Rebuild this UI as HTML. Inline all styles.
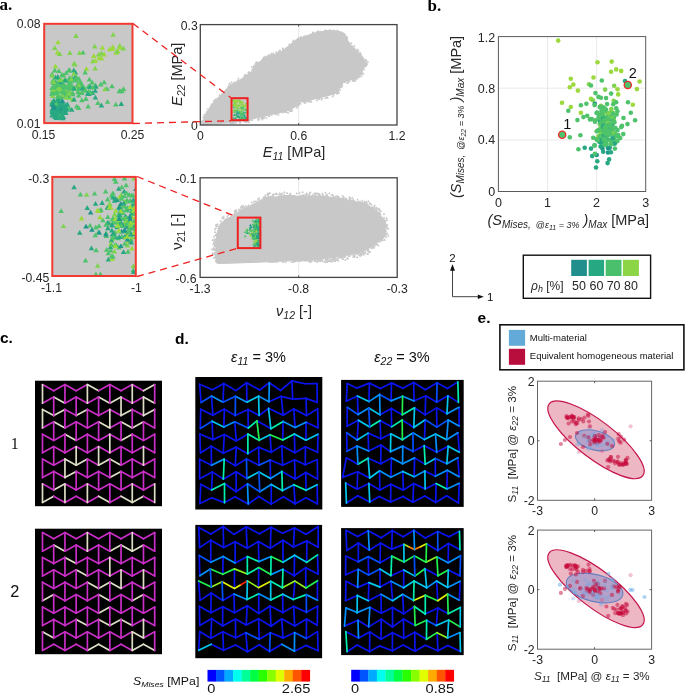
<!DOCTYPE html>
<html><head><meta charset="utf-8"><style>
html,body{margin:0;padding:0;background:#fff;width:685px;height:694px;overflow:hidden}
svg{display:block;font-family:"Liberation Sans",sans-serif}
svg{will-change:transform}
</style></head><body>
<svg width="685" height="694" viewBox="0 0 685 694">
<defs>
<clipPath id="ci1"><rect x="44.2" y="23.8" width="88.3" height="99.3"/></clipPath>
<clipPath id="ci2"><rect x="52.3" y="176.9" width="83.5" height="99.1"/></clipPath>
</defs>
<rect width="685" height="694" fill="#fff"/>
<text x="-0.6" y="9.5" font-size="17" font-weight="bold" font-family="Liberation Serif" fill="#000">a.</text>
<rect x="44.2" y="23.8" width="88.3" height="99.3" fill="#c8c8c8"/>
<g clip-path="url(#ci1)"><path d="M73.2 37.9L78.7 37.9L76.0 33.1Z" fill="#7fd34e"/><path d="M54.6 54.4L60.1 54.4L57.4 49.7Z" fill="#9bd93c"/><path d="M92.4 70.5L97.9 70.5L95.1 65.7Z" fill="#7fd34e"/><path d="M52.0 50.0L57.5 50.0L54.8 45.3Z" fill="#7fd34e"/><path d="M67.1 55.1L72.6 55.1L69.8 50.3Z" fill="#7fd34e"/><path d="M110.4 36.7L115.9 36.7L113.2 31.9Z" fill="#7fd34e"/><path d="M95.9 56.5L101.4 56.5L98.7 51.7Z" fill="#7fd34e"/><path d="M92.0 48.4L97.5 48.4L94.7 43.7Z" fill="#7fd34e"/><path d="M52.7 68.3L58.2 68.3L55.4 63.5Z" fill="#9bd93c"/><path d="M80.3 54.6L85.8 54.6L83.0 49.9Z" fill="#4ec36b"/><path d="M72.1 66.5L77.6 66.5L74.8 61.7Z" fill="#7fd34e"/><path d="M56.9 56.0L62.4 56.0L59.6 51.2Z" fill="#7fd34e"/><path d="M76.8 54.9L82.3 54.9L79.6 50.2Z" fill="#7fd34e"/><path d="M91.0 58.0L96.5 58.0L93.8 53.2Z" fill="#9bd93c"/><path d="M99.6 49.8L105.1 49.8L102.3 45.0Z" fill="#9bd93c"/><path d="M83.7 71.1L89.2 71.1L86.5 66.3Z" fill="#9bd93c"/><path d="M71.4 65.6L76.9 65.6L74.2 60.8Z" fill="#7fd34e"/><path d="M55.3 44.3L60.8 44.3L58.1 39.5Z" fill="#9bd93c"/><path d="M117.0 47.7L122.5 47.7L119.8 42.9Z" fill="#7fd34e"/><path d="M90.1 63.2L95.6 63.2L92.8 58.4Z" fill="#7fd34e"/><path d="M114.6 53.0L120.1 53.0L117.4 48.2Z" fill="#7fd34e"/><path d="M110.1 49.0L115.6 49.0L112.8 44.2Z" fill="#9bd93c"/><path d="M98.8 60.5L104.3 60.5L101.5 55.7Z" fill="#9bd93c"/><path d="M92.8 62.8L98.3 62.8L95.5 58.0Z" fill="#9bd93c"/><path d="M113.4 54.8L118.9 54.8L116.1 50.0Z" fill="#9bd93c"/><path d="M106.8 51.3L112.3 51.3L109.6 46.6Z" fill="#9bd93c"/><path d="M101.4 56.4L106.9 56.4L104.1 51.6Z" fill="#9bd93c"/><path d="M98.8 55.2L104.3 55.2L101.6 50.4Z" fill="#7fd34e"/><path d="M114.9 53.3L120.4 53.3L117.6 48.5Z" fill="#9bd93c"/><path d="M117.4 49.6L122.9 49.6L120.1 44.8Z" fill="#9bd93c"/><path d="M109.6 51.0L115.1 51.0L112.3 46.2Z" fill="#9bd93c"/><path d="M96.5 59.9L102.0 59.9L99.3 55.1Z" fill="#9bd93c"/><path d="M120.6 50.5L126.1 50.5L123.4 45.7Z" fill="#7fd34e"/><path d="M114.1 53.6L119.6 53.6L116.8 48.8Z" fill="#7fd34e"/><path d="M49.4 90.1L54.9 90.1L52.1 85.3Z" fill="#4ec36b"/><path d="M76.0 87.0L81.5 87.0L78.8 82.2Z" fill="#4ec36b"/><path d="M78.6 85.8L84.1 85.8L81.3 81.0Z" fill="#4ec36b"/><path d="M77.0 85.8L82.5 85.8L79.8 81.0Z" fill="#7fd34e"/><path d="M89.7 95.1L95.2 95.1L92.4 90.3Z" fill="#27a882"/><path d="M78.1 85.8L83.6 85.8L80.8 81.0Z" fill="#4ec36b"/><path d="M65.0 94.4L70.5 94.4L67.7 89.7Z" fill="#4ec36b"/><path d="M69.3 90.3L74.8 90.3L72.1 85.5Z" fill="#4ec36b"/><path d="M61.7 91.6L67.2 91.6L64.5 86.9Z" fill="#4ec36b"/><path d="M70.1 96.3L75.6 96.3L72.9 91.5Z" fill="#4ec36b"/><path d="M60.7 89.4L66.2 89.4L63.5 84.6Z" fill="#4ec36b"/><path d="M75.4 85.9L80.9 85.9L78.2 81.1Z" fill="#4ec36b"/><path d="M68.7 81.6L74.2 81.6L71.4 76.8Z" fill="#4ec36b"/><path d="M82.4 74.5L87.9 74.5L85.1 69.7Z" fill="#4ec36b"/><path d="M56.0 92.5L61.5 92.5L58.7 87.7Z" fill="#27a882"/><path d="M104.3 91.0L109.8 91.0L107.0 86.3Z" fill="#4ec36b"/><path d="M57.7 89.7L63.2 89.7L60.4 85.0Z" fill="#4ec36b"/><path d="M49.3 76.3L54.8 76.3L52.1 71.5Z" fill="#4ec36b"/><path d="M54.9 85.2L60.4 85.2L57.6 80.4Z" fill="#4ec36b"/><path d="M62.9 108.3L68.4 108.3L65.7 103.5Z" fill="#4ec36b"/><path d="M64.4 97.4L69.9 97.4L67.1 92.6Z" fill="#4ec36b"/><path d="M50.1 82.7L55.6 82.7L52.9 77.9Z" fill="#7fd34e"/><path d="M69.4 80.0L74.9 80.0L72.2 75.3Z" fill="#4ec36b"/><path d="M92.7 87.4L98.2 87.4L95.4 82.6Z" fill="#4ec36b"/><path d="M52.6 79.6L58.1 79.6L55.4 74.8Z" fill="#27a882"/><path d="M77.7 89.2L83.2 89.2L80.4 84.4Z" fill="#4ec36b"/><path d="M71.1 72.4L76.6 72.4L73.8 67.6Z" fill="#27a882"/><path d="M54.2 95.0L59.7 95.0L57.0 90.2Z" fill="#4ec36b"/><path d="M50.2 83.7L55.7 83.7L52.9 78.9Z" fill="#4ec36b"/><path d="M81.6 90.0L87.1 90.0L84.4 85.2Z" fill="#4ec36b"/><path d="M54.9 80.6L60.4 80.6L57.6 75.8Z" fill="#4ec36b"/><path d="M66.9 72.4L72.4 72.4L69.7 67.6Z" fill="#4ec36b"/><path d="M60.8 77.4L66.3 77.4L63.5 72.6Z" fill="#4ec36b"/><path d="M67.5 87.3L73.0 87.3L70.3 82.5Z" fill="#4ec36b"/><path d="M67.3 94.8L72.8 94.8L70.1 90.0Z" fill="#4ec36b"/><path d="M57.2 100.1L62.7 100.1L59.9 95.3Z" fill="#4ec36b"/><path d="M61.5 81.7L67.0 81.7L64.3 76.9Z" fill="#7fd34e"/><path d="M65.2 98.9L70.7 98.9L68.0 94.1Z" fill="#27a882"/><path d="M72.6 74.5L78.1 74.5L75.4 69.8Z" fill="#27a882"/><path d="M52.4 84.2L57.9 84.2L55.2 79.4Z" fill="#4ec36b"/><path d="M75.3 94.0L80.8 94.0L78.0 89.2Z" fill="#4ec36b"/><path d="M66.0 72.4L71.5 72.4L68.8 67.6Z" fill="#4ec36b"/><path d="M81.4 92.4L86.9 92.4L84.1 87.6Z" fill="#4ec36b"/><path d="M51.2 84.6L56.7 84.6L53.9 79.8Z" fill="#4ec36b"/><path d="M75.6 91.2L81.1 91.2L78.3 86.4Z" fill="#4ec36b"/><path d="M53.2 85.2L58.7 85.2L55.9 80.4Z" fill="#27a882"/><path d="M67.9 84.3L73.4 84.3L70.7 79.5Z" fill="#4ec36b"/><path d="M63.3 97.8L68.8 97.8L66.1 93.0Z" fill="#4ec36b"/><path d="M102.2 91.3L107.7 91.3L105.0 86.5Z" fill="#7fd34e"/><path d="M75.8 97.4L81.3 97.4L78.6 92.6Z" fill="#4ec36b"/><path d="M86.3 95.9L91.8 95.9L89.1 91.2Z" fill="#27a882"/><path d="M52.6 88.0L58.1 88.0L55.3 83.3Z" fill="#4ec36b"/><path d="M53.2 95.1L58.7 95.1L56.0 90.3Z" fill="#4ec36b"/><path d="M60.8 98.3L66.3 98.3L63.5 93.5Z" fill="#27a882"/><path d="M79.1 102.3L84.6 102.3L81.8 97.5Z" fill="#4ec36b"/><path d="M72.8 82.3L78.3 82.3L75.6 77.5Z" fill="#27a882"/><path d="M66.5 84.7L72.0 84.7L69.2 79.9Z" fill="#4ec36b"/><path d="M57.1 92.8L62.6 92.8L59.8 88.0Z" fill="#4ec36b"/><path d="M70.6 90.4L76.1 90.4L73.4 85.6Z" fill="#4ec36b"/><path d="M76.1 80.7L81.6 80.7L78.9 75.9Z" fill="#4ec36b"/><path d="M59.9 97.4L65.4 97.4L62.6 92.6Z" fill="#7fd34e"/><path d="M54.4 91.4L59.9 91.4L57.2 86.6Z" fill="#7fd34e"/><path d="M74.5 88.2L80.0 88.2L77.3 83.4Z" fill="#27a882"/><path d="M56.1 73.0L61.6 73.0L58.9 68.3Z" fill="#4ec36b"/><path d="M49.4 95.8L54.9 95.8L52.2 91.0Z" fill="#27a882"/><path d="M67.2 94.5L72.7 94.5L69.9 89.7Z" fill="#4ec36b"/><path d="M52.0 72.4L57.5 72.4L54.8 67.6Z" fill="#4ec36b"/><path d="M73.9 108.5L79.4 108.5L76.6 103.8Z" fill="#4ec36b"/><path d="M79.9 88.5L85.4 88.5L82.6 83.7Z" fill="#4ec36b"/><path d="M85.5 88.6L91.0 88.6L88.3 83.9Z" fill="#4ec36b"/><path d="M78.2 84.9L83.7 84.9L80.9 80.2Z" fill="#4ec36b"/><path d="M86.6 81.5L92.1 81.5L89.4 76.7Z" fill="#4ec36b"/><path d="M55.1 85.7L60.6 85.7L57.8 80.9Z" fill="#4ec36b"/><path d="M62.8 93.8L68.3 93.8L65.6 89.0Z" fill="#7fd34e"/><path d="M49.7 92.5L55.2 92.5L52.5 87.7Z" fill="#7fd34e"/><path d="M52.6 93.3L58.1 93.3L55.3 88.5Z" fill="#27a882"/><path d="M67.2 99.9L72.7 99.9L69.9 95.1Z" fill="#7fd34e"/><path d="M59.4 93.9L64.9 93.9L62.2 89.2Z" fill="#4ec36b"/><path d="M63.0 88.3L68.5 88.3L65.8 83.5Z" fill="#4ec36b"/><path d="M67.8 94.9L73.3 94.9L70.6 90.1Z" fill="#7fd34e"/><path d="M55.1 85.3L60.6 85.3L57.9 80.5Z" fill="#4ec36b"/><path d="M69.6 89.1L75.1 89.1L72.3 84.3Z" fill="#4ec36b"/><path d="M55.1 96.0L60.6 96.0L57.9 91.2Z" fill="#7fd34e"/><path d="M61.3 94.8L66.8 94.8L64.1 90.0Z" fill="#4ec36b"/><path d="M52.8 90.0L58.3 90.0L55.6 85.2Z" fill="#4ec36b"/><path d="M65.9 88.7L71.4 88.7L68.6 83.9Z" fill="#4ec36b"/><path d="M83.2 101.1L88.7 101.1L86.0 96.3Z" fill="#4ec36b"/><path d="M58.5 88.7L64.0 88.7L61.3 83.9Z" fill="#4ec36b"/><path d="M55.2 106.6L60.7 106.6L58.0 101.8Z" fill="#4ec36b"/><path d="M50.6 93.6L56.1 93.6L53.3 88.8Z" fill="#4ec36b"/><path d="M66.8 79.7L72.3 79.7L69.6 74.9Z" fill="#4ec36b"/><path d="M69.8 94.9L75.3 94.9L72.6 90.1Z" fill="#4ec36b"/><path d="M77.3 84.1L82.8 84.1L80.0 79.3Z" fill="#4ec36b"/><path d="M55.8 103.5L61.3 103.5L58.5 98.7Z" fill="#4ec36b"/><path d="M56.2 90.8L61.7 90.8L58.9 86.0Z" fill="#4ec36b"/><path d="M73.1 78.6L78.6 78.6L75.9 73.8Z" fill="#4ec36b"/><path d="M60.3 85.8L65.8 85.8L63.0 81.0Z" fill="#4ec36b"/><path d="M63.6 82.7L69.1 82.7L66.3 77.9Z" fill="#4ec36b"/><path d="M70.0 89.1L75.5 89.1L72.8 84.3Z" fill="#4ec36b"/><path d="M53.5 87.7L59.0 87.7L56.3 83.0Z" fill="#7fd34e"/><path d="M49.9 93.2L55.4 93.2L52.7 88.4Z" fill="#4ec36b"/><path d="M50.2 94.4L55.7 94.4L52.9 89.7Z" fill="#4ec36b"/><path d="M66.2 82.3L71.7 82.3L69.0 77.5Z" fill="#4ec36b"/><path d="M55.1 98.5L60.6 98.5L57.9 93.7Z" fill="#4ec36b"/><path d="M53.9 103.7L59.4 103.7L56.6 98.9Z" fill="#4ec36b"/><path d="M53.0 89.7L58.5 89.7L55.8 85.0Z" fill="#4ec36b"/><path d="M61.6 87.8L67.1 87.8L64.3 83.0Z" fill="#4ec36b"/><path d="M49.8 98.1L55.3 98.1L52.6 93.3Z" fill="#7fd34e"/><path d="M58.2 81.7L63.7 81.7L60.9 76.9Z" fill="#4ec36b"/><path d="M89.4 84.6L94.9 84.6L92.2 79.8Z" fill="#4ec36b"/><path d="M54.2 94.6L59.7 94.6L56.9 89.8Z" fill="#4ec36b"/><path d="M70.0 102.0L75.5 102.0L72.8 97.2Z" fill="#7fd34e"/><path d="M50.7 85.0L56.2 85.0L53.5 80.3Z" fill="#4ec36b"/><path d="M87.1 87.7L92.6 87.7L89.8 82.9Z" fill="#4ec36b"/><path d="M78.9 95.0L84.4 95.0L81.7 90.3Z" fill="#4ec36b"/><path d="M55.4 90.5L60.9 90.5L58.1 85.7Z" fill="#7fd34e"/><path d="M71.2 75.8L76.7 75.8L73.9 71.0Z" fill="#7fd34e"/><path d="M75.8 87.4L81.3 87.4L78.6 82.6Z" fill="#7fd34e"/><path d="M55.2 97.9L60.7 97.9L57.9 93.2Z" fill="#4ec36b"/><path d="M49.5 90.1L55.0 90.1L52.2 85.3Z" fill="#4ec36b"/><path d="M101.4 84.3L106.9 84.3L104.1 79.5Z" fill="#4ec36b"/><path d="M51.6 91.3L57.1 91.3L54.4 86.5Z" fill="#4ec36b"/><path d="M51.8 94.4L57.3 94.4L54.5 89.6Z" fill="#4ec36b"/><path d="M65.9 95.5L71.4 95.5L68.7 90.8Z" fill="#4ec36b"/><path d="M57.7 84.4L63.2 84.4L60.4 79.6Z" fill="#27a882"/><path d="M64.9 89.6L70.4 89.6L67.7 84.8Z" fill="#4ec36b"/><path d="M65.7 97.8L71.2 97.8L68.4 93.0Z" fill="#4ec36b"/><path d="M66.1 90.4L71.6 90.4L68.9 85.6Z" fill="#4ec36b"/><path d="M92.6 99.6L98.1 99.6L95.4 94.8Z" fill="#27a882"/><path d="M49.3 77.7L54.8 77.7L52.1 72.9Z" fill="#7fd34e"/><path d="M55.0 78.9L60.5 78.9L57.7 74.1Z" fill="#27a882"/><path d="M75.9 109.9L81.4 109.9L78.6 105.1Z" fill="#4ec36b"/><path d="M55.2 100.2L60.7 100.2L57.9 95.5Z" fill="#4ec36b"/><path d="M85.8 93.5L91.3 93.5L88.6 88.7Z" fill="#4ec36b"/><path d="M71.9 80.1L77.4 80.1L74.7 75.3Z" fill="#27a882"/><path d="M93.1 88.8L98.6 88.8L95.9 84.0Z" fill="#27a882"/><path d="M87.2 89.0L92.7 89.0L89.9 84.2Z" fill="#27a882"/><path d="M79.6 90.6L85.1 90.6L82.3 85.8Z" fill="#27a882"/><path d="M72.9 81.8L78.4 81.8L75.7 77.0Z" fill="#7fd34e"/><path d="M54.5 86.8L60.0 86.8L57.3 82.0Z" fill="#4ec36b"/><path d="M61.9 95.0L67.4 95.0L64.7 90.2Z" fill="#4ec36b"/><path d="M64.9 95.5L70.4 95.5L67.7 90.7Z" fill="#4ec36b"/><path d="M68.7 81.3L74.2 81.3L71.5 76.5Z" fill="#7fd34e"/><path d="M49.8 95.6L55.3 95.6L52.5 90.9Z" fill="#4ec36b"/><path d="M59.1 76.7L64.6 76.7L61.8 71.9Z" fill="#4ec36b"/><path d="M56.3 87.3L61.8 87.3L59.0 82.5Z" fill="#4ec36b"/><path d="M79.2 94.7L84.7 94.7L81.9 89.9Z" fill="#4ec36b"/><path d="M63.3 75.0L68.8 75.0L66.1 70.2Z" fill="#4ec36b"/><path d="M51.0 84.0L56.5 84.0L53.8 79.2Z" fill="#7fd34e"/><path d="M62.3 82.2L67.8 82.2L65.1 77.4Z" fill="#27a882"/><path d="M66.1 95.5L71.6 95.5L68.9 90.8Z" fill="#7fd34e"/><path d="M50.7 91.8L56.2 91.8L53.4 87.0Z" fill="#7fd34e"/><path d="M54.3 86.9L59.8 86.9L57.0 82.1Z" fill="#4ec36b"/><path d="M63.5 99.5L69.0 99.5L66.3 94.7Z" fill="#7fd34e"/><path d="M57.9 99.2L63.4 99.2L60.7 94.4Z" fill="#4ec36b"/><path d="M72.2 90.4L77.7 90.4L74.9 85.6Z" fill="#7fd34e"/><path d="M60.6 92.7L66.1 92.7L63.4 87.9Z" fill="#4ec36b"/><path d="M55.4 98.7L60.9 98.7L58.1 93.9Z" fill="#4ec36b"/><path d="M82.6 92.3L88.1 92.3L85.4 87.5Z" fill="#4ec36b"/><path d="M66.6 110.4L72.1 110.4L69.3 105.6Z" fill="#4ec36b"/><path d="M71.3 90.4L76.8 90.4L74.0 85.6Z" fill="#27a882"/><path d="M109.2 88.3L114.8 88.3L112.0 83.5Z" fill="#4ec36b"/><path d="M83.0 101.0L88.5 101.0L85.8 96.2Z" fill="#4ec36b"/><path d="M57.0 91.0L62.5 91.0L59.8 86.2Z" fill="#7fd34e"/><path d="M98.1 86.4L103.6 86.4L100.8 81.6Z" fill="#4ec36b"/><path d="M71.8 82.6L77.3 82.6L74.5 77.8Z" fill="#4ec36b"/><path d="M72.9 81.3L78.4 81.3L75.6 76.5Z" fill="#4ec36b"/><path d="M90.1 89.6L95.6 89.6L92.9 84.8Z" fill="#4ec36b"/><path d="M50.9 89.5L56.4 89.5L53.7 84.7Z" fill="#4ec36b"/><path d="M57.7 82.0L63.2 82.0L60.5 77.2Z" fill="#7fd34e"/><path d="M88.0 94.6L93.5 94.6L90.8 89.9Z" fill="#4ec36b"/><path d="M87.2 94.3L92.7 94.3L90.0 89.6Z" fill="#4ec36b"/><path d="M113.0 106.5L118.5 106.5L115.8 101.7Z" fill="#4ec36b"/><path d="M120.8 91.1L126.3 91.1L123.5 86.3Z" fill="#4ec36b"/><path d="M119.2 93.3L124.7 93.3L122.0 88.6Z" fill="#4ec36b"/><path d="M84.9 95.8L90.4 95.8L87.7 91.0Z" fill="#27a882"/><path d="M85.4 108.6L90.9 108.6L88.1 103.8Z" fill="#4ec36b"/><path d="M117.3 93.1L122.8 93.1L120.0 88.3Z" fill="#4ec36b"/><path d="M116.5 93.2L122.0 93.2L119.2 88.5Z" fill="#4ec36b"/><path d="M92.5 92.8L98.0 92.8L95.2 88.0Z" fill="#27a882"/><path d="M95.2 104.9L100.7 104.9L97.9 100.2Z" fill="#4ec36b"/><path d="M118.5 105.9L124.0 105.9L121.3 101.1Z" fill="#27a882"/><path d="M98.7 107.4L104.2 107.4L101.4 102.6Z" fill="#27a882"/><path d="M104.8 103.7L110.3 103.7L107.5 98.9Z" fill="#4ec36b"/><path d="M57.7 113.1L63.2 113.1L60.5 108.3Z" fill="#27a882"/><path d="M53.0 113.6L58.5 113.6L55.8 108.9Z" fill="#27a882"/><path d="M69.0 111.8L74.5 111.8L71.8 107.1Z" fill="#27a882"/><path d="M51.0 110.4L56.5 110.4L53.8 105.6Z" fill="#27a882"/><path d="M50.6 115.4L56.1 115.4L53.4 110.6Z" fill="#1f968b"/><path d="M56.0 106.3L61.5 106.3L58.8 101.6Z" fill="#1f968b"/><path d="M50.0 114.1L55.5 114.1L52.7 109.3Z" fill="#27a882"/><path d="M59.6 104.6L65.1 104.6L62.3 99.8Z" fill="#27a882"/><path d="M58.7 116.8L64.2 116.8L61.4 112.0Z" fill="#4ec36b"/><path d="M54.1 105.6L59.6 105.6L56.8 100.8Z" fill="#27a882"/><path d="M59.1 104.0L64.6 104.0L61.8 99.3Z" fill="#27a882"/><path d="M49.5 106.0L55.0 106.0L52.2 101.2Z" fill="#27a882"/><path d="M51.4 105.9L56.9 105.9L54.1 101.2Z" fill="#27a882"/><path d="M52.5 116.8L58.0 116.8L55.3 112.0Z" fill="#27a882"/><path d="M60.6 109.2L66.1 109.2L63.4 104.5Z" fill="#27a882"/><path d="M59.0 115.6L64.5 115.6L61.7 110.8Z" fill="#27a882"/><path d="M55.1 102.6L60.6 102.6L57.8 97.8Z" fill="#27a882"/><path d="M55.0 112.3L60.5 112.3L57.7 107.5Z" fill="#27a882"/><path d="M56.7 113.4L62.2 113.4L59.5 108.6Z" fill="#27a882"/><path d="M56.8 103.2L62.3 103.2L59.6 98.4Z" fill="#27a882"/><path d="M59.0 109.6L64.5 109.6L61.7 104.8Z" fill="#27a882"/><path d="M57.9 117.5L63.4 117.5L60.6 112.7Z" fill="#27a882"/><path d="M55.9 115.9L61.4 115.9L58.6 111.1Z" fill="#27a882"/><path d="M56.0 119.8L61.5 119.8L58.8 115.0Z" fill="#27a882"/><path d="M58.2 119.0L63.7 119.0L61.0 114.2Z" fill="#4ec36b"/><path d="M49.3 117.6L54.8 117.6L52.0 112.9Z" fill="#27a882"/><path d="M49.3 104.3L54.8 104.3L52.0 99.5Z" fill="#4ec36b"/><path d="M53.6 119.9L59.1 119.9L56.3 115.1Z" fill="#27a882"/><path d="M62.7 113.7L68.2 113.7L65.4 108.9Z" fill="#27a882"/><path d="M54.4 103.0L59.9 103.0L57.2 98.2Z" fill="#27a882"/><path d="M53.9 112.2L59.4 112.2L56.7 107.4Z" fill="#27a882"/><path d="M49.3 113.7L54.8 113.7L52.0 108.9Z" fill="#27a882"/><path d="M61.5 111.4L67.0 111.4L64.3 106.6Z" fill="#27a882"/><path d="M52.2 114.7L57.7 114.7L55.0 109.9Z" fill="#27a882"/><path d="M55.4 119.3L60.9 119.3L58.2 114.5Z" fill="#27a882"/><path d="M53.7 108.8L59.2 108.8L56.4 104.0Z" fill="#27a882"/><path d="M49.4 111.6L54.9 111.6L52.1 106.8Z" fill="#27a882"/><path d="M49.7 106.7L55.2 106.7L52.4 101.9Z" fill="#27a882"/><path d="M60.7 110.4L66.2 110.4L63.5 105.6Z" fill="#27a882"/><path d="M64.0 111.8L69.5 111.8L66.7 107.0Z" fill="#27a882"/><path d="M62.9 107.2L68.4 107.2L65.6 102.4Z" fill="#27a882"/><path d="M52.7 105.1L58.2 105.1L55.4 100.3Z" fill="#1f968b"/><path d="M51.5 105.7L57.0 105.7L54.2 100.9Z" fill="#27a882"/><path d="M52.2 119.0L57.7 119.0L55.0 114.2Z" fill="#27a882"/><path d="M63.1 115.0L68.6 115.0L65.9 110.3Z" fill="#27a882"/><path d="M49.9 114.4L55.4 114.4L52.6 109.6Z" fill="#27a882"/><path d="M56.7 117.5L62.2 117.5L59.5 112.7Z" fill="#27a882"/><path d="M49.6 105.3L55.1 105.3L52.3 100.5Z" fill="#27a882"/><path d="M55.6 105.8L61.1 105.8L58.3 101.0Z" fill="#27a882"/><path d="M64.7 106.4L70.2 106.4L67.4 101.6Z" fill="#27a882"/><path d="M59.0 113.0L64.5 113.0L61.7 108.2Z" fill="#27a882"/><path d="M57.2 110.6L62.7 110.6L60.0 105.8Z" fill="#1f968b"/><path d="M60.6 118.9L66.1 118.9L63.3 114.1Z" fill="#27a882"/><path d="M53.4 105.4L58.9 105.4L56.2 100.7Z" fill="#4ec36b"/><path d="M51.1 102.5L56.6 102.5L53.8 97.8Z" fill="#27a882"/><path d="M51.5 109.9L57.0 109.9L54.3 105.2Z" fill="#1f968b"/><path d="M60.1 120.3L65.6 120.3L62.9 115.6Z" fill="#27a882"/><path d="M59.0 107.6L64.5 107.6L61.8 102.9Z" fill="#27a882"/><path d="M55.6 110.3L61.1 110.3L58.3 105.5Z" fill="#27a882"/><path d="M58.2 114.0L63.7 114.0L61.0 109.2Z" fill="#27a882"/><path d="M63.1 109.8L68.6 109.8L65.9 105.0Z" fill="#27a882"/><path d="M71.3 101.4L76.8 101.4L74.1 96.7Z" fill="#27a882"/><path d="M57.5 118.2L63.0 118.2L60.2 113.4Z" fill="#4ec36b"/><path d="M53.8 119.7L59.3 119.7L56.6 114.9Z" fill="#27a882"/><path d="M60.5 107.3L66.0 107.3L63.2 102.5Z" fill="#27a882"/><path d="M59.8 103.1L65.3 103.1L62.5 98.3Z" fill="#1f968b"/><path d="M57.8 118.9L63.3 118.9L60.6 114.1Z" fill="#27a882"/><path d="M50.7 107.5L56.2 107.5L53.4 102.8Z" fill="#1f968b"/><path d="M51.0 109.2L56.5 109.2L53.8 104.4Z" fill="#1f968b"/><path d="M50.6 116.0L56.1 116.0L53.3 111.2Z" fill="#27a882"/></g>
<rect x="44.2" y="23.8" width="88.3" height="99.3" fill="none" stroke="#f03a32" stroke-width="2"/>
<text x="40.5" y="28.3" font-size="12.2" text-anchor="end" fill="#262626" >0.08</text>
<text x="40.5" y="128.3" font-size="12.2" text-anchor="end" fill="#262626" >0.01</text>
<text x="43.5" y="138.5" font-size="12.2" text-anchor="middle" fill="#262626" >0.15</text>
<text x="132.5" y="138.5" font-size="12.2" text-anchor="middle" fill="#262626" >0.25</text>
<line x1="298.7" y1="24.6" x2="298.7" y2="125" stroke="#dcdcdc" stroke-width="0.7"/>
<path d="M201.6 124.2 L206.9 112.5 L212.9 103.6 L218.8 97.6 L224.8 91.0 L230.0 85.7 L236.1 82.1 L242.3 79.0 L247.4 75.0 L252.5 70.9 L255.5 63.7 L260.7 61.7 L265.8 57.6 L270.9 55.5 L276.0 54.0 L281.1 52.0 L285.2 48.9 L291.3 44.3 L296.4 39.7 L300.0 38.6 L305.1 36.3 L310.2 34.8 L315.3 33.2 L320.4 32.2 L325.5 31.2 L330.7 30.7 L335.8 31.0 L340.9 32.2 L343.9 33.2 L346.0 37.3 L348.0 41.4 L351.1 45.5 L355.2 49.6 L358.2 52.7 L361.3 56.7 L364.4 60.8 L366.4 62.9 L364.4 66.0 L362.3 71.0 L360.3 75.1 L357.2 78.2 L351.1 79.7 L345.0 81.5 L342.7 83.0 L340.4 85.3 L338.1 91.5 L332.0 94.5 L322.8 96.8 L313.6 99.1 L304.4 100.7 L297.5 103.0 L295.2 106.8 L289.0 110.2 L278.3 112.9 L267.6 115.2 L258.4 117.5 L249.2 119.8 L227.8 123.0 L201.7 124.6Z" fill="#c8c8c8" stroke="#c8c8c8" stroke-width="1.2" stroke-linejoin="round"/>
<path d="M303.9 103.4L306.5 103.4L305.2 101.2Z" fill="#c8c8c8"/><path d="M277.4 53.0L280.0 53.0L278.7 50.7Z" fill="#c8c8c8"/><path d="M231.7 123.7L234.3 123.7L233.0 121.5Z" fill="#c8c8c8"/><path d="M337.4 93.8L340.0 93.8L338.7 91.5Z" fill="#c8c8c8"/><path d="M315.8 101.2L318.4 101.2L317.1 98.9Z" fill="#c8c8c8"/><path d="M336.8 93.3L339.4 93.3L338.1 91.0Z" fill="#c8c8c8"/><path d="M220.6 92.0L223.2 92.0L221.9 89.7Z" fill="#c8c8c8"/><path d="M246.8 121.4L249.4 121.4L248.1 119.1Z" fill="#c8c8c8"/><path d="M203.1 118.4L205.7 118.4L204.4 116.2Z" fill="#c8c8c8"/><path d="M304.3 101.8L306.9 101.8L305.6 99.5Z" fill="#c8c8c8"/><path d="M287.9 45.3L290.5 45.3L289.2 43.0Z" fill="#c8c8c8"/><path d="M299.3 38.4L301.9 38.4L300.6 36.1Z" fill="#c8c8c8"/><path d="M213.4 101.0L216.0 101.0L214.7 98.7Z" fill="#c8c8c8"/><path d="M296.6 105.2L299.2 105.2L297.9 103.0Z" fill="#c8c8c8"/><path d="M267.7 116.9L270.3 116.9L269.0 114.7Z" fill="#c8c8c8"/><path d="M262.2 119.3L264.8 119.3L263.5 117.0Z" fill="#c8c8c8"/><path d="M270.4 55.0L273.0 55.0L271.7 52.7Z" fill="#c8c8c8"/><path d="M242.6 78.1L245.2 78.1L243.9 75.9Z" fill="#c8c8c8"/><path d="M364.3 67.0L366.9 67.0L365.6 64.7Z" fill="#c8c8c8"/><path d="M314.9 34.1L317.5 34.1L316.2 31.8Z" fill="#c8c8c8"/><path d="M212.6 102.2L215.2 102.2L213.9 100.0Z" fill="#c8c8c8"/><path d="M244.5 75.8L247.1 75.8L245.8 73.5Z" fill="#c8c8c8"/><path d="M281.5 49.2L284.1 49.2L282.8 46.9Z" fill="#c8c8c8"/><path d="M319.5 32.5L322.1 32.5L320.8 30.3Z" fill="#c8c8c8"/><path d="M299.4 104.4L302.0 104.4L300.7 102.2Z" fill="#c8c8c8"/><path d="M267.6 56.2L270.2 56.2L268.9 54.0Z" fill="#c8c8c8"/><path d="M365.8 64.7L368.4 64.7L367.1 62.5Z" fill="#c8c8c8"/><path d="M248.3 121.1L250.9 121.1L249.6 118.8Z" fill="#c8c8c8"/><path d="M247.1 73.2L249.7 73.2L248.4 70.9Z" fill="#c8c8c8"/><path d="M283.7 112.8L286.3 112.8L285.0 110.5Z" fill="#c8c8c8"/><path d="M358.9 53.7L361.5 53.7L360.2 51.5Z" fill="#c8c8c8"/><path d="M230.3 83.2L232.9 83.2L231.6 81.0Z" fill="#c8c8c8"/><path d="M324.1 31.1L326.7 31.1L325.4 28.9Z" fill="#c8c8c8"/><path d="M325.4 31.8L328.0 31.8L326.7 29.5Z" fill="#c8c8c8"/><path d="M320.4 99.1L323.0 99.1L321.7 96.9Z" fill="#c8c8c8"/><path d="M250.7 121.1L253.3 121.1L252.0 118.9Z" fill="#c8c8c8"/><path d="M364.9 64.5L367.5 64.5L366.2 62.2Z" fill="#c8c8c8"/><path d="M355.9 50.3L358.5 50.3L357.2 48.0Z" fill="#c8c8c8"/><path d="M242.4 78.9L245.0 78.9L243.7 76.7Z" fill="#c8c8c8"/><path d="M258.9 62.4L261.5 62.4L260.2 60.2Z" fill="#c8c8c8"/><path d="M326.3 98.4L328.9 98.4L327.6 96.2Z" fill="#c8c8c8"/><path d="M332.0 31.2L334.6 31.2L333.3 28.9Z" fill="#c8c8c8"/><path d="M323.9 99.1L326.5 99.1L325.2 96.9Z" fill="#c8c8c8"/><path d="M351.4 81.6L354.0 81.6L352.7 79.3Z" fill="#c8c8c8"/><path d="M250.9 70.3L253.5 70.3L252.2 68.0Z" fill="#c8c8c8"/><path d="M200.0 122.4L202.6 122.4L201.3 120.2Z" fill="#c8c8c8"/><path d="M340.0 87.4L342.6 87.4L341.3 85.2Z" fill="#c8c8c8"/><path d="M364.3 65.9L366.9 65.9L365.6 63.6Z" fill="#c8c8c8"/><path d="M255.6 63.0L258.2 63.0L256.9 60.7Z" fill="#c8c8c8"/><path d="M318.3 32.8L320.9 32.8L319.6 30.5Z" fill="#c8c8c8"/><path d="M288.9 110.8L291.5 110.8L290.2 108.6Z" fill="#c8c8c8"/><path d="M298.1 104.3L300.7 104.3L299.4 102.0Z" fill="#c8c8c8"/><path d="M228.5 84.8L231.1 84.8L229.8 82.6Z" fill="#c8c8c8"/><path d="M346.0 38.5L348.6 38.5L347.3 36.3Z" fill="#c8c8c8"/><path d="M302.2 102.3L304.8 102.3L303.5 100.1Z" fill="#c8c8c8"/><path d="M229.2 123.8L231.8 123.8L230.5 121.6Z" fill="#c8c8c8"/><path d="M296.7 106.7L299.3 106.7L298.0 104.5Z" fill="#c8c8c8"/><path d="M247.8 123.0L250.4 123.0L249.1 120.7Z" fill="#c8c8c8"/><path d="M283.2 113.0L285.8 113.0L284.5 110.8Z" fill="#c8c8c8"/><path d="M343.7 83.1L346.3 83.1L345.0 80.9Z" fill="#c8c8c8"/><path d="M265.3 58.4L267.9 58.4L266.6 56.1Z" fill="#c8c8c8"/><path d="M352.3 81.8L354.9 81.8L353.6 79.6Z" fill="#c8c8c8"/><path d="M340.3 33.2L342.9 33.2L341.6 30.9Z" fill="#c8c8c8"/><path d="M286.8 113.7L289.4 113.7L288.1 111.4Z" fill="#c8c8c8"/><path d="M260.9 120.2L263.5 120.2L262.2 117.9Z" fill="#c8c8c8"/><path d="M243.4 77.6L246.0 77.6L244.7 75.4Z" fill="#c8c8c8"/><path d="M320.4 100.3L323.0 100.3L321.7 98.0Z" fill="#c8c8c8"/><path d="M290.4 111.7L293.0 111.7L291.7 109.4Z" fill="#c8c8c8"/><path d="M346.7 82.2L349.3 82.2L348.0 80.0Z" fill="#c8c8c8"/><path d="M265.3 58.3L267.9 58.3L266.6 56.0Z" fill="#c8c8c8"/><path d="M288.8 111.9L291.4 111.9L290.1 109.6Z" fill="#c8c8c8"/><path d="M285.3 112.9L287.9 112.9L286.6 110.7Z" fill="#c8c8c8"/><path d="M346.6 83.6L349.2 83.6L347.9 81.4Z" fill="#c8c8c8"/><path d="M354.2 80.8L356.8 80.8L355.5 78.5Z" fill="#c8c8c8"/><path d="M290.7 110.9L293.3 110.9L292.0 108.7Z" fill="#c8c8c8"/><path d="M236.3 81.6L238.9 81.6L237.6 79.4Z" fill="#c8c8c8"/><path d="M242.9 122.3L245.5 122.3L244.2 120.0Z" fill="#c8c8c8"/><path d="M204.9 114.9L207.5 114.9L206.2 112.7Z" fill="#c8c8c8"/><path d="M270.2 115.8L272.8 115.8L271.5 113.5Z" fill="#c8c8c8"/><path d="M278.5 51.3L281.1 51.3L279.8 49.0Z" fill="#c8c8c8"/><path d="M276.4 114.3L279.0 114.3L277.7 112.0Z" fill="#c8c8c8"/><path d="M334.8 32.0L337.4 32.0L336.1 29.8Z" fill="#c8c8c8"/><path d="M340.6 85.5L343.2 85.5L341.9 83.2Z" fill="#c8c8c8"/><path d="M232.5 123.9L235.1 123.9L233.8 121.6Z" fill="#c8c8c8"/><path d="M362.7 68.1L365.3 68.1L364.0 65.9Z" fill="#c8c8c8"/><path d="M276.5 54.3L279.1 54.3L277.8 52.0Z" fill="#c8c8c8"/><path d="M350.1 44.1L352.7 44.1L351.4 41.9Z" fill="#c8c8c8"/><path d="M228.2 84.5L230.8 84.5L229.5 82.3Z" fill="#c8c8c8"/><path d="M234.5 123.0L237.1 123.0L235.8 120.7Z" fill="#c8c8c8"/><path d="M346.0 83.7L348.6 83.7L347.3 81.4Z" fill="#c8c8c8"/><path d="M202.9 115.5L205.5 115.5L204.2 113.2Z" fill="#c8c8c8"/><path d="M339.1 88.3L341.7 88.3L340.4 86.1Z" fill="#c8c8c8"/><path d="M331.5 97.2L334.1 97.2L332.8 95.0Z" fill="#c8c8c8"/><path d="M230.5 124.0L233.1 124.0L231.8 121.7Z" fill="#c8c8c8"/><path d="M335.6 93.3L338.2 93.3L336.9 91.1Z" fill="#c8c8c8"/><path d="M257.6 120.2L260.2 120.2L258.9 118.0Z" fill="#c8c8c8"/><path d="M264.5 58.4L267.1 58.4L265.8 56.2Z" fill="#c8c8c8"/><path d="M335.7 32.1L338.3 32.1L337.0 29.8Z" fill="#c8c8c8"/><path d="M205.3 112.8L207.9 112.8L206.6 110.5Z" fill="#c8c8c8"/><path d="M360.1 77.1L362.7 77.1L361.4 74.8Z" fill="#c8c8c8"/><path d="M216.3 99.2L218.9 99.2L217.6 96.9Z" fill="#c8c8c8"/><path d="M262.9 118.3L265.5 118.3L264.2 116.1Z" fill="#c8c8c8"/><path d="M277.1 115.4L279.7 115.4L278.4 113.2Z" fill="#c8c8c8"/><path d="M248.0 73.2L250.6 73.2L249.3 71.0Z" fill="#c8c8c8"/><path d="M343.5 35.3L346.1 35.3L344.8 33.0Z" fill="#c8c8c8"/><path d="M290.2 44.7L292.8 44.7L291.5 42.5Z" fill="#c8c8c8"/><path d="M246.2 122.0L248.8 122.0L247.5 119.7Z" fill="#c8c8c8"/><path d="M357.2 51.6L359.8 51.6L358.5 49.3Z" fill="#c8c8c8"/><path d="M337.1 32.1L339.7 32.1L338.4 29.8Z" fill="#c8c8c8"/><path d="M295.3 105.6L297.9 105.6L296.6 103.4Z" fill="#c8c8c8"/><path d="M309.9 102.5L312.5 102.5L311.2 100.2Z" fill="#c8c8c8"/><path d="M257.1 119.4L259.7 119.4L258.4 117.2Z" fill="#c8c8c8"/><path d="M299.8 37.9L302.4 37.9L301.1 35.6Z" fill="#c8c8c8"/><path d="M263.2 58.5L265.8 58.5L264.5 56.3Z" fill="#c8c8c8"/><path d="M360.9 58.7L363.5 58.7L362.2 56.4Z" fill="#c8c8c8"/><path d="M262.8 57.9L265.4 57.9L264.1 55.6Z" fill="#c8c8c8"/><path d="M213.3 101.7L215.9 101.7L214.6 99.4Z" fill="#c8c8c8"/><path d="M259.9 118.7L262.5 118.7L261.2 116.5Z" fill="#c8c8c8"/><path d="M260.5 61.9L263.1 61.9L261.8 59.6Z" fill="#c8c8c8"/><path d="M308.4 102.6L311.0 102.6L309.7 100.3Z" fill="#c8c8c8"/><path d="M362.0 59.7L364.6 59.7L363.3 57.5Z" fill="#c8c8c8"/><path d="M247.9 120.9L250.5 120.9L249.2 118.7Z" fill="#c8c8c8"/><path d="M245.8 76.1L248.4 76.1L247.1 73.9Z" fill="#c8c8c8"/><path d="M348.0 82.2L350.6 82.2L349.3 80.0Z" fill="#c8c8c8"/><path d="M315.1 33.4L317.7 33.4L316.4 31.1Z" fill="#c8c8c8"/><path d="M312.2 34.0L314.8 34.0L313.5 31.7Z" fill="#c8c8c8"/><path d="M337.3 92.8L339.9 92.8L338.6 90.6Z" fill="#c8c8c8"/><path d="M206.6 109.7L209.2 109.7L207.9 107.4Z" fill="#c8c8c8"/><path d="M281.0 113.3L283.6 113.3L282.3 111.0Z" fill="#c8c8c8"/><path d="M267.5 116.2L270.1 116.2L268.8 113.9Z" fill="#c8c8c8"/><path d="M229.0 124.1L231.6 124.1L230.3 121.9Z" fill="#c8c8c8"/><path d="M297.8 103.7L300.4 103.7L299.1 101.4Z" fill="#c8c8c8"/><path d="M270.6 55.5L273.2 55.5L271.9 53.2Z" fill="#c8c8c8"/><path d="M295.4 106.0L298.0 106.0L296.7 103.7Z" fill="#c8c8c8"/><path d="M322.8 32.0L325.4 32.0L324.1 29.8Z" fill="#c8c8c8"/><path d="M312.4 33.4L315.0 33.4L313.7 31.2Z" fill="#c8c8c8"/><path d="M263.2 117.2L265.8 117.2L264.5 115.0Z" fill="#c8c8c8"/><path d="M237.2 79.4L239.8 79.4L238.5 77.1Z" fill="#c8c8c8"/><path d="M268.4 55.8L271.0 55.8L269.7 53.6Z" fill="#c8c8c8"/><path d="M245.1 123.1L247.7 123.1L246.4 120.9Z" fill="#c8c8c8"/><path d="M334.0 32.0L336.6 32.0L335.3 29.8Z" fill="#c8c8c8"/><path d="M311.4 33.6L314.0 33.6L312.7 31.3Z" fill="#c8c8c8"/><path d="M341.0 86.2L343.6 86.2L342.3 84.0Z" fill="#c8c8c8"/><path d="M261.1 118.0L263.7 118.0L262.4 115.8Z" fill="#c8c8c8"/><path d="M201.5 121.7L204.1 121.7L202.8 119.4Z" fill="#c8c8c8"/><path d="M238.6 123.8L241.2 123.8L239.9 121.6Z" fill="#c8c8c8"/><path d="M274.9 52.9L277.5 52.9L276.2 50.7Z" fill="#c8c8c8"/><path d="M307.1 101.3L309.7 101.3L308.4 99.1Z" fill="#c8c8c8"/><path d="M297.7 105.3L300.3 105.3L299.0 103.1Z" fill="#c8c8c8"/><path d="M355.8 51.5L358.4 51.5L357.1 49.2Z" fill="#c8c8c8"/><path d="M254.6 63.6L257.2 63.6L255.9 61.3Z" fill="#c8c8c8"/><path d="M316.6 99.4L319.2 99.4L317.9 97.1Z" fill="#c8c8c8"/><path d="M360.2 74.6L362.8 74.6L361.5 72.3Z" fill="#c8c8c8"/><path d="M277.4 52.7L280.0 52.7L278.7 50.4Z" fill="#c8c8c8"/><path d="M353.2 80.1L355.8 80.1L354.5 77.8Z" fill="#c8c8c8"/><path d="M276.8 53.9L279.4 53.9L278.1 51.6Z" fill="#c8c8c8"/><path d="M231.2 123.9L233.8 123.9L232.5 121.6Z" fill="#c8c8c8"/><path d="M250.5 67.8L253.1 67.8L251.8 65.5Z" fill="#c8c8c8"/><path d="M339.9 33.4L342.5 33.4L341.2 31.2Z" fill="#c8c8c8"/><path d="M350.7 46.9L353.3 46.9L352.0 44.6Z" fill="#c8c8c8"/><path d="M252.4 67.7L255.0 67.7L253.7 65.4Z" fill="#c8c8c8"/><path d="M309.3 35.3L311.9 35.3L310.6 33.0Z" fill="#c8c8c8"/><path d="M202.9 117.4L205.5 117.4L204.2 115.1Z" fill="#c8c8c8"/><path d="M360.7 73.9L363.3 73.9L362.0 71.6Z" fill="#c8c8c8"/><path d="M260.8 119.1L263.4 119.1L262.1 116.8Z" fill="#c8c8c8"/><path d="M292.2 42.0L294.8 42.0L293.5 39.7Z" fill="#c8c8c8"/><path d="M292.0 41.4L294.6 41.4L293.3 39.1Z" fill="#c8c8c8"/><path d="M244.9 122.5L247.5 122.5L246.2 120.2Z" fill="#c8c8c8"/><path d="M284.2 112.3L286.8 112.3L285.5 110.0Z" fill="#c8c8c8"/><path d="M336.0 94.6L338.6 94.6L337.3 92.3Z" fill="#c8c8c8"/><path d="M353.4 81.8L356.0 81.8L354.7 79.5Z" fill="#c8c8c8"/><path d="M358.6 54.2L361.2 54.2L359.9 52.0Z" fill="#c8c8c8"/><path d="M274.4 115.2L277.0 115.2L275.7 112.9Z" fill="#c8c8c8"/><path d="M332.5 95.6L335.1 95.6L333.8 93.4Z" fill="#c8c8c8"/><path d="M345.6 39.7L348.2 39.7L346.9 37.5Z" fill="#c8c8c8"/><path d="M231.1 124.0L233.7 124.0L232.4 121.7Z" fill="#c8c8c8"/><path d="M306.2 102.2L308.8 102.2L307.5 99.9Z" fill="#c8c8c8"/><path d="M264.7 57.4L267.3 57.4L266.0 55.2Z" fill="#c8c8c8"/><path d="M303.4 103.6L306.0 103.6L304.7 101.3Z" fill="#c8c8c8"/><path d="M355.8 79.4L358.4 79.4L357.1 77.1Z" fill="#c8c8c8"/><path d="M232.6 83.5L235.2 83.5L233.9 81.2Z" fill="#c8c8c8"/><path d="M272.0 54.4L274.6 54.4L273.3 52.1Z" fill="#c8c8c8"/><path d="M361.5 74.3L364.1 74.3L362.8 72.0Z" fill="#c8c8c8"/><path d="M359.7 55.2L362.3 55.2L361.0 52.9Z" fill="#c8c8c8"/><path d="M232.0 123.7L234.6 123.7L233.3 121.5Z" fill="#c8c8c8"/><path d="M270.3 54.6L272.9 54.6L271.6 52.3Z" fill="#c8c8c8"/><path d="M227.1 87.2L229.7 87.2L228.4 84.9Z" fill="#c8c8c8"/><path d="M328.8 30.7L331.4 30.7L330.1 28.4Z" fill="#c8c8c8"/><path d="M303.0 103.0L305.6 103.0L304.3 100.7Z" fill="#c8c8c8"/><path d="M210.2 105.1L212.8 105.1L211.5 102.8Z" fill="#c8c8c8"/><path d="M353.0 49.2L355.6 49.2L354.3 47.0Z" fill="#c8c8c8"/><path d="M317.5 99.1L320.1 99.1L318.8 96.9Z" fill="#c8c8c8"/><path d="M214.5 100.2L217.1 100.2L215.8 97.9Z" fill="#c8c8c8"/><path d="M364.5 66.5L367.1 66.5L365.8 64.3Z" fill="#c8c8c8"/><path d="M256.9 120.6L259.5 120.6L258.2 118.3Z" fill="#c8c8c8"/><path d="M295.6 108.5L298.2 108.5L296.9 106.2Z" fill="#c8c8c8"/><path d="M338.7 90.8L341.3 90.8L340.0 88.5Z" fill="#c8c8c8"/><path d="M297.1 39.3L299.7 39.3L298.4 37.0Z" fill="#c8c8c8"/><path d="M263.6 59.0L266.2 59.0L264.9 56.8Z" fill="#c8c8c8"/><path d="M203.8 117.6L206.4 117.6L205.1 115.3Z" fill="#c8c8c8"/><path d="M297.1 104.2L299.7 104.2L298.4 102.0Z" fill="#c8c8c8"/><path d="M337.4 32.8L340.0 32.8L338.7 30.5Z" fill="#c8c8c8"/><path d="M327.6 31.6L330.2 31.6L328.9 29.4Z" fill="#c8c8c8"/><path d="M364.0 66.4L366.6 66.4L365.3 64.1Z" fill="#c8c8c8"/><path d="M362.7 70.3L365.3 70.3L364.0 68.1Z" fill="#c8c8c8"/><path d="M218.4 96.0L221.0 96.0L219.7 93.7Z" fill="#c8c8c8"/><path d="M353.1 46.7L355.7 46.7L354.4 44.5Z" fill="#c8c8c8"/><path d="M252.7 66.7L255.3 66.7L254.0 64.5Z" fill="#c8c8c8"/><path d="M360.5 57.1L363.1 57.1L361.8 54.9Z" fill="#c8c8c8"/><path d="M365.1 61.4L367.7 61.4L366.4 59.1Z" fill="#c8c8c8"/><path d="M238.9 122.9L241.5 122.9L240.2 120.6Z" fill="#c8c8c8"/><path d="M229.6 86.1L232.2 86.1L230.9 83.8Z" fill="#c8c8c8"/><path d="M234.8 123.5L237.4 123.5L236.1 121.2Z" fill="#c8c8c8"/><path d="M274.9 55.0L277.5 55.0L276.2 52.8Z" fill="#c8c8c8"/><path d="M296.1 107.0L298.7 107.0L297.4 104.7Z" fill="#c8c8c8"/><path d="M265.2 118.7L267.8 118.7L266.5 116.4Z" fill="#c8c8c8"/><path d="M361.9 74.7L364.5 74.7L363.2 72.4Z" fill="#c8c8c8"/><path d="M264.1 58.9L266.7 58.9L265.4 56.7Z" fill="#c8c8c8"/><path d="M320.5 32.9L323.1 32.9L321.8 30.7Z" fill="#c8c8c8"/><path d="M325.9 32.0L328.5 32.0L327.2 29.7Z" fill="#c8c8c8"/><path d="M366.5 62.7L369.1 62.7L367.8 60.5Z" fill="#c8c8c8"/><path d="M318.1 99.9L320.7 99.9L319.4 97.6Z" fill="#c8c8c8"/><path d="M262.7 58.9L265.3 58.9L264.0 56.7Z" fill="#c8c8c8"/><path d="M345.1 37.5L347.7 37.5L346.4 35.2Z" fill="#c8c8c8"/><path d="M244.4 122.7L247.0 122.7L245.7 120.4Z" fill="#c8c8c8"/><path d="M261.1 60.0L263.7 60.0L262.4 57.7Z" fill="#c8c8c8"/><path d="M202.1 118.0L204.7 118.0L203.4 115.7Z" fill="#c8c8c8"/><path d="M298.8 38.9L301.4 38.9L300.1 36.6Z" fill="#c8c8c8"/><path d="M365.3 65.2L367.9 65.2L366.6 63.0Z" fill="#c8c8c8"/><path d="M362.1 59.2L364.7 59.2L363.4 57.0Z" fill="#c8c8c8"/><path d="M305.2 101.9L307.8 101.9L306.5 99.6Z" fill="#c8c8c8"/><path d="M201.0 123.3L203.6 123.3L202.3 121.1Z" fill="#c8c8c8"/><path d="M316.6 31.9L319.2 31.9L317.9 29.7Z" fill="#c8c8c8"/><path d="M340.4 87.6L343.0 87.6L341.7 85.4Z" fill="#c8c8c8"/><path d="M279.1 51.7L281.7 51.7L280.4 49.4Z" fill="#c8c8c8"/><path d="M243.5 76.0L246.1 76.0L244.8 73.8Z" fill="#c8c8c8"/><path d="M296.1 105.8L298.7 105.8L297.4 103.5Z" fill="#c8c8c8"/><path d="M325.4 98.4L328.0 98.4L326.7 96.1Z" fill="#c8c8c8"/><path d="M358.0 78.1L360.6 78.1L359.3 75.8Z" fill="#c8c8c8"/><path d="M296.9 39.1L299.5 39.1L298.2 36.9Z" fill="#c8c8c8"/><path d="M239.9 80.1L242.5 80.1L241.2 77.9Z" fill="#c8c8c8"/><path d="M364.4 65.6L367.0 65.6L365.7 63.3Z" fill="#c8c8c8"/><path d="M348.5 44.2L351.1 44.2L349.8 41.9Z" fill="#c8c8c8"/><path d="M266.5 57.0L269.1 57.0L267.8 54.7Z" fill="#c8c8c8"/><path d="M339.4 87.4L342.0 87.4L340.7 85.1Z" fill="#c8c8c8"/><path d="M335.1 93.9L337.7 93.9L336.4 91.6Z" fill="#c8c8c8"/><path d="M215.6 100.3L218.2 100.3L216.9 98.1Z" fill="#c8c8c8"/><path d="M364.0 60.9L366.6 60.9L365.3 58.6Z" fill="#c8c8c8"/><path d="M267.3 56.6L269.9 56.6L268.6 54.4Z" fill="#c8c8c8"/><path d="M307.8 101.5L310.4 101.5L309.1 99.2Z" fill="#c8c8c8"/><path d="M217.6 98.6L220.2 98.6L218.9 96.3Z" fill="#c8c8c8"/><path d="M353.3 80.1L355.9 80.1L354.6 77.9Z" fill="#c8c8c8"/><path d="M285.0 48.6L287.6 48.6L286.3 46.4Z" fill="#c8c8c8"/><path d="M364.2 65.8L366.8 65.8L365.5 63.5Z" fill="#c8c8c8"/><path d="M247.9 73.6L250.5 73.6L249.2 71.3Z" fill="#c8c8c8"/><path d="M209.1 107.6L211.7 107.6L210.4 105.4Z" fill="#c8c8c8"/><path d="M302.9 37.1L305.5 37.1L304.2 34.8Z" fill="#c8c8c8"/><path d="M262.5 60.3L265.1 60.3L263.8 58.0Z" fill="#c8c8c8"/><path d="M281.8 50.3L284.4 50.3L283.1 48.0Z" fill="#c8c8c8"/><path d="M309.5 102.0L312.1 102.0L310.8 99.8Z" fill="#c8c8c8"/>
<rect x="200.3" y="24.6" width="196.7" height="100.4" fill="none" stroke="#444" stroke-width="1.3"/>
<line x1="298.7" y1="24.6" x2="298.7" y2="26.6" stroke="#333" stroke-width="0.8"/>
<line x1="298.7" y1="125" x2="298.7" y2="123" stroke="#333" stroke-width="0.8"/>
<path d="M236.9 110.5L239.7 110.5L238.3 108.1Z" fill="#7fd34e"/><path d="M235.2 116.2L238.0 116.2L236.6 113.7Z" fill="#27a882"/><path d="M236.3 106.7L239.1 106.7L237.7 104.2Z" fill="#9bd93c"/><path d="M235.3 115.6L238.1 115.6L236.7 113.1Z" fill="#27a882"/><path d="M244.5 107.2L247.3 107.2L245.9 104.7Z" fill="#9bd93c"/><path d="M231.9 105.9L234.7 105.9L233.3 103.5Z" fill="#7fd34e"/><path d="M241.6 110.5L244.4 110.5L243.0 108.1Z" fill="#4ec36b"/><path d="M242.7 119.5L245.5 119.5L244.1 117.1Z" fill="#27a882"/><path d="M233.5 111.1L236.3 111.1L234.9 108.7Z" fill="#7fd34e"/><path d="M242.8 116.0L245.6 116.0L244.2 113.6Z" fill="#27a882"/><path d="M242.4 113.4L245.2 113.4L243.8 110.9Z" fill="#27a882"/><path d="M243.7 110.4L246.5 110.4L245.1 108.0Z" fill="#7fd34e"/><path d="M238.8 109.1L241.6 109.1L240.2 106.6Z" fill="#7fd34e"/><path d="M235.1 102.5L237.9 102.5L236.5 100.1Z" fill="#9bd93c"/><path d="M238.3 112.1L241.1 112.1L239.7 109.7Z" fill="#7fd34e"/><path d="M245.3 118.9L248.1 118.9L246.7 116.5Z" fill="#4ec36b"/><path d="M235.3 102.9L238.1 102.9L236.7 100.5Z" fill="#9bd93c"/><path d="M237.5 121.0L240.3 121.0L238.9 118.6Z" fill="#27a882"/><path d="M234.0 103.9L236.8 103.9L235.4 101.4Z" fill="#7fd34e"/><path d="M240.3 114.7L243.1 114.7L241.7 112.3Z" fill="#27a882"/><path d="M239.1 116.7L241.9 116.7L240.5 114.3Z" fill="#4ec36b"/><path d="M242.5 107.1L245.3 107.1L243.9 104.7Z" fill="#7fd34e"/><path d="M239.5 108.7L242.3 108.7L240.9 106.2Z" fill="#4ec36b"/><path d="M234.4 106.2L237.2 106.2L235.8 103.7Z" fill="#9bd93c"/><path d="M234.9 106.8L237.7 106.8L236.3 104.4Z" fill="#9bd93c"/><path d="M236.2 109.1L239.0 109.1L237.6 106.7Z" fill="#7fd34e"/><path d="M238.7 105.8L241.5 105.8L240.1 103.4Z" fill="#9bd93c"/><path d="M240.7 121.0L243.5 121.0L242.1 118.6Z" fill="#4ec36b"/><path d="M231.7 118.9L234.5 118.9L233.1 116.4Z" fill="#4ec36b"/><path d="M243.4 119.5L246.2 119.5L244.8 117.1Z" fill="#4ec36b"/><path d="M243.9 105.9L246.7 105.9L245.3 103.4Z" fill="#9bd93c"/><path d="M234.3 120.7L237.1 120.7L235.7 118.2Z" fill="#27a882"/><path d="M234.3 102.7L237.1 102.7L235.7 100.3Z" fill="#9bd93c"/><path d="M237.9 106.4L240.7 106.4L239.3 104.0Z" fill="#9bd93c"/><path d="M233.1 113.1L235.9 113.1L234.5 110.7Z" fill="#4ec36b"/><path d="M234.6 108.6L237.4 108.6L236.0 106.2Z" fill="#7fd34e"/><path d="M232.2 121.2L235.0 121.2L233.6 118.8Z" fill="#4ec36b"/><path d="M240.0 114.3L242.8 114.3L241.4 111.8Z" fill="#4ec36b"/><path d="M243.0 117.6L245.8 117.6L244.4 115.2Z" fill="#27a882"/><path d="M241.1 104.9L243.9 104.9L242.5 102.5Z" fill="#7fd34e"/><path d="M232.7 101.8L235.5 101.8L234.1 99.4Z" fill="#7fd34e"/><path d="M239.3 102.5L242.1 102.5L240.7 100.0Z" fill="#9bd93c"/><path d="M242.7 114.5L245.5 114.5L244.1 112.1Z" fill="#4ec36b"/><path d="M240.5 103.0L243.3 103.0L241.9 100.6Z" fill="#9bd93c"/><path d="M237.2 106.6L240.0 106.6L238.6 104.2Z" fill="#7fd34e"/><path d="M240.9 109.6L243.7 109.6L242.3 107.1Z" fill="#7fd34e"/><path d="M236.0 112.5L238.8 112.5L237.4 110.1Z" fill="#4ec36b"/><path d="M237.4 101.6L240.2 101.6L238.8 99.1Z" fill="#7fd34e"/><path d="M240.6 109.0L243.4 109.0L242.0 106.6Z" fill="#4ec36b"/><path d="M234.5 101.3L237.3 101.3L235.9 98.9Z" fill="#9bd93c"/><path d="M237.5 117.6L240.3 117.6L238.9 115.2Z" fill="#27a882"/><path d="M239.7 108.5L242.5 108.5L241.1 106.1Z" fill="#7fd34e"/><path d="M233.4 102.3L236.2 102.3L234.8 99.8Z" fill="#9bd93c"/><path d="M240.6 119.4L243.4 119.4L242.0 117.0Z" fill="#4ec36b"/><path d="M239.6 119.8L242.4 119.8L241.0 117.3Z" fill="#27a882"/><path d="M238.7 104.1L241.5 104.1L240.1 101.7Z" fill="#7fd34e"/><path d="M233.9 104.7L236.7 104.7L235.3 102.2Z" fill="#9bd93c"/><path d="M233.1 111.0L235.9 111.0L234.5 108.6Z" fill="#7fd34e"/><path d="M235.8 118.0L238.6 118.0L237.2 115.5Z" fill="#4ec36b"/><path d="M245.3 110.9L248.1 110.9L246.7 108.4Z" fill="#7fd34e"/><path d="M240.1 113.9L242.9 113.9L241.5 111.5Z" fill="#4ec36b"/><path d="M244.3 113.6L247.1 113.6L245.7 111.2Z" fill="#4ec36b"/><path d="M240.6 118.3L243.4 118.3L242.0 115.9Z" fill="#27a882"/><path d="M237.3 118.1L240.1 118.1L238.7 115.7Z" fill="#27a882"/><path d="M234.2 105.6L237.0 105.6L235.6 103.1Z" fill="#7fd34e"/><path d="M244.7 104.3L247.5 104.3L246.1 101.9Z" fill="#7fd34e"/><path d="M233.3 106.2L236.1 106.2L234.7 103.7Z" fill="#9bd93c"/><path d="M232.2 112.5L235.0 112.5L233.6 110.0Z" fill="#7fd34e"/><path d="M241.0 107.7L243.8 107.7L242.4 105.3Z" fill="#7fd34e"/><path d="M240.0 112.2L242.8 112.2L241.4 109.8Z" fill="#4ec36b"/><path d="M240.7 107.4L243.5 107.4L242.1 104.9Z" fill="#9bd93c"/><path d="M237.6 114.4L240.4 114.4L239.0 112.0Z" fill="#27a882"/><path d="M238.7 104.8L241.5 104.8L240.1 102.4Z" fill="#9bd93c"/><path d="M240.3 111.0L243.1 111.0L241.7 108.6Z" fill="#7fd34e"/><path d="M237.9 113.6L240.7 113.6L239.3 111.2Z" fill="#27a882"/><path d="M243.3 117.4L246.1 117.4L244.7 115.0Z" fill="#27a882"/><path d="M233.1 103.8L235.9 103.8L234.5 101.4Z" fill="#7fd34e"/><path d="M236.7 117.3L239.5 117.3L238.1 114.8Z" fill="#27a882"/><path d="M238.7 102.0L241.5 102.0L240.1 99.6Z" fill="#9bd93c"/><path d="M232.8 115.9L235.6 115.9L234.2 113.5Z" fill="#27a882"/><path d="M238.8 102.3L241.6 102.3L240.2 99.9Z" fill="#7fd34e"/><path d="M240.7 116.9L243.5 116.9L242.1 114.5Z" fill="#4ec36b"/><path d="M243.6 121.1L246.4 121.1L245.0 118.7Z" fill="#27a882"/><path d="M241.3 103.4L244.1 103.4L242.7 101.0Z" fill="#9bd93c"/><path d="M245.3 111.1L248.1 111.1L246.7 108.6Z" fill="#7fd34e"/><path d="M241.2 115.6L244.0 115.6L242.6 113.2Z" fill="#4ec36b"/><path d="M232.5 108.2L235.3 108.2L233.9 105.8Z" fill="#4ec36b"/><path d="M233.8 119.1L236.6 119.1L235.2 116.7Z" fill="#27a882"/><path d="M244.3 110.3L247.1 110.3L245.7 107.9Z" fill="#4ec36b"/><path d="M238.6 119.6L241.4 119.6L240.0 117.2Z" fill="#4ec36b"/><path d="M239.9 113.5L242.7 113.5L241.3 111.1Z" fill="#4ec36b"/><path d="M236.1 102.0L238.9 102.0L237.5 99.5Z" fill="#9bd93c"/><path d="M237.2 113.9L240.0 113.9L238.6 111.5Z" fill="#27a882"/><path d="M241.1 119.1L243.9 119.1L242.5 116.7Z" fill="#4ec36b"/><path d="M242.7 106.5L245.5 106.5L244.1 104.1Z" fill="#9bd93c"/><path d="M240.5 108.4L243.3 108.4L241.9 106.0Z" fill="#4ec36b"/><path d="M239.4 112.8L242.2 112.8L240.8 110.4Z" fill="#7fd34e"/><path d="M235.1 111.9L237.9 111.9L236.5 109.5Z" fill="#4ec36b"/><path d="M241.9 108.6L244.7 108.6L243.3 106.2Z" fill="#4ec36b"/><path d="M245.5 112.8L248.3 112.8L246.9 110.3Z" fill="#4ec36b"/><path d="M236.2 102.8L239.0 102.8L237.6 100.4Z" fill="#9bd93c"/><path d="M234.1 116.1L236.9 116.1L235.5 113.7Z" fill="#4ec36b"/><path d="M235.7 111.5L238.5 111.5L237.1 109.1Z" fill="#4ec36b"/><path d="M240.5 120.9L243.3 120.9L241.9 118.5Z" fill="#27a882"/><path d="M244.6 119.1L247.4 119.1L246.0 116.7Z" fill="#27a882"/><path d="M231.6 101.9L234.4 101.9L233.0 99.5Z" fill="#9bd93c"/><path d="M235.7 113.7L238.5 113.7L237.1 111.3Z" fill="#27a882"/><path d="M238.8 119.1L241.6 119.1L240.2 116.7Z" fill="#4ec36b"/><path d="M238.4 113.5L241.2 113.5L239.8 111.0Z" fill="#4ec36b"/><path d="M231.9 101.3L234.7 101.3L233.3 98.8Z" fill="#7fd34e"/>
<rect x="231.5" y="98.2" width="16.1" height="22" fill="none" stroke="#f02020" stroke-width="2"/>
<text x="197.8" y="30.3" font-size="12.2" text-anchor="end" fill="#262626" >0.3</text>
<text x="197.8" y="129.8" font-size="12.2" text-anchor="end" fill="#262626" >0</text>
<text x="200.3" y="140.0" font-size="12.2" text-anchor="middle" fill="#262626" >0</text>
<text x="298.7" y="140.0" font-size="12.2" text-anchor="middle" fill="#262626" >0.6</text>
<text x="397.0" y="140.0" font-size="12.2" text-anchor="middle" fill="#262626" >1.2</text>
<text x="294" y="157" font-size="14.5" text-anchor="middle" fill="#262626"><tspan font-style="italic">E</tspan><tspan font-size="10.5" dy="3" font-style="italic">11</tspan><tspan dy="-3"> [MPa]</tspan></text>
<text transform="translate(182.2,74.3) rotate(-90)" font-size="14.5" text-anchor="middle" fill="#262626"><tspan font-style="italic">E</tspan><tspan font-size="10.5" dy="3" font-style="italic">22</tspan><tspan dy="-3"> [MPa]</tspan></text>
<line x1="133" y1="23.5" x2="231" y2="97.8" stroke="#f02020" stroke-width="1.3" stroke-dasharray="7,5"/>
<line x1="133" y1="123.5" x2="231" y2="120.8" stroke="#f02020" stroke-width="1.3" stroke-dasharray="7,5"/>
<rect x="52.3" y="176.9" width="83.50000000000001" height="99.1" fill="#c8c8c8"/>
<g clip-path="url(#ci2)"><path d="M124.6 247.4L130.1 247.4L127.3 242.6Z" fill="#7fd34e"/><path d="M129.1 250.5L134.6 250.5L131.9 245.7Z" fill="#9bd93c"/><path d="M119.0 238.6L124.5 238.6L121.7 233.8Z" fill="#4ec36b"/><path d="M132.1 227.2L137.6 227.2L134.8 222.4Z" fill="#4ec36b"/><path d="M127.3 203.3L132.8 203.3L130.1 198.5Z" fill="#27a882"/><path d="M102.9 193.5L108.4 193.5L105.6 188.7Z" fill="#4ec36b"/><path d="M118.9 233.4L124.4 233.4L121.7 228.7Z" fill="#1f968b"/><path d="M92.5 237.2L98.0 237.2L95.2 232.4Z" fill="#4ec36b"/><path d="M108.1 209.7L113.6 209.7L110.9 204.9Z" fill="#9bd93c"/><path d="M98.2 211.9L103.7 211.9L101.0 207.1Z" fill="#4ec36b"/><path d="M133.9 224.9L139.4 224.9L136.7 220.1Z" fill="#1f968b"/><path d="M110.2 220.4L115.7 220.4L113.0 215.6Z" fill="#4ec36b"/><path d="M105.7 261.5L111.2 261.5L108.4 256.7Z" fill="#27a882"/><path d="M104.0 226.4L109.5 226.4L106.7 221.6Z" fill="#4ec36b"/><path d="M124.2 234.8L129.7 234.8L127.0 230.0Z" fill="#9bd93c"/><path d="M112.6 201.8L118.1 201.8L115.4 197.0Z" fill="#4ec36b"/><path d="M128.5 213.0L134.0 213.0L131.2 208.2Z" fill="#4ec36b"/><path d="M103.3 235.3L108.8 235.3L106.0 230.5Z" fill="#4ec36b"/><path d="M133.7 222.2L139.2 222.2L136.4 217.4Z" fill="#4ec36b"/><path d="M133.4 202.0L138.9 202.0L136.2 197.2Z" fill="#4ec36b"/><path d="M97.7 276.4L103.2 276.4L100.4 271.6Z" fill="#4ec36b"/><path d="M133.5 230.0L139.0 230.0L136.3 225.2Z" fill="#4ec36b"/><path d="M91.9 195.6L97.4 195.6L94.6 190.9Z" fill="#4ec36b"/><path d="M129.7 209.1L135.2 209.1L132.5 204.3Z" fill="#7fd34e"/><path d="M118.5 196.9L124.0 196.9L121.3 192.1Z" fill="#7fd34e"/><path d="M114.5 221.5L120.0 221.5L117.2 216.7Z" fill="#4ec36b"/><path d="M109.7 236.6L115.2 236.6L112.5 231.8Z" fill="#27a882"/><path d="M133.1 239.0L138.6 239.0L135.9 234.3Z" fill="#4ec36b"/><path d="M96.9 213.1L102.4 213.1L99.6 208.3Z" fill="#4ec36b"/><path d="M125.8 242.9L131.3 242.9L128.5 238.1Z" fill="#9bd93c"/><path d="M130.7 267.9L136.2 267.9L133.4 263.2Z" fill="#7fd34e"/><path d="M89.2 231.7L94.7 231.7L91.9 226.9Z" fill="#1f968b"/><path d="M118.2 207.7L123.7 207.7L120.9 202.9Z" fill="#4ec36b"/><path d="M115.6 217.1L121.1 217.1L118.4 212.3Z" fill="#4ec36b"/><path d="M109.5 241.1L115.0 241.1L112.3 236.3Z" fill="#9bd93c"/><path d="M122.9 218.5L128.4 218.5L125.6 213.7Z" fill="#1f968b"/><path d="M108.7 242.4L114.2 242.4L111.5 237.6Z" fill="#27a882"/><path d="M126.8 233.5L132.3 233.5L129.5 228.8Z" fill="#1f968b"/><path d="M121.4 226.5L126.9 226.5L124.1 221.7Z" fill="#1f968b"/><path d="M121.4 193.5L126.9 193.5L124.2 188.7Z" fill="#27a882"/><path d="M109.0 197.8L114.5 197.8L111.8 193.0Z" fill="#4ec36b"/><path d="M116.0 190.7L121.5 190.7L118.7 185.9Z" fill="#27a882"/><path d="M104.9 201.4L110.4 201.4L107.7 196.6Z" fill="#4ec36b"/><path d="M121.5 232.9L127.0 232.9L124.3 228.1Z" fill="#27a882"/><path d="M77.0 234.7L82.5 234.7L79.7 229.9Z" fill="#27a882"/><path d="M118.8 199.2L124.3 199.2L121.6 194.4Z" fill="#4ec36b"/><path d="M121.6 225.9L127.1 225.9L124.3 221.1Z" fill="#4ec36b"/><path d="M128.3 241.8L133.8 241.8L131.0 237.0Z" fill="#4ec36b"/><path d="M115.9 226.4L121.4 226.4L118.7 221.6Z" fill="#4ec36b"/><path d="M95.6 234.5L101.1 234.5L98.3 229.7Z" fill="#4ec36b"/><path d="M130.3 197.4L135.8 197.4L133.1 192.7Z" fill="#4ec36b"/><path d="M114.4 202.1L119.9 202.1L117.2 197.3Z" fill="#1f968b"/><path d="M132.8 219.5L138.3 219.5L135.5 214.7Z" fill="#7fd34e"/><path d="M131.1 206.1L136.6 206.1L133.8 201.3Z" fill="#1f968b"/><path d="M118.0 221.1L123.5 221.1L120.7 216.3Z" fill="#27a882"/><path d="M116.6 217.0L122.1 217.0L119.4 212.2Z" fill="#4ec36b"/><path d="M118.1 224.5L123.6 224.5L120.9 219.7Z" fill="#1f968b"/><path d="M106.4 225.0L111.9 225.0L109.1 220.2Z" fill="#4ec36b"/><path d="M119.1 189.2L124.6 189.2L121.9 184.4Z" fill="#4ec36b"/><path d="M83.9 196.8L89.4 196.8L86.7 192.0Z" fill="#7fd34e"/><path d="M130.4 272.3L135.9 272.3L133.2 267.5Z" fill="#4ec36b"/><path d="M111.7 181.1L117.2 181.1L114.4 176.3Z" fill="#4ec36b"/><path d="M122.7 224.5L128.2 224.5L125.4 219.7Z" fill="#27a882"/><path d="M60.6 228.1L66.1 228.1L63.4 223.4Z" fill="#7fd34e"/><path d="M126.5 197.0L132.0 197.0L129.2 192.2Z" fill="#4ec36b"/><path d="M88.7 250.3L94.2 250.3L91.4 245.5Z" fill="#27a882"/><path d="M103.7 237.9L109.2 237.9L106.5 233.2Z" fill="#4ec36b"/><path d="M129.1 239.4L134.6 239.4L131.9 234.6Z" fill="#7fd34e"/><path d="M110.8 224.2L116.3 224.2L113.6 219.5Z" fill="#4ec36b"/><path d="M122.5 220.8L128.0 220.8L125.3 216.0Z" fill="#9bd93c"/><path d="M133.1 191.0L138.6 191.0L135.9 186.2Z" fill="#1f968b"/><path d="M121.9 238.9L127.4 238.9L124.6 234.1Z" fill="#27a882"/><path d="M116.5 208.3L122.0 208.3L119.3 203.5Z" fill="#7fd34e"/><path d="M133.5 212.2L139.0 212.2L136.3 207.4Z" fill="#4ec36b"/><path d="M127.3 210.1L132.8 210.1L130.1 205.3Z" fill="#4ec36b"/><path d="M115.5 240.2L121.0 240.2L118.2 235.5Z" fill="#4ec36b"/><path d="M115.3 223.6L120.8 223.6L118.1 218.8Z" fill="#9bd93c"/><path d="M126.4 234.0L131.9 234.0L129.1 229.2Z" fill="#4ec36b"/><path d="M128.8 197.6L134.3 197.6L131.5 192.8Z" fill="#4ec36b"/><path d="M122.9 239.5L128.4 239.5L125.6 234.7Z" fill="#4ec36b"/><path d="M131.0 274.1L136.5 274.1L133.7 269.3Z" fill="#27a882"/><path d="M116.3 249.6L121.8 249.6L119.0 244.8Z" fill="#4ec36b"/><path d="M82.8 262.6L88.3 262.6L85.5 257.8Z" fill="#4ec36b"/><path d="M131.6 203.1L137.1 203.1L134.3 198.4Z" fill="#4ec36b"/><path d="M93.4 252.3L98.9 252.3L96.1 247.5Z" fill="#4ec36b"/><path d="M127.8 243.5L133.3 243.5L130.6 238.7Z" fill="#1f968b"/><path d="M87.3 227.5L92.8 227.5L90.0 222.7Z" fill="#4ec36b"/><path d="M124.4 202.3L129.9 202.3L127.2 197.5Z" fill="#4ec36b"/><path d="M121.3 226.9L126.8 226.9L124.1 222.1Z" fill="#9bd93c"/><path d="M134.1 222.3L139.6 222.3L136.8 217.5Z" fill="#4ec36b"/><path d="M112.9 212.8L118.4 212.8L115.7 208.0Z" fill="#9bd93c"/><path d="M104.7 209.3L110.2 209.3L107.5 204.5Z" fill="#4ec36b"/><path d="M117.0 199.1L122.5 199.1L119.8 194.3Z" fill="#9bd93c"/><path d="M112.5 200.3L118.0 200.3L115.3 195.5Z" fill="#27a882"/><path d="M114.3 229.3L119.8 229.3L117.1 224.6Z" fill="#27a882"/><path d="M120.1 215.2L125.6 215.2L122.9 210.5Z" fill="#4ec36b"/><path d="M126.5 197.0L132.0 197.0L129.2 192.2Z" fill="#4ec36b"/><path d="M118.1 205.8L123.6 205.8L120.9 201.0Z" fill="#1f968b"/><path d="M116.5 210.2L122.0 210.2L119.2 205.4Z" fill="#27a882"/><path d="M117.4 213.4L122.9 213.4L120.1 208.6Z" fill="#1f968b"/><path d="M112.9 239.3L118.4 239.3L115.7 234.5Z" fill="#27a882"/><path d="M105.1 230.3L110.6 230.3L107.8 225.6Z" fill="#27a882"/><path d="M121.8 180.4L127.3 180.4L124.6 175.6Z" fill="#4ec36b"/><path d="M123.3 223.3L128.8 223.3L126.0 218.5Z" fill="#9bd93c"/><path d="M118.6 228.0L124.1 228.0L121.3 223.2Z" fill="#4ec36b"/><path d="M100.1 222.2L105.6 222.2L102.8 217.4Z" fill="#4ec36b"/><path d="M109.8 221.6L115.3 221.6L112.6 216.8Z" fill="#4ec36b"/><path d="M125.2 253.8L130.7 253.8L128.0 249.0Z" fill="#4ec36b"/><path d="M78.7 220.4L84.2 220.4L81.5 215.6Z" fill="#9bd93c"/><path d="M129.2 229.8L134.7 229.8L132.0 225.0Z" fill="#4ec36b"/><path d="M127.9 229.2L133.4 229.2L130.7 224.4Z" fill="#27a882"/><path d="M112.4 234.6L117.9 234.6L115.1 229.8Z" fill="#4ec36b"/><path d="M124.1 219.7L129.6 219.7L126.9 215.0Z" fill="#4ec36b"/><path d="M131.2 180.4L136.7 180.4L134.0 175.6Z" fill="#7fd34e"/><path d="M58.4 213.0L63.9 213.0L61.2 208.2Z" fill="#4ec36b"/><path d="M120.3 227.2L125.8 227.2L123.0 222.4Z" fill="#27a882"/><path d="M121.8 198.0L127.3 198.0L124.6 193.2Z" fill="#4ec36b"/><path d="M110.2 199.5L115.7 199.5L113.0 194.7Z" fill="#27a882"/><path d="M113.6 247.1L119.1 247.1L116.3 242.4Z" fill="#4ec36b"/><path d="M114.6 227.7L120.1 227.7L117.4 222.9Z" fill="#7fd34e"/><path d="M109.6 196.3L115.1 196.3L112.4 191.5Z" fill="#4ec36b"/><path d="M105.6 255.2L111.1 255.2L108.4 250.5Z" fill="#4ec36b"/><path d="M123.9 195.1L129.4 195.1L126.6 190.4Z" fill="#4ec36b"/><path d="M122.4 203.7L127.9 203.7L125.1 198.9Z" fill="#4ec36b"/><path d="M112.3 247.1L117.8 247.1L115.0 242.3Z" fill="#4ec36b"/><path d="M109.1 227.1L114.6 227.1L111.8 222.3Z" fill="#27a882"/><path d="M122.0 208.4L127.5 208.4L124.7 203.6Z" fill="#4ec36b"/><path d="M129.2 219.0L134.7 219.0L132.0 214.2Z" fill="#9bd93c"/><path d="M99.4 204.9L104.9 204.9L102.1 200.1Z" fill="#27a882"/><path d="M112.6 220.9L118.1 220.9L115.3 216.1Z" fill="#9bd93c"/><path d="M130.6 224.7L136.1 224.7L133.4 219.9Z" fill="#27a882"/><path d="M124.1 211.8L129.6 211.8L126.9 207.0Z" fill="#27a882"/><path d="M92.8 205.8L98.3 205.8L95.5 201.0Z" fill="#27a882"/><path d="M130.6 206.2L136.1 206.2L133.4 201.4Z" fill="#27a882"/><path d="M128.0 244.0L133.5 244.0L130.7 239.2Z" fill="#7fd34e"/><path d="M109.3 261.0L114.8 261.0L112.1 256.2Z" fill="#9bd93c"/><path d="M123.9 223.1L129.4 223.1L126.7 218.4Z" fill="#7fd34e"/><path d="M123.4 187.3L128.9 187.3L126.1 182.5Z" fill="#4ec36b"/><path d="M117.6 224.9L123.1 224.9L120.4 220.1Z" fill="#27a882"/><path d="M132.9 202.9L138.4 202.9L135.7 198.1Z" fill="#27a882"/><path d="M116.6 219.1L122.1 219.1L119.3 214.3Z" fill="#4ec36b"/><path d="M121.6 204.3L127.1 204.3L124.4 199.6Z" fill="#7fd34e"/><path d="M109.1 232.5L114.6 232.5L111.9 227.7Z" fill="#27a882"/><path d="M128.7 210.1L134.2 210.1L131.5 205.3Z" fill="#27a882"/><path d="M87.9 214.6L93.4 214.6L90.6 209.8Z" fill="#1f968b"/><path d="M123.0 239.3L128.5 239.3L125.7 234.5Z" fill="#9bd93c"/><path d="M114.1 224.6L119.6 224.6L116.9 219.9Z" fill="#4ec36b"/><path d="M116.6 239.1L122.1 239.1L119.3 234.3Z" fill="#27a882"/><path d="M124.7 241.5L130.2 241.5L127.4 236.7Z" fill="#1f968b"/><path d="M127.0 225.2L132.5 225.2L129.7 220.4Z" fill="#4ec36b"/><path d="M130.4 216.1L135.9 216.1L133.2 211.3Z" fill="#4ec36b"/><path d="M83.3 228.5L88.8 228.5L86.0 223.7Z" fill="#1f968b"/><path d="M128.6 244.6L134.1 244.6L131.3 239.8Z" fill="#27a882"/><path d="M109.0 258.2L114.5 258.2L111.8 253.4Z" fill="#4ec36b"/><path d="M111.6 253.6L117.1 253.6L114.4 248.8Z" fill="#7fd34e"/><path d="M132.1 210.7L137.6 210.7L134.9 206.0Z" fill="#4ec36b"/><path d="M124.3 237.1L129.8 237.1L127.0 232.4Z" fill="#1f968b"/><path d="M125.0 209.6L130.5 209.6L127.7 204.9Z" fill="#4ec36b"/><path d="M110.9 237.9L116.4 237.9L113.6 233.1Z" fill="#4ec36b"/><path d="M118.8 211.2L124.3 211.2L121.6 206.4Z" fill="#4ec36b"/><path d="M110.2 195.1L115.7 195.1L113.0 190.4Z" fill="#4ec36b"/><path d="M120.8 253.9L126.3 253.9L123.5 249.2Z" fill="#27a882"/><path d="M105.1 209.7L110.6 209.7L107.8 204.9Z" fill="#1f968b"/><path d="M109.7 239.5L115.2 239.5L112.4 234.7Z" fill="#4ec36b"/><path d="M126.9 222.6L132.4 222.6L129.6 217.8Z" fill="#4ec36b"/><path d="M128.5 228.3L134.0 228.3L131.3 223.5Z" fill="#4ec36b"/><path d="M107.0 205.9L112.5 205.9L109.7 201.1Z" fill="#7fd34e"/><path d="M106.4 209.6L111.9 209.6L109.1 204.8Z" fill="#9bd93c"/><path d="M112.6 248.3L118.1 248.3L115.4 243.5Z" fill="#9bd93c"/><path d="M127.1 218.6L132.6 218.6L129.9 213.8Z" fill="#1f968b"/><path d="M121.0 205.2L126.5 205.2L123.8 200.4Z" fill="#27a882"/><path d="M122.0 231.9L127.5 231.9L124.8 227.1Z" fill="#1f968b"/><path d="M124.5 228.7L130.0 228.7L127.3 224.0Z" fill="#1f968b"/><path d="M103.9 251.7L109.4 251.7L106.7 246.9Z" fill="#4ec36b"/><path d="M117.1 218.5L122.6 218.5L119.9 213.7Z" fill="#4ec36b"/><path d="M131.7 229.2L137.2 229.2L134.5 224.4Z" fill="#1f968b"/><path d="M103.1 236.5L108.6 236.5L105.8 231.7Z" fill="#1f968b"/><path d="M105.1 224.7L110.6 224.7L107.8 219.9Z" fill="#27a882"/><path d="M130.5 203.7L136.0 203.7L133.3 198.9Z" fill="#4ec36b"/><path d="M130.4 225.5L135.9 225.5L133.2 220.7Z" fill="#4ec36b"/><path d="M71.3 189.3L76.8 189.3L74.1 184.5Z" fill="#27a882"/><path d="M109.8 227.6L115.3 227.6L112.5 222.8Z" fill="#27a882"/><path d="M110.7 235.6L116.2 235.6L113.5 230.9Z" fill="#27a882"/><path d="M116.6 209.3L122.1 209.3L119.3 204.5Z" fill="#1f968b"/><path d="M129.3 215.1L134.8 215.1L132.1 210.3Z" fill="#27a882"/><path d="M131.8 234.4L137.3 234.4L134.6 229.6Z" fill="#4ec36b"/><path d="M96.2 227.9L101.7 227.9L99.0 223.2Z" fill="#4ec36b"/><path d="M96.5 234.4L102.0 234.4L99.2 229.7Z" fill="#1f968b"/><path d="M107.8 249.2L113.3 249.2L110.5 244.4Z" fill="#27a882"/><path d="M133.0 216.1L138.5 216.1L135.7 211.3Z" fill="#7fd34e"/><path d="M127.5 202.9L133.0 202.9L130.2 198.1Z" fill="#4ec36b"/><path d="M127.5 221.0L133.0 221.0L130.2 216.2Z" fill="#1f968b"/><path d="M130.1 224.6L135.6 224.6L132.9 219.9Z" fill="#9bd93c"/><path d="M116.1 232.7L121.6 232.7L118.8 227.9Z" fill="#9bd93c"/><path d="M110.2 258.7L115.7 258.7L113.0 253.9Z" fill="#4ec36b"/><path d="M118.0 213.4L123.5 213.4L120.8 208.6Z" fill="#9bd93c"/><path d="M130.5 202.1L136.0 202.1L133.2 197.3Z" fill="#27a882"/><path d="M107.9 252.6L113.4 252.6L110.7 247.8Z" fill="#4ec36b"/><path d="M120.5 221.0L126.0 221.0L123.2 216.2Z" fill="#4ec36b"/><path d="M93.0 229.4L98.5 229.4L95.8 224.6Z" fill="#4ec36b"/><path d="M94.7 212.5L100.2 212.5L97.4 207.7Z" fill="#9bd93c"/><path d="M124.5 238.4L130.0 238.4L127.2 233.6Z" fill="#9bd93c"/><path d="M97.3 219.3L102.8 219.3L100.1 214.5Z" fill="#9bd93c"/><path d="M118.1 248.1L123.6 248.1L120.9 243.4Z" fill="#1f968b"/><path d="M118.3 200.7L123.8 200.7L121.1 196.0Z" fill="#4ec36b"/><path d="M77.6 196.6L83.1 196.6L80.4 191.8Z" fill="#4ec36b"/><path d="M108.2 245.7L113.7 245.7L110.9 240.9Z" fill="#9bd93c"/><path d="M131.9 209.9L137.4 209.9L134.6 205.1Z" fill="#4ec36b"/><path d="M134.0 225.5L139.5 225.5L136.7 220.7Z" fill="#4ec36b"/><path d="M132.7 236.0L138.2 236.0L135.4 231.2Z" fill="#1f968b"/><path d="M131.1 235.1L136.6 235.1L133.8 230.3Z" fill="#9bd93c"/><path d="M94.9 267.8L100.4 267.8L97.6 263.0Z" fill="#7fd34e"/><path d="M113.0 183.8L118.5 183.8L115.8 179.0Z" fill="#4ec36b"/><path d="M105.0 219.0L110.5 219.0L107.8 214.2Z" fill="#4ec36b"/><path d="M129.5 211.6L135.0 211.6L132.3 206.8Z" fill="#4ec36b"/><path d="M131.2 230.8L136.7 230.8L134.0 226.0Z" fill="#4ec36b"/><path d="M118.3 227.3L123.8 227.3L121.1 222.5Z" fill="#4ec36b"/><path d="M131.4 223.0L136.9 223.0L134.2 218.2Z" fill="#4ec36b"/><path d="M124.3 226.5L129.8 226.5L127.0 221.8Z" fill="#4ec36b"/><path d="M131.8 210.0L137.3 210.0L134.6 205.2Z" fill="#9bd93c"/><path d="M115.8 222.3L121.3 222.3L118.6 217.6Z" fill="#7fd34e"/><path d="M122.0 245.8L127.5 245.8L124.7 241.0Z" fill="#4ec36b"/><path d="M128.4 236.5L133.9 236.5L131.1 231.7Z" fill="#27a882"/><path d="M127.4 208.9L132.9 208.9L130.2 204.1Z" fill="#9bd93c"/><path d="M111.9 216.4L117.4 216.4L114.6 211.6Z" fill="#7fd34e"/><path d="M123.0 212.6L128.5 212.6L125.8 207.8Z" fill="#4ec36b"/><path d="M126.3 231.1L131.8 231.1L129.0 226.3Z" fill="#4ec36b"/><path d="M131.0 213.1L136.5 213.1L133.7 208.3Z" fill="#9bd93c"/><path d="M115.1 227.5L120.6 227.5L117.9 222.7Z" fill="#9bd93c"/><path d="M128.0 225.1L133.5 225.1L130.8 220.3Z" fill="#9bd93c"/><path d="M103.3 226.6L108.8 226.6L106.1 221.8Z" fill="#4ec36b"/><path d="M116.9 217.1L122.4 217.1L119.6 212.3Z" fill="#27a882"/><path d="M95.6 213.1L101.1 213.1L98.3 208.3Z" fill="#9bd93c"/><path d="M116.4 220.9L121.9 220.9L119.1 216.1Z" fill="#1f968b"/><path d="M93.2 276.4L98.7 276.4L95.9 271.6Z" fill="#4ec36b"/><path d="M127.5 227.6L133.0 227.6L130.3 222.9Z" fill="#7fd34e"/><path d="M108.6 247.2L114.1 247.2L111.4 242.5Z" fill="#4ec36b"/><path d="M84.5 210.1L90.0 210.1L87.2 205.3Z" fill="#27a882"/><path d="M111.9 202.7L117.4 202.7L114.6 197.9Z" fill="#27a882"/><path d="M131.4 216.0L136.9 216.0L134.2 211.2Z" fill="#4ec36b"/></g>
<rect x="52.3" y="176.9" width="83.50000000000001" height="99.1" fill="none" stroke="#f03a32" stroke-width="2"/>
<text x="49.2" y="182.5" font-size="12.2" text-anchor="end" fill="#262626" >-0.3</text>
<text x="49.2" y="281.8" font-size="12.2" text-anchor="end" fill="#262626" >-0.45</text>
<text x="51.5" y="292.3" font-size="12.2" text-anchor="middle" fill="#262626" >-1.1</text>
<text x="136.3" y="292.3" font-size="12.2" text-anchor="middle" fill="#262626" >-1</text>
<line x1="298.7" y1="177.8" x2="298.7" y2="277.4" stroke="#dcdcdc" stroke-width="0.7"/>
<path d="M216.5 262.8 L215.6 257.0 L216.0 245.0 L217.0 235.0 L219.0 226.6 L225.0 220.0 L236.9 214.1 L246.6 207.2 L257.7 203.0 L266.0 197.5 L277.1 196.8 L288.2 195.4 L295.0 196.2 L310.3 196.3 L325.7 196.5 L341.0 198.8 L356.3 201.9 L367.0 204.9 L374.7 209.5 L380.8 215.7 L383.9 223.3 L385.4 231.0 L383.1 237.1 L377.8 241.7 L371.6 246.3 L364.0 250.9 L353.2 254.0 L341.0 256.3 L325.7 258.6 L310.3 260.1 L295.0 260.6 L273.0 261.5 L249.6 262.5 L229.2 263.2 L218.0 263.3Z" fill="#c8c8c8" stroke="#c8c8c8" stroke-width="1.2" stroke-linejoin="round"/>
<path d="M219.9 224.6L222.5 224.6L221.2 222.4Z" fill="#c8c8c8"/><path d="M290.6 262.9L293.2 262.9L291.9 260.7Z" fill="#c8c8c8"/><path d="M310.6 261.6L313.2 261.6L311.9 259.4Z" fill="#c8c8c8"/><path d="M364.0 205.3L366.6 205.3L365.3 203.1Z" fill="#c8c8c8"/><path d="M348.5 199.6L351.1 199.6L349.8 197.4Z" fill="#c8c8c8"/><path d="M384.0 221.7L386.6 221.7L385.3 219.4Z" fill="#c8c8c8"/><path d="M213.7 232.9L216.3 232.9L215.0 230.6Z" fill="#c8c8c8"/><path d="M365.4 204.2L368.0 204.2L366.7 201.9Z" fill="#c8c8c8"/><path d="M368.4 204.7L371.0 204.7L369.7 202.4Z" fill="#c8c8c8"/><path d="M383.9 224.2L386.5 224.2L385.2 222.0Z" fill="#c8c8c8"/><path d="M383.9 232.6L386.5 232.6L385.2 230.4Z" fill="#c8c8c8"/><path d="M214.6 261.9L217.2 261.9L215.9 259.7Z" fill="#c8c8c8"/><path d="M234.7 214.5L237.3 214.5L236.0 212.3Z" fill="#c8c8c8"/><path d="M387.0 236.4L389.6 236.4L388.3 234.2Z" fill="#c8c8c8"/><path d="M211.3 241.0L213.9 241.0L212.6 238.7Z" fill="#c8c8c8"/><path d="M337.0 198.4L339.6 198.4L338.3 196.2Z" fill="#c8c8c8"/><path d="M360.8 203.8L363.4 203.8L362.1 201.5Z" fill="#c8c8c8"/><path d="M381.8 221.5L384.4 221.5L383.1 219.2Z" fill="#c8c8c8"/><path d="M212.7 258.5L215.3 258.5L214.0 256.2Z" fill="#c8c8c8"/><path d="M320.7 197.3L323.3 197.3L322.0 195.0Z" fill="#c8c8c8"/><path d="M361.1 201.6L363.7 201.6L362.4 199.3Z" fill="#c8c8c8"/><path d="M331.6 196.6L334.2 196.6L332.9 194.3Z" fill="#c8c8c8"/><path d="M214.8 235.3L217.4 235.3L216.1 233.1Z" fill="#c8c8c8"/><path d="M325.3 195.8L327.9 195.8L326.6 193.6Z" fill="#c8c8c8"/><path d="M285.8 194.1L288.4 194.1L287.1 191.8Z" fill="#c8c8c8"/><path d="M322.2 197.0L324.8 197.0L323.5 194.8Z" fill="#c8c8c8"/><path d="M269.9 262.8L272.5 262.8L271.2 260.5Z" fill="#c8c8c8"/><path d="M332.6 260.4L335.2 260.4L333.9 258.1Z" fill="#c8c8c8"/><path d="M385.2 226.2L387.8 226.2L386.5 223.9Z" fill="#c8c8c8"/><path d="M369.8 248.4L372.4 248.4L371.1 246.1Z" fill="#c8c8c8"/><path d="M382.8 218.8L385.4 218.8L384.1 216.5Z" fill="#c8c8c8"/><path d="M360.8 204.4L363.4 204.4L362.1 202.2Z" fill="#c8c8c8"/><path d="M332.4 258.7L335.0 258.7L333.7 256.5Z" fill="#c8c8c8"/><path d="M360.3 204.4L362.9 204.4L361.6 202.1Z" fill="#c8c8c8"/><path d="M268.6 193.9L271.2 193.9L269.9 191.6Z" fill="#c8c8c8"/><path d="M380.4 240.2L383.0 240.2L381.7 237.9Z" fill="#c8c8c8"/><path d="M317.7 195.9L320.3 195.9L319.0 193.6Z" fill="#c8c8c8"/><path d="M356.4 254.3L359.0 254.3L357.7 252.0Z" fill="#c8c8c8"/><path d="M214.2 236.1L216.8 236.1L215.5 233.9Z" fill="#c8c8c8"/><path d="M242.8 208.8L245.4 208.8L244.1 206.6Z" fill="#c8c8c8"/><path d="M256.1 202.8L258.7 202.8L257.4 200.5Z" fill="#c8c8c8"/><path d="M280.8 194.2L283.4 194.2L282.1 191.9Z" fill="#c8c8c8"/><path d="M292.6 262.3L295.2 262.3L293.9 260.1Z" fill="#c8c8c8"/><path d="M237.5 210.4L240.1 210.4L238.8 208.1Z" fill="#c8c8c8"/><path d="M372.3 248.7L374.9 248.7L373.6 246.5Z" fill="#c8c8c8"/><path d="M293.2 261.9L295.8 261.9L294.5 259.7Z" fill="#c8c8c8"/><path d="M215.8 234.5L218.4 234.5L217.1 232.2Z" fill="#c8c8c8"/><path d="M367.1 250.6L369.7 250.6L368.4 248.3Z" fill="#c8c8c8"/><path d="M372.0 247.5L374.6 247.5L373.3 245.2Z" fill="#c8c8c8"/><path d="M366.5 206.4L369.1 206.4L367.8 204.2Z" fill="#c8c8c8"/><path d="M378.4 213.8L381.0 213.8L379.7 211.5Z" fill="#c8c8c8"/><path d="M316.4 194.3L319.0 194.3L317.7 192.0Z" fill="#c8c8c8"/><path d="M342.7 258.2L345.3 258.2L344.0 256.0Z" fill="#c8c8c8"/><path d="M309.9 261.7L312.5 261.7L311.2 259.5Z" fill="#c8c8c8"/><path d="M292.8 197.0L295.4 197.0L294.1 194.7Z" fill="#c8c8c8"/><path d="M307.9 262.1L310.5 262.1L309.2 259.8Z" fill="#c8c8c8"/><path d="M362.3 255.5L364.9 255.5L363.6 253.2Z" fill="#c8c8c8"/><path d="M214.7 246.0L217.3 246.0L216.0 243.7Z" fill="#c8c8c8"/><path d="M368.6 252.8L371.2 252.8L369.9 250.5Z" fill="#c8c8c8"/><path d="M368.6 204.0L371.2 204.0L369.9 201.8Z" fill="#c8c8c8"/><path d="M353.6 255.3L356.2 255.3L354.9 253.0Z" fill="#c8c8c8"/><path d="M345.0 199.7L347.6 199.7L346.3 197.4Z" fill="#c8c8c8"/><path d="M232.5 215.5L235.1 215.5L233.8 213.2Z" fill="#c8c8c8"/><path d="M359.1 202.6L361.7 202.6L360.4 200.4Z" fill="#c8c8c8"/><path d="M264.2 196.2L266.8 196.2L265.5 193.9Z" fill="#c8c8c8"/><path d="M377.6 213.4L380.2 213.4L378.9 211.2Z" fill="#c8c8c8"/><path d="M244.5 206.8L247.1 206.8L245.8 204.5Z" fill="#c8c8c8"/><path d="M385.4 219.0L388.0 219.0L386.7 216.8Z" fill="#c8c8c8"/><path d="M263.1 198.2L265.7 198.2L264.4 195.9Z" fill="#c8c8c8"/><path d="M307.8 196.0L310.4 196.0L309.1 193.7Z" fill="#c8c8c8"/><path d="M366.0 250.2L368.6 250.2L367.3 247.9Z" fill="#c8c8c8"/><path d="M364.3 253.3L366.9 253.3L365.6 251.1Z" fill="#c8c8c8"/><path d="M292.8 262.4L295.4 262.4L294.1 260.2Z" fill="#c8c8c8"/><path d="M328.6 261.7L331.2 261.7L329.9 259.4Z" fill="#c8c8c8"/><path d="M362.9 203.8L365.5 203.8L364.2 201.6Z" fill="#c8c8c8"/><path d="M221.3 218.3L223.9 218.3L222.6 216.1Z" fill="#c8c8c8"/><path d="M351.8 200.8L354.4 200.8L353.1 198.6Z" fill="#c8c8c8"/><path d="M385.8 234.4L388.4 234.4L387.1 232.1Z" fill="#c8c8c8"/><path d="M213.1 242.2L215.7 242.2L214.4 239.9Z" fill="#c8c8c8"/><path d="M356.2 200.5L358.8 200.5L357.5 198.2Z" fill="#c8c8c8"/><path d="M321.0 194.6L323.6 194.6L322.3 192.3Z" fill="#c8c8c8"/><path d="M337.5 258.7L340.1 258.7L338.8 256.5Z" fill="#c8c8c8"/><path d="M382.5 220.9L385.1 220.9L383.8 218.7Z" fill="#c8c8c8"/><path d="M319.4 260.5L322.0 260.5L320.7 258.2Z" fill="#c8c8c8"/><path d="M338.5 257.6L341.1 257.6L339.8 255.4Z" fill="#c8c8c8"/><path d="M352.4 202.2L355.0 202.2L353.7 199.9Z" fill="#c8c8c8"/><path d="M385.0 238.1L387.6 238.1L386.3 235.9Z" fill="#c8c8c8"/><path d="M373.3 206.6L375.9 206.6L374.6 204.3Z" fill="#c8c8c8"/><path d="M334.3 259.0L336.9 259.0L335.6 256.7Z" fill="#c8c8c8"/><path d="M269.3 198.1L271.9 198.1L270.6 195.8Z" fill="#c8c8c8"/><path d="M295.4 194.2L298.0 194.2L296.7 191.9Z" fill="#c8c8c8"/><path d="M271.5 197.3L274.1 197.3L272.8 195.0Z" fill="#c8c8c8"/><path d="M377.6 210.8L380.2 210.8L378.9 208.6Z" fill="#c8c8c8"/><path d="M348.3 199.1L350.9 199.1L349.6 196.8Z" fill="#c8c8c8"/><path d="M373.7 210.7L376.3 210.7L375.0 208.4Z" fill="#c8c8c8"/><path d="M383.6 234.2L386.2 234.2L384.9 232.0Z" fill="#c8c8c8"/><path d="M342.2 199.2L344.8 199.2L343.5 197.0Z" fill="#c8c8c8"/><path d="M214.9 243.6L217.5 243.6L216.2 241.3Z" fill="#c8c8c8"/><path d="M343.7 257.2L346.3 257.2L345.0 255.0Z" fill="#c8c8c8"/><path d="M325.6 195.5L328.2 195.5L326.9 193.2Z" fill="#c8c8c8"/><path d="M213.9 249.8L216.5 249.8L215.2 247.5Z" fill="#c8c8c8"/><path d="M311.1 196.1L313.7 196.1L312.4 193.8Z" fill="#c8c8c8"/><path d="M267.7 262.8L270.3 262.8L269.0 260.6Z" fill="#c8c8c8"/><path d="M361.7 253.8L364.3 253.8L363.0 251.6Z" fill="#c8c8c8"/><path d="M383.0 235.5L385.6 235.5L384.3 233.2Z" fill="#c8c8c8"/><path d="M213.7 230.3L216.3 230.3L215.0 228.0Z" fill="#c8c8c8"/><path d="M300.3 196.7L302.9 196.7L301.6 194.4Z" fill="#c8c8c8"/><path d="M341.6 259.9L344.2 259.9L342.9 257.7Z" fill="#c8c8c8"/><path d="M300.0 261.7L302.6 261.7L301.3 259.5Z" fill="#c8c8c8"/><path d="M379.4 211.9L382.0 211.9L380.7 209.6Z" fill="#c8c8c8"/><path d="M317.5 261.4L320.1 261.4L318.8 259.1Z" fill="#c8c8c8"/><path d="M213.6 242.4L216.2 242.4L214.9 240.1Z" fill="#c8c8c8"/><path d="M384.5 232.3L387.1 232.3L385.8 230.0Z" fill="#c8c8c8"/><path d="M250.5 203.2L253.1 203.2L251.8 201.0Z" fill="#c8c8c8"/><path d="M220.7 223.7L223.3 223.7L222.0 221.4Z" fill="#c8c8c8"/><path d="M338.8 258.1L341.4 258.1L340.1 255.9Z" fill="#c8c8c8"/><path d="M270.5 262.7L273.1 262.7L271.8 260.4Z" fill="#c8c8c8"/><path d="M326.4 197.2L329.0 197.2L327.7 194.9Z" fill="#c8c8c8"/><path d="M382.1 221.4L384.7 221.4L383.4 219.1Z" fill="#c8c8c8"/><path d="M366.4 254.9L369.0 254.9L367.7 252.6Z" fill="#c8c8c8"/><path d="M214.6 229.0L217.2 229.0L215.9 226.7Z" fill="#c8c8c8"/><path d="M352.2 200.9L354.8 200.9L353.5 198.6Z" fill="#c8c8c8"/><path d="M331.4 260.9L334.0 260.9L332.7 258.6Z" fill="#c8c8c8"/><path d="M330.4 262.4L333.0 262.4L331.7 260.2Z" fill="#c8c8c8"/><path d="M262.4 199.0L265.0 199.0L263.7 196.8Z" fill="#c8c8c8"/><path d="M383.9 227.8L386.5 227.8L385.2 225.5Z" fill="#c8c8c8"/><path d="M305.3 197.3L307.9 197.3L306.6 195.1Z" fill="#c8c8c8"/><path d="M345.9 258.8L348.5 258.8L347.2 256.6Z" fill="#c8c8c8"/><path d="M334.1 259.4L336.7 259.4L335.4 257.1Z" fill="#c8c8c8"/><path d="M303.2 197.3L305.8 197.3L304.5 195.0Z" fill="#c8c8c8"/><path d="M328.2 261.4L330.8 261.4L329.5 259.2Z" fill="#c8c8c8"/><path d="M224.0 220.3L226.6 220.3L225.3 218.0Z" fill="#c8c8c8"/><path d="M309.1 262.9L311.7 262.9L310.4 260.6Z" fill="#c8c8c8"/><path d="M260.3 200.7L262.9 200.7L261.6 198.5Z" fill="#c8c8c8"/><path d="M289.3 196.1L291.9 196.1L290.6 193.8Z" fill="#c8c8c8"/><path d="M221.3 218.6L223.9 218.6L222.6 216.4Z" fill="#c8c8c8"/><path d="M353.2 256.4L355.8 256.4L354.5 254.1Z" fill="#c8c8c8"/><path d="M318.8 262.0L321.4 262.0L320.1 259.7Z" fill="#c8c8c8"/><path d="M283.2 193.0L285.8 193.0L284.5 190.7Z" fill="#c8c8c8"/><path d="M279.0 197.3L281.6 197.3L280.3 195.0Z" fill="#c8c8c8"/><path d="M380.0 239.9L382.6 239.9L381.3 237.7Z" fill="#c8c8c8"/><path d="M331.4 195.8L334.0 195.8L332.7 193.6Z" fill="#c8c8c8"/><path d="M333.3 259.7L335.9 259.7L334.6 257.5Z" fill="#c8c8c8"/><path d="M359.6 254.7L362.2 254.7L360.9 252.4Z" fill="#c8c8c8"/><path d="M375.3 208.8L377.9 208.8L376.6 206.6Z" fill="#c8c8c8"/><path d="M312.7 194.4L315.3 194.4L314.0 192.1Z" fill="#c8c8c8"/><path d="M292.6 196.7L295.2 196.7L293.9 194.4Z" fill="#c8c8c8"/><path d="M312.9 197.4L315.5 197.4L314.2 195.1Z" fill="#c8c8c8"/><path d="M365.0 202.6L367.6 202.6L366.3 200.3Z" fill="#c8c8c8"/><path d="M263.7 198.1L266.3 198.1L265.0 195.9Z" fill="#c8c8c8"/><path d="M302.0 196.1L304.6 196.1L303.3 193.8Z" fill="#c8c8c8"/><path d="M375.8 245.3L378.4 245.3L377.1 243.0Z" fill="#c8c8c8"/><path d="M340.9 258.4L343.5 258.4L342.2 256.1Z" fill="#c8c8c8"/><path d="M317.2 195.1L319.8 195.1L318.5 192.8Z" fill="#c8c8c8"/><path d="M278.5 194.2L281.1 194.2L279.8 191.9Z" fill="#c8c8c8"/><path d="M268.1 194.1L270.7 194.1L269.4 191.8Z" fill="#c8c8c8"/><path d="M263.6 197.7L266.2 197.7L264.9 195.4Z" fill="#c8c8c8"/><path d="M379.0 214.7L381.6 214.7L380.3 212.4Z" fill="#c8c8c8"/><path d="M344.1 260.8L346.7 260.8L345.4 258.5Z" fill="#c8c8c8"/><path d="M215.3 227.0L217.9 227.0L216.6 224.7Z" fill="#c8c8c8"/><path d="M313.2 197.4L315.8 197.4L314.5 195.1Z" fill="#c8c8c8"/><path d="M316.8 261.5L319.4 261.5L318.1 259.2Z" fill="#c8c8c8"/><path d="M360.1 254.0L362.7 254.0L361.4 251.7Z" fill="#c8c8c8"/><path d="M384.7 235.1L387.3 235.1L386.0 232.8Z" fill="#c8c8c8"/><path d="M385.5 220.9L388.1 220.9L386.8 218.6Z" fill="#c8c8c8"/><path d="M363.0 202.7L365.6 202.7L364.3 200.5Z" fill="#c8c8c8"/><path d="M284.3 262.7L286.9 262.7L285.6 260.4Z" fill="#c8c8c8"/><path d="M379.2 240.8L381.8 240.8L380.5 238.5Z" fill="#c8c8c8"/><path d="M348.2 256.2L350.8 256.2L349.5 253.9Z" fill="#c8c8c8"/><path d="M359.7 203.8L362.3 203.8L361.0 201.5Z" fill="#c8c8c8"/><path d="M279.9 195.8L282.5 195.8L281.2 193.5Z" fill="#c8c8c8"/><path d="M358.1 202.8L360.7 202.8L359.4 200.6Z" fill="#c8c8c8"/><path d="M319.9 261.1L322.5 261.1L321.2 258.9Z" fill="#c8c8c8"/><path d="M325.4 197.6L328.0 197.6L326.7 195.4Z" fill="#c8c8c8"/><path d="M219.8 224.4L222.4 224.4L221.1 222.2Z" fill="#c8c8c8"/><path d="M366.4 250.0L369.0 250.0L367.7 247.7Z" fill="#c8c8c8"/><path d="M330.6 259.9L333.2 259.9L331.9 257.6Z" fill="#c8c8c8"/><path d="M375.0 212.0L377.6 212.0L376.3 209.8Z" fill="#c8c8c8"/><path d="M297.8 261.8L300.4 261.8L299.1 259.5Z" fill="#c8c8c8"/><path d="M271.6 195.5L274.2 195.5L272.9 193.3Z" fill="#c8c8c8"/><path d="M213.0 253.7L215.6 253.7L214.3 251.4Z" fill="#c8c8c8"/><path d="M382.4 220.2L385.0 220.2L383.7 217.9Z" fill="#c8c8c8"/><path d="M258.1 201.2L260.7 201.2L259.4 198.9Z" fill="#c8c8c8"/><path d="M367.3 252.1L369.9 252.1L368.6 249.8Z" fill="#c8c8c8"/><path d="M303.9 195.4L306.5 195.4L305.2 193.2Z" fill="#c8c8c8"/><path d="M314.0 196.0L316.6 196.0L315.3 193.8Z" fill="#c8c8c8"/><path d="M348.9 201.3L351.5 201.3L350.2 199.1Z" fill="#c8c8c8"/><path d="M282.8 195.5L285.4 195.5L284.1 193.3Z" fill="#c8c8c8"/><path d="M337.2 198.2L339.8 198.2L338.5 196.0Z" fill="#c8c8c8"/><path d="M340.2 258.4L342.8 258.4L341.5 256.1Z" fill="#c8c8c8"/><path d="M240.1 209.5L242.7 209.5L241.4 207.2Z" fill="#c8c8c8"/><path d="M383.6 228.1L386.2 228.1L384.9 225.9Z" fill="#c8c8c8"/><path d="M213.3 255.1L215.9 255.1L214.6 252.8Z" fill="#c8c8c8"/><path d="M383.7 224.7L386.3 224.7L385.0 222.5Z" fill="#c8c8c8"/><path d="M222.5 217.7L225.1 217.7L223.8 215.4Z" fill="#c8c8c8"/><path d="M270.8 197.5L273.4 197.5L272.1 195.3Z" fill="#c8c8c8"/><path d="M339.7 199.6L342.3 199.6L341.0 197.3Z" fill="#c8c8c8"/><path d="M262.2 198.2L264.8 198.2L263.5 196.0Z" fill="#c8c8c8"/><path d="M235.6 213.0L238.2 213.0L236.9 210.7Z" fill="#c8c8c8"/><path d="M282.7 196.3L285.3 196.3L284.0 194.1Z" fill="#c8c8c8"/><path d="M216.0 227.1L218.6 227.1L217.3 224.9Z" fill="#c8c8c8"/><path d="M348.9 200.0L351.5 200.0L350.2 197.7Z" fill="#c8c8c8"/><path d="M328.4 260.2L331.0 260.2L329.7 257.9Z" fill="#c8c8c8"/><path d="M377.0 213.5L379.6 213.5L378.3 211.3Z" fill="#c8c8c8"/><path d="M353.3 257.7L355.9 257.7L354.6 255.4Z" fill="#c8c8c8"/><path d="M272.4 262.7L275.0 262.7L273.7 260.4Z" fill="#c8c8c8"/><path d="M324.2 193.6L326.8 193.6L325.5 191.3Z" fill="#c8c8c8"/><path d="M371.4 208.0L374.0 208.0L372.7 205.7Z" fill="#c8c8c8"/><path d="M214.0 240.0L216.6 240.0L215.3 237.7Z" fill="#c8c8c8"/><path d="M317.7 197.0L320.3 197.0L319.0 194.8Z" fill="#c8c8c8"/><path d="M255.9 203.2L258.5 203.2L257.2 200.9Z" fill="#c8c8c8"/><path d="M385.6 227.7L388.2 227.7L386.9 225.5Z" fill="#c8c8c8"/><path d="M350.9 198.7L353.5 198.7L352.2 196.4Z" fill="#c8c8c8"/><path d="M301.0 196.5L303.6 196.5L302.3 194.2Z" fill="#c8c8c8"/><path d="M313.6 262.0L316.2 262.0L314.9 259.7Z" fill="#c8c8c8"/><path d="M361.5 254.4L364.1 254.4L362.8 252.1Z" fill="#c8c8c8"/><path d="M299.7 197.2L302.3 197.2L301.0 194.9Z" fill="#c8c8c8"/><path d="M358.0 254.1L360.6 254.1L359.3 251.8Z" fill="#c8c8c8"/><path d="M363.7 203.4L366.3 203.4L365.0 201.1Z" fill="#c8c8c8"/><path d="M263.4 199.4L266.0 199.4L264.7 197.2Z" fill="#c8c8c8"/><path d="M294.2 261.9L296.8 261.9L295.5 259.7Z" fill="#c8c8c8"/><path d="M303.3 261.5L305.9 261.5L304.6 259.2Z" fill="#c8c8c8"/><path d="M334.1 259.2L336.7 259.2L335.4 256.9Z" fill="#c8c8c8"/><path d="M316.8 261.0L319.4 261.0L318.1 258.8Z" fill="#c8c8c8"/><path d="M212.6 237.5L215.2 237.5L213.9 235.2Z" fill="#c8c8c8"/><path d="M213.4 258.4L216.0 258.4L214.7 256.2Z" fill="#c8c8c8"/><path d="M365.6 204.9L368.2 204.9L366.9 202.6Z" fill="#c8c8c8"/><path d="M294.1 197.2L296.7 197.2L295.4 194.9Z" fill="#c8c8c8"/><path d="M336.3 260.3L338.9 260.3L337.6 258.1Z" fill="#c8c8c8"/><path d="M373.4 246.4L376.0 246.4L374.7 244.2Z" fill="#c8c8c8"/><path d="M324.5 197.1L327.1 197.1L325.8 194.8Z" fill="#c8c8c8"/><path d="M309.1 193.2L311.7 193.2L310.4 190.9Z" fill="#c8c8c8"/><path d="M267.0 194.8L269.6 194.8L268.3 192.6Z" fill="#c8c8c8"/><path d="M372.7 209.5L375.3 209.5L374.0 207.3Z" fill="#c8c8c8"/><path d="M381.4 240.9L384.0 240.9L382.7 238.6Z" fill="#c8c8c8"/><path d="M305.7 194.4L308.3 194.4L307.0 192.2Z" fill="#c8c8c8"/><path d="M216.4 225.1L219.0 225.1L217.7 222.9Z" fill="#c8c8c8"/><path d="M373.0 209.0L375.6 209.0L374.3 206.7Z" fill="#c8c8c8"/><path d="M383.5 221.8L386.1 221.8L384.8 219.5Z" fill="#c8c8c8"/><path d="M213.9 246.4L216.5 246.4L215.2 244.1Z" fill="#c8c8c8"/><path d="M337.5 197.9L340.1 197.9L338.8 195.6Z" fill="#c8c8c8"/><path d="M326.3 260.9L328.9 260.9L327.6 258.6Z" fill="#c8c8c8"/><path d="M373.7 245.5L376.3 245.5L375.0 243.3Z" fill="#c8c8c8"/><path d="M213.7 245.4L216.3 245.4L215.0 243.2Z" fill="#c8c8c8"/><path d="M313.6 261.1L316.2 261.1L314.9 258.8Z" fill="#c8c8c8"/><path d="M256.7 200.4L259.3 200.4L258.0 198.1Z" fill="#c8c8c8"/><path d="M359.3 255.1L361.9 255.1L360.6 252.8Z" fill="#c8c8c8"/><path d="M361.6 204.5L364.2 204.5L362.9 202.3Z" fill="#c8c8c8"/><path d="M367.0 202.3L369.6 202.3L368.3 200.1Z" fill="#c8c8c8"/><path d="M384.5 228.6L387.1 228.6L385.8 226.4Z" fill="#c8c8c8"/><path d="M233.4 214.2L236.0 214.2L234.7 212.0Z" fill="#c8c8c8"/><path d="M266.3 194.6L268.9 194.6L267.6 192.3Z" fill="#c8c8c8"/><path d="M217.3 228.6L219.9 228.6L218.6 226.4Z" fill="#c8c8c8"/><path d="M382.7 214.9L385.3 214.9L384.0 212.6Z" fill="#c8c8c8"/><path d="M335.0 260.9L337.6 260.9L336.3 258.6Z" fill="#c8c8c8"/><path d="M254.0 202.6L256.6 202.6L255.3 200.3Z" fill="#c8c8c8"/><path d="M266.8 196.5L269.4 196.5L268.1 194.3Z" fill="#c8c8c8"/><path d="M372.5 248.0L375.1 248.0L373.8 245.8Z" fill="#c8c8c8"/><path d="M375.3 245.1L377.9 245.1L376.6 242.8Z" fill="#c8c8c8"/><path d="M328.1 194.3L330.7 194.3L329.4 192.0Z" fill="#c8c8c8"/><path d="M281.8 262.9L284.4 262.9L283.1 260.6Z" fill="#c8c8c8"/><path d="M275.1 195.3L277.7 195.3L276.4 193.0Z" fill="#c8c8c8"/><path d="M362.1 253.7L364.7 253.7L363.4 251.4Z" fill="#c8c8c8"/><path d="M373.3 207.7L375.9 207.7L374.6 205.4Z" fill="#c8c8c8"/><path d="M308.1 195.7L310.7 195.7L309.4 193.4Z" fill="#c8c8c8"/><path d="M226.1 217.5L228.7 217.5L227.4 215.3Z" fill="#c8c8c8"/><path d="M288.3 196.6L290.9 196.6L289.6 194.3Z" fill="#c8c8c8"/><path d="M342.6 257.7L345.2 257.7L343.9 255.4Z" fill="#c8c8c8"/><path d="M266.5 195.3L269.1 195.3L267.8 193.1Z" fill="#c8c8c8"/><path d="M315.9 262.8L318.5 262.8L317.2 260.5Z" fill="#c8c8c8"/><path d="M213.5 244.0L216.1 244.0L214.8 241.7Z" fill="#c8c8c8"/><path d="M386.2 228.7L388.8 228.7L387.5 226.4Z" fill="#c8c8c8"/><path d="M327.4 261.9L330.0 261.9L328.7 259.6Z" fill="#c8c8c8"/><path d="M212.5 250.5L215.1 250.5L213.8 248.2Z" fill="#c8c8c8"/><path d="M301.3 193.0L303.9 193.0L302.6 190.7Z" fill="#c8c8c8"/><path d="M384.1 235.7L386.7 235.7L385.4 233.4Z" fill="#c8c8c8"/><path d="M234.6 210.9L237.2 210.9L235.9 208.7Z" fill="#c8c8c8"/><path d="M383.4 240.7L386.0 240.7L384.7 238.4Z" fill="#c8c8c8"/><path d="M253.6 204.7L256.2 204.7L254.9 202.4Z" fill="#c8c8c8"/><path d="M227.0 215.9L229.6 215.9L228.3 213.7Z" fill="#c8c8c8"/><path d="M370.1 205.5L372.7 205.5L371.4 203.2Z" fill="#c8c8c8"/><path d="M214.4 246.0L217.0 246.0L215.7 243.8Z" fill="#c8c8c8"/><path d="M275.3 194.6L277.9 194.6L276.6 192.3Z" fill="#c8c8c8"/><path d="M384.3 224.7L386.9 224.7L385.6 222.5Z" fill="#c8c8c8"/><path d="M215.4 237.0L218.0 237.0L216.7 234.7Z" fill="#c8c8c8"/><path d="M357.5 202.9L360.1 202.9L358.8 200.6Z" fill="#c8c8c8"/><path d="M240.6 207.0L243.2 207.0L241.9 204.7Z" fill="#c8c8c8"/><path d="M283.6 196.6L286.2 196.6L284.9 194.4Z" fill="#c8c8c8"/><path d="M380.7 240.1L383.3 240.1L382.0 237.8Z" fill="#c8c8c8"/><path d="M384.3 230.7L386.9 230.7L385.6 228.5Z" fill="#c8c8c8"/><path d="M307.8 261.8L310.4 261.8L309.1 259.5Z" fill="#c8c8c8"/><path d="M375.1 209.2L377.7 209.2L376.4 207.0Z" fill="#c8c8c8"/><path d="M368.0 253.2L370.6 253.2L369.3 250.9Z" fill="#c8c8c8"/><path d="M305.2 194.5L307.8 194.5L306.5 192.3Z" fill="#c8c8c8"/><path d="M213.3 247.3L215.9 247.3L214.6 245.1Z" fill="#c8c8c8"/><path d="M221.7 219.2L224.3 219.2L223.0 217.0Z" fill="#c8c8c8"/><path d="M212.2 245.3L214.8 245.3L213.5 243.0Z" fill="#c8c8c8"/><path d="M324.5 260.7L327.1 260.7L325.8 258.4Z" fill="#c8c8c8"/><path d="M348.3 198.1L350.9 198.1L349.6 195.8Z" fill="#c8c8c8"/><path d="M318.1 195.2L320.7 195.2L319.4 192.9Z" fill="#c8c8c8"/><path d="M360.0 256.1L362.6 256.1L361.3 253.9Z" fill="#c8c8c8"/><path d="M331.8 261.4L334.4 261.4L333.1 259.2Z" fill="#c8c8c8"/><path d="M234.4 211.5L237.0 211.5L235.7 209.3Z" fill="#c8c8c8"/><path d="M239.0 212.1L241.6 212.1L240.3 209.8Z" fill="#c8c8c8"/><path d="M234.5 213.3L237.1 213.3L235.8 211.1Z" fill="#c8c8c8"/><path d="M336.9 261.6L339.5 261.6L338.2 259.3Z" fill="#c8c8c8"/><path d="M333.8 197.7L336.4 197.7L335.1 195.4Z" fill="#c8c8c8"/><path d="M288.4 195.8L291.0 195.8L289.7 193.5Z" fill="#c8c8c8"/><path d="M219.6 221.8L222.2 221.8L220.9 219.5Z" fill="#c8c8c8"/><path d="M305.2 195.6L307.8 195.6L306.5 193.3Z" fill="#c8c8c8"/><path d="M379.7 241.8L382.3 241.8L381.0 239.5Z" fill="#c8c8c8"/><path d="M320.9 261.0L323.5 261.0L322.2 258.7Z" fill="#c8c8c8"/><path d="M340.4 257.6L343.0 257.6L341.7 255.3Z" fill="#c8c8c8"/><path d="M235.0 212.8L237.6 212.8L236.3 210.5Z" fill="#c8c8c8"/><path d="M347.7 256.9L350.3 256.9L349.0 254.6Z" fill="#c8c8c8"/><path d="M224.9 220.1L227.5 220.1L226.2 217.9Z" fill="#c8c8c8"/><path d="M298.3 193.8L300.9 193.8L299.6 191.6Z" fill="#c8c8c8"/><path d="M386.8 229.8L389.4 229.8L388.1 227.5Z" fill="#c8c8c8"/><path d="M382.1 238.5L384.7 238.5L383.4 236.2Z" fill="#c8c8c8"/><path d="M277.8 195.4L280.4 195.4L279.1 193.1Z" fill="#c8c8c8"/><path d="M335.8 196.9L338.4 196.9L337.1 194.6Z" fill="#c8c8c8"/><path d="M315.4 197.2L318.0 197.2L316.7 195.0Z" fill="#c8c8c8"/><path d="M384.7 226.6L387.3 226.6L386.0 224.4Z" fill="#c8c8c8"/><path d="M362.6 205.1L365.2 205.1L363.9 202.8Z" fill="#c8c8c8"/><path d="M352.6 256.9L355.2 256.9L353.9 254.6Z" fill="#c8c8c8"/><path d="M352.1 257.7L354.7 257.7L353.4 255.4Z" fill="#c8c8c8"/><path d="M267.6 197.1L270.2 197.1L268.9 194.9Z" fill="#c8c8c8"/><path d="M336.1 198.9L338.7 198.9L337.4 196.6Z" fill="#c8c8c8"/><path d="M211.5 254.5L214.1 254.5L212.8 252.2Z" fill="#c8c8c8"/><path d="M233.3 212.0L235.9 212.0L234.6 209.7Z" fill="#c8c8c8"/><path d="M338.8 257.8L341.4 257.8L340.1 255.5Z" fill="#c8c8c8"/><path d="M383.3 223.0L385.9 223.0L384.6 220.8Z" fill="#c8c8c8"/><path d="M375.2 211.0L377.8 211.0L376.5 208.7Z" fill="#c8c8c8"/><path d="M355.7 254.7L358.3 254.7L357.0 252.5Z" fill="#c8c8c8"/><path d="M359.0 256.7L361.6 256.7L360.3 254.4Z" fill="#c8c8c8"/><path d="M325.4 261.6L328.0 261.6L326.7 259.3Z" fill="#c8c8c8"/><path d="M333.7 262.1L336.3 262.1L335.0 259.8Z" fill="#c8c8c8"/><path d="M356.0 258.1L358.6 258.1L357.3 255.8Z" fill="#c8c8c8"/><path d="M371.2 247.1L373.8 247.1L372.5 244.9Z" fill="#c8c8c8"/><path d="M314.2 194.3L316.8 194.3L315.5 192.1Z" fill="#c8c8c8"/><path d="M212.5 244.5L215.1 244.5L213.8 242.2Z" fill="#c8c8c8"/><path d="M378.0 242.5L380.6 242.5L379.3 240.2Z" fill="#c8c8c8"/><path d="M363.5 254.6L366.1 254.6L364.8 252.4Z" fill="#c8c8c8"/><path d="M210.8 250.3L213.4 250.3L212.1 248.0Z" fill="#c8c8c8"/><path d="M298.6 196.7L301.2 196.7L299.9 194.4Z" fill="#c8c8c8"/><path d="M376.6 209.4L379.2 209.4L377.9 207.2Z" fill="#c8c8c8"/><path d="M351.1 255.4L353.7 255.4L352.4 253.2Z" fill="#c8c8c8"/><path d="M242.7 208.2L245.3 208.2L244.0 205.9Z" fill="#c8c8c8"/><path d="M237.9 213.0L240.5 213.0L239.2 210.8Z" fill="#c8c8c8"/><path d="M330.6 195.7L333.2 195.7L331.9 193.4Z" fill="#c8c8c8"/><path d="M383.4 234.9L386.0 234.9L384.7 232.7Z" fill="#c8c8c8"/><path d="M341.2 199.6L343.8 199.6L342.5 197.3Z" fill="#c8c8c8"/><path d="M212.8 250.8L215.4 250.8L214.1 248.5Z" fill="#c8c8c8"/><path d="M311.8 197.4L314.4 197.4L313.1 195.1Z" fill="#c8c8c8"/><path d="M239.9 210.5L242.5 210.5L241.2 208.3Z" fill="#c8c8c8"/><path d="M332.6 198.3L335.2 198.3L333.9 196.0Z" fill="#c8c8c8"/><path d="M318.7 196.3L321.3 196.3L320.0 194.1Z" fill="#c8c8c8"/><path d="M250.6 206.2L253.2 206.2L251.9 203.9Z" fill="#c8c8c8"/><path d="M381.8 218.8L384.4 218.8L383.1 216.5Z" fill="#c8c8c8"/><path d="M325.8 262.9L328.4 262.9L327.1 260.6Z" fill="#c8c8c8"/><path d="M385.9 225.6L388.5 225.6L387.2 223.4Z" fill="#c8c8c8"/><path d="M211.2 254.3L213.8 254.3L212.5 252.0Z" fill="#c8c8c8"/><path d="M341.3 196.8L343.9 196.8L342.6 194.5Z" fill="#c8c8c8"/><path d="M271.2 196.6L273.8 196.6L272.5 194.3Z" fill="#c8c8c8"/><path d="M296.2 261.7L298.8 261.7L297.5 259.4Z" fill="#c8c8c8"/><path d="M329.4 262.0L332.0 262.0L330.7 259.7Z" fill="#c8c8c8"/><path d="M274.3 194.8L276.9 194.8L275.6 192.5Z" fill="#c8c8c8"/><path d="M323.8 262.8L326.4 262.8L325.1 260.5Z" fill="#c8c8c8"/><path d="M381.4 238.8L384.0 238.8L382.7 236.5Z" fill="#c8c8c8"/><path d="M370.5 248.7L373.1 248.7L371.8 246.4Z" fill="#c8c8c8"/><path d="M247.1 206.4L249.7 206.4L248.4 204.1Z" fill="#c8c8c8"/><path d="M321.1 262.3L323.7 262.3L322.4 260.1Z" fill="#c8c8c8"/><path d="M314.5 261.5L317.1 261.5L315.8 259.3Z" fill="#c8c8c8"/><path d="M334.7 197.3L337.3 197.3L336.0 195.0Z" fill="#c8c8c8"/><path d="M315.1 194.6L317.7 194.6L316.4 192.3Z" fill="#c8c8c8"/><path d="M212.0 240.7L214.6 240.7L213.3 238.4Z" fill="#c8c8c8"/><path d="M342.4 197.8L345.0 197.8L343.7 195.5Z" fill="#c8c8c8"/><path d="M252.2 205.0L254.8 205.0L253.5 202.8Z" fill="#c8c8c8"/><path d="M378.0 209.8L380.6 209.8L379.3 207.6Z" fill="#c8c8c8"/><path d="M241.8 210.5L244.4 210.5L243.1 208.3Z" fill="#c8c8c8"/><path d="M343.6 257.0L346.2 257.0L344.9 254.7Z" fill="#c8c8c8"/><path d="M362.5 253.1L365.1 253.1L363.8 250.8Z" fill="#c8c8c8"/><path d="M376.9 246.3L379.5 246.3L378.2 244.1Z" fill="#c8c8c8"/><path d="M366.6 251.5L369.2 251.5L367.9 249.2Z" fill="#c8c8c8"/><path d="M383.4 236.9L386.0 236.9L384.7 234.6Z" fill="#c8c8c8"/><path d="M383.5 225.5L386.1 225.5L384.8 223.2Z" fill="#c8c8c8"/><path d="M214.8 225.8L217.4 225.8L216.1 223.5Z" fill="#c8c8c8"/><path d="M237.9 211.3L240.5 211.3L239.2 209.1Z" fill="#c8c8c8"/><path d="M229.8 218.1L232.4 218.1L231.1 215.8Z" fill="#c8c8c8"/><path d="M372.2 209.4L374.8 209.4L373.5 207.1Z" fill="#c8c8c8"/><path d="M241.9 206.6L244.5 206.6L243.2 204.3Z" fill="#c8c8c8"/><path d="M305.6 261.5L308.2 261.5L306.9 259.3Z" fill="#c8c8c8"/><path d="M321.7 195.7L324.3 195.7L323.0 193.4Z" fill="#c8c8c8"/><path d="M289.1 194.6L291.7 194.6L290.4 192.3Z" fill="#c8c8c8"/><path d="M213.2 242.9L215.8 242.9L214.5 240.6Z" fill="#c8c8c8"/><path d="M344.5 200.5L347.1 200.5L345.8 198.3Z" fill="#c8c8c8"/><path d="M214.3 256.1L216.9 256.1L215.6 253.9Z" fill="#c8c8c8"/><path d="M344.2 199.3L346.8 199.3L345.5 197.1Z" fill="#c8c8c8"/><path d="M214.8 225.8L217.4 225.8L216.1 223.5Z" fill="#c8c8c8"/><path d="M219.0 226.1L221.6 226.1L220.3 223.8Z" fill="#c8c8c8"/><path d="M252.7 202.3L255.3 202.3L254.0 200.0Z" fill="#c8c8c8"/><path d="M212.2 248.9L214.8 248.9L213.5 246.6Z" fill="#c8c8c8"/><path d="M275.3 263.1L277.9 263.1L276.6 260.8Z" fill="#c8c8c8"/><path d="M357.7 256.0L360.3 256.0L359.0 253.8Z" fill="#c8c8c8"/><path d="M272.5 195.3L275.1 195.3L273.8 193.1Z" fill="#c8c8c8"/><path d="M308.3 194.2L310.9 194.2L309.6 192.0Z" fill="#c8c8c8"/><path d="M346.6 259.5L349.2 259.5L347.9 257.3Z" fill="#c8c8c8"/><path d="M366.7 251.3L369.3 251.3L368.0 249.1Z" fill="#c8c8c8"/><path d="M227.9 219.0L230.5 219.0L229.2 216.7Z" fill="#c8c8c8"/><path d="M215.0 240.9L217.6 240.9L216.3 238.6Z" fill="#c8c8c8"/><path d="M239.6 208.3L242.2 208.3L240.9 206.1Z" fill="#c8c8c8"/><path d="M325.2 260.8L327.8 260.8L326.5 258.5Z" fill="#c8c8c8"/><path d="M257.7 199.0L260.3 199.0L259.0 196.7Z" fill="#c8c8c8"/><path d="M357.9 253.8L360.5 253.8L359.2 251.6Z" fill="#c8c8c8"/><path d="M344.5 200.1L347.1 200.1L345.8 197.8Z" fill="#c8c8c8"/><path d="M255.9 202.5L258.5 202.5L257.2 200.2Z" fill="#c8c8c8"/><path d="M363.0 203.3L365.6 203.3L364.3 201.0Z" fill="#c8c8c8"/><path d="M279.7 195.1L282.3 195.1L281.0 192.9Z" fill="#c8c8c8"/><path d="M323.4 262.8L326.0 262.8L324.7 260.6Z" fill="#c8c8c8"/><path d="M240.9 208.2L243.5 208.2L242.2 205.9Z" fill="#c8c8c8"/>
<rect x="200.1" y="177.8" width="197.1" height="99.59999999999997" fill="none" stroke="#444" stroke-width="1.3"/>
<line x1="298.7" y1="177.8" x2="298.7" y2="179.8" stroke="#333" stroke-width="0.8"/>
<line x1="298.7" y1="277.4" x2="298.7" y2="275.4" stroke="#333" stroke-width="0.8"/>
<path d="M248.8 235.5L251.6 235.5L250.2 233.0Z" fill="#7fd34e"/><path d="M245.8 233.9L248.6 233.9L247.2 231.5Z" fill="#27a882"/><path d="M249.3 232.3L252.1 232.3L250.7 229.9Z" fill="#7fd34e"/><path d="M248.9 226.2L251.7 226.2L250.3 223.8Z" fill="#1f968b"/><path d="M257.3 245.6L260.1 245.6L258.7 243.2Z" fill="#4ec36b"/><path d="M257.8 244.6L260.6 244.6L259.2 242.2Z" fill="#9bd93c"/><path d="M257.9 245.0L260.7 245.0L259.3 242.6Z" fill="#7fd34e"/><path d="M252.0 237.7L254.8 237.7L253.4 235.2Z" fill="#4ec36b"/><path d="M255.4 221.7L258.2 221.7L256.8 219.3Z" fill="#27a882"/><path d="M251.8 238.5L254.6 238.5L253.2 236.1Z" fill="#4ec36b"/><path d="M250.5 236.1L253.3 236.1L251.9 233.7Z" fill="#4ec36b"/><path d="M255.4 229.0L258.2 229.0L256.8 226.5Z" fill="#4ec36b"/><path d="M254.1 230.7L256.9 230.7L255.5 228.3Z" fill="#4ec36b"/><path d="M255.1 226.7L257.9 226.7L256.5 224.2Z" fill="#27a882"/><path d="M255.8 244.9L258.6 244.9L257.2 242.5Z" fill="#27a882"/><path d="M255.5 241.8L258.3 241.8L256.9 239.4Z" fill="#27a882"/><path d="M257.0 245.3L259.8 245.3L258.4 242.8Z" fill="#9bd93c"/><path d="M245.3 230.3L248.1 230.3L246.7 227.9Z" fill="#7fd34e"/><path d="M256.6 224.0L259.4 224.0L258.0 221.6Z" fill="#4ec36b"/><path d="M257.6 243.0L260.4 243.0L259.0 240.5Z" fill="#7fd34e"/><path d="M255.6 222.2L258.4 222.2L257.0 219.8Z" fill="#27a882"/><path d="M257.1 233.1L259.9 233.1L258.5 230.7Z" fill="#7fd34e"/><path d="M253.7 230.1L256.5 230.1L255.1 227.7Z" fill="#27a882"/><path d="M251.8 239.5L254.6 239.5L253.2 237.1Z" fill="#4ec36b"/><path d="M256.6 244.2L259.4 244.2L258.0 241.8Z" fill="#4ec36b"/><path d="M256.8 231.3L259.6 231.3L258.2 228.9Z" fill="#27a882"/><path d="M256.3 220.9L259.1 220.9L257.7 218.5Z" fill="#9bd93c"/><path d="M256.8 224.7L259.6 224.7L258.2 222.3Z" fill="#4ec36b"/><path d="M254.6 223.2L257.4 223.2L256.0 220.7Z" fill="#27a882"/><path d="M257.5 246.6L260.3 246.6L258.9 244.2Z" fill="#1f968b"/><path d="M255.3 237.3L258.1 237.3L256.7 234.8Z" fill="#4ec36b"/><path d="M243.6 233.1L246.4 233.1L245.0 230.7Z" fill="#4ec36b"/><path d="M257.8 223.4L260.6 223.4L259.2 221.0Z" fill="#4ec36b"/><path d="M253.1 247.0L255.9 247.0L254.5 244.5Z" fill="#27a882"/><path d="M256.4 245.2L259.2 245.2L257.8 242.8Z" fill="#27a882"/><path d="M256.8 221.8L259.6 221.8L258.2 219.3Z" fill="#7fd34e"/><path d="M256.3 246.6L259.1 246.6L257.7 244.2Z" fill="#4ec36b"/><path d="M254.1 242.0L256.9 242.0L255.5 239.6Z" fill="#4ec36b"/><path d="M247.6 234.0L250.4 234.0L249.0 231.6Z" fill="#4ec36b"/><path d="M255.1 228.0L257.9 228.0L256.5 225.5Z" fill="#4ec36b"/><path d="M254.4 232.0L257.2 232.0L255.8 229.5Z" fill="#4ec36b"/><path d="M256.7 225.1L259.5 225.1L258.1 222.7Z" fill="#9bd93c"/><path d="M257.3 225.1L260.1 225.1L258.7 222.6Z" fill="#27a882"/><path d="M249.5 236.4L252.3 236.4L250.9 234.0Z" fill="#9bd93c"/><path d="M255.4 222.6L258.2 222.6L256.8 220.1Z" fill="#4ec36b"/><path d="M255.3 225.0L258.1 225.0L256.7 222.5Z" fill="#27a882"/><path d="M255.5 236.8L258.3 236.8L256.9 234.3Z" fill="#4ec36b"/><path d="M249.3 228.5L252.1 228.5L250.7 226.1Z" fill="#1f968b"/><path d="M257.8 222.0L260.6 222.0L259.2 219.6Z" fill="#7fd34e"/><path d="M255.5 245.0L258.3 245.0L256.9 242.5Z" fill="#4ec36b"/><path d="M254.6 242.1L257.4 242.1L256.0 239.7Z" fill="#9bd93c"/><path d="M254.3 245.8L257.1 245.8L255.7 243.3Z" fill="#1f968b"/><path d="M255.9 220.6L258.7 220.6L257.3 218.2Z" fill="#9bd93c"/><path d="M255.1 238.2L257.9 238.2L256.5 235.8Z" fill="#27a882"/><path d="M256.3 225.2L259.1 225.2L257.7 222.8Z" fill="#27a882"/><path d="M254.3 239.2L257.1 239.2L255.7 236.7Z" fill="#4ec36b"/><path d="M251.4 236.3L254.2 236.3L252.8 233.8Z" fill="#4ec36b"/><path d="M258.0 246.4L260.8 246.4L259.4 243.9Z" fill="#1f968b"/><path d="M256.8 223.5L259.6 223.5L258.2 221.0Z" fill="#9bd93c"/><path d="M253.4 244.9L256.2 244.9L254.8 242.4Z" fill="#9bd93c"/><path d="M252.6 239.4L255.4 239.4L254.0 237.0Z" fill="#1f968b"/><path d="M252.6 228.1L255.4 228.1L254.0 225.7Z" fill="#1f968b"/><path d="M255.4 246.0L258.2 246.0L256.8 243.5Z" fill="#4ec36b"/><path d="M258.0 241.9L260.8 241.9L259.4 239.5Z" fill="#27a882"/><path d="M256.5 220.8L259.3 220.8L257.9 218.3Z" fill="#27a882"/><path d="M257.6 224.8L260.4 224.8L259.0 222.3Z" fill="#4ec36b"/><path d="M257.6 227.0L260.4 227.0L259.0 224.5Z" fill="#1f968b"/><path d="M257.5 245.2L260.3 245.2L258.9 242.8Z" fill="#7fd34e"/><path d="M252.8 225.5L255.6 225.5L254.2 223.0Z" fill="#4ec36b"/><path d="M257.1 232.7L259.9 232.7L258.5 230.3Z" fill="#27a882"/><path d="M250.8 239.2L253.6 239.2L252.2 236.8Z" fill="#7fd34e"/><path d="M253.5 225.1L256.3 225.1L254.9 222.6Z" fill="#4ec36b"/><path d="M254.2 223.5L257.0 223.5L255.6 221.1Z" fill="#4ec36b"/><path d="M258.0 223.2L260.8 223.2L259.4 220.8Z" fill="#1f968b"/><path d="M253.0 231.2L255.8 231.2L254.4 228.7Z" fill="#9bd93c"/><path d="M253.8 226.3L256.6 226.3L255.2 223.9Z" fill="#7fd34e"/><path d="M258.0 235.7L260.8 235.7L259.4 233.2Z" fill="#9bd93c"/><path d="M256.7 220.7L259.5 220.7L258.1 218.3Z" fill="#7fd34e"/><path d="M248.5 230.7L251.3 230.7L249.9 228.3Z" fill="#4ec36b"/><path d="M255.8 221.2L258.6 221.2L257.2 218.8Z" fill="#1f968b"/><path d="M256.6 241.2L259.4 241.2L258.0 238.8Z" fill="#4ec36b"/><path d="M255.3 239.5L258.1 239.5L256.7 237.1Z" fill="#9bd93c"/><path d="M256.6 246.7L259.4 246.7L258.0 244.3Z" fill="#9bd93c"/><path d="M245.9 231.0L248.7 231.0L247.3 228.6Z" fill="#4ec36b"/><path d="M251.5 221.7L254.3 221.7L252.9 219.2Z" fill="#4ec36b"/><path d="M256.9 226.9L259.7 226.9L258.3 224.5Z" fill="#4ec36b"/><path d="M255.7 238.1L258.5 238.1L257.1 235.7Z" fill="#27a882"/><path d="M258.0 222.1L260.8 222.1L259.4 219.7Z" fill="#4ec36b"/><path d="M256.7 225.6L259.5 225.6L258.1 223.2Z" fill="#4ec36b"/><path d="M256.8 246.4L259.6 246.4L258.2 244.0Z" fill="#9bd93c"/><path d="M257.6 247.2L260.4 247.2L259.0 244.7Z" fill="#1f968b"/><path d="M257.9 221.1L260.7 221.1L259.3 218.7Z" fill="#7fd34e"/><path d="M251.6 237.0L254.4 237.0L253.0 234.5Z" fill="#7fd34e"/><path d="M253.9 234.9L256.7 234.9L255.3 232.4Z" fill="#1f968b"/><path d="M258.1 237.0L260.9 237.0L259.5 234.6Z" fill="#4ec36b"/><path d="M252.8 226.6L255.6 226.6L254.2 224.2Z" fill="#1f968b"/><path d="M255.7 228.0L258.5 228.0L257.1 225.5Z" fill="#1f968b"/><path d="M254.4 221.8L257.2 221.8L255.8 219.4Z" fill="#4ec36b"/><path d="M255.0 244.6L257.8 244.6L256.4 242.1Z" fill="#27a882"/><path d="M253.9 232.1L256.7 232.1L255.3 229.7Z" fill="#4ec36b"/><path d="M257.2 223.8L260.0 223.8L258.6 221.3Z" fill="#4ec36b"/><path d="M253.5 227.6L256.3 227.6L254.9 225.2Z" fill="#7fd34e"/><path d="M252.7 222.6L255.5 222.6L254.1 220.2Z" fill="#4ec36b"/><path d="M255.6 239.0L258.4 239.0L257.0 236.5Z" fill="#27a882"/><path d="M255.7 237.8L258.5 237.8L257.1 235.3Z" fill="#4ec36b"/><path d="M253.9 244.3L256.7 244.3L255.3 241.9Z" fill="#4ec36b"/><path d="M253.5 236.8L256.3 236.8L254.9 234.3Z" fill="#27a882"/><path d="M257.2 229.2L260.0 229.2L258.6 226.8Z" fill="#27a882"/><path d="M251.9 234.1L254.7 234.1L253.3 231.6Z" fill="#1f968b"/><path d="M255.9 245.2L258.7 245.2L257.3 242.7Z" fill="#27a882"/><path d="M257.8 243.5L260.6 243.5L259.2 241.1Z" fill="#4ec36b"/><path d="M252.2 227.5L255.0 227.5L253.6 225.1Z" fill="#27a882"/><path d="M257.7 228.2L260.5 228.2L259.1 225.8Z" fill="#1f968b"/><path d="M254.9 236.6L257.7 236.6L256.3 234.1Z" fill="#4ec36b"/><path d="M252.4 232.1L255.2 232.1L253.8 229.7Z" fill="#4ec36b"/><path d="M256.1 229.8L258.9 229.8L257.5 227.3Z" fill="#9bd93c"/><path d="M256.9 223.2L259.7 223.2L258.3 220.7Z" fill="#7fd34e"/><path d="M252.1 245.4L254.9 245.4L253.5 243.0Z" fill="#4ec36b"/><path d="M253.4 229.3L256.2 229.3L254.8 226.9Z" fill="#4ec36b"/><path d="M251.6 236.7L254.4 236.7L253.0 234.3Z" fill="#4ec36b"/><path d="M252.5 242.4L255.3 242.4L253.9 240.0Z" fill="#7fd34e"/><path d="M257.6 245.1L260.4 245.1L259.0 242.7Z" fill="#4ec36b"/><path d="M253.6 227.5L256.4 227.5L255.0 225.0Z" fill="#7fd34e"/><path d="M254.7 223.7L257.5 223.7L256.1 221.2Z" fill="#9bd93c"/><path d="M254.8 223.0L257.6 223.0L256.2 220.6Z" fill="#1f968b"/><path d="M253.8 233.7L256.6 233.7L255.2 231.2Z" fill="#4ec36b"/><path d="M256.4 224.3L259.2 224.3L257.8 221.8Z" fill="#4ec36b"/><path d="M254.5 236.6L257.3 236.6L255.9 234.2Z" fill="#4ec36b"/><path d="M257.2 243.2L260.0 243.2L258.6 240.8Z" fill="#4ec36b"/><path d="M254.4 228.1L257.2 228.1L255.8 225.7Z" fill="#4ec36b"/><path d="M250.7 234.4L253.5 234.4L252.1 232.0Z" fill="#1f968b"/><path d="M255.0 241.5L257.8 241.5L256.4 239.0Z" fill="#9bd93c"/><path d="M256.9 246.9L259.7 246.9L258.3 244.5Z" fill="#4ec36b"/><path d="M255.2 228.4L258.0 228.4L256.6 226.0Z" fill="#27a882"/><path d="M254.9 232.0L257.7 232.0L256.3 229.5Z" fill="#9bd93c"/><path d="M256.8 245.1L259.6 245.1L258.2 242.6Z" fill="#4ec36b"/><path d="M256.9 246.4L259.7 246.4L258.3 243.9Z" fill="#4ec36b"/><path d="M256.2 225.7L259.0 225.7L257.6 223.3Z" fill="#4ec36b"/><path d="M257.5 244.3L260.3 244.3L258.9 241.8Z" fill="#4ec36b"/><path d="M257.7 235.5L260.5 235.5L259.1 233.0Z" fill="#4ec36b"/><path d="M254.0 228.3L256.8 228.3L255.4 225.9Z" fill="#4ec36b"/><path d="M257.7 247.2L260.5 247.2L259.1 244.7Z" fill="#4ec36b"/><path d="M257.6 242.5L260.4 242.5L259.0 240.1Z" fill="#4ec36b"/><path d="M252.4 229.9L255.2 229.9L253.8 227.4Z" fill="#4ec36b"/><path d="M257.4 238.5L260.2 238.5L258.8 236.0Z" fill="#1f968b"/><path d="M257.8 234.4L260.6 234.4L259.2 232.0Z" fill="#1f968b"/><path d="M249.5 231.3L252.3 231.3L250.9 228.8Z" fill="#4ec36b"/><path d="M258.1 224.4L260.9 224.4L259.5 221.9Z" fill="#27a882"/><path d="M255.8 246.3L258.6 246.3L257.2 243.8Z" fill="#4ec36b"/><path d="M257.9 244.5L260.7 244.5L259.3 242.1Z" fill="#4ec36b"/><path d="M248.5 229.5L251.3 229.5L249.9 227.1Z" fill="#27a882"/><path d="M256.2 230.0L259.0 230.0L257.6 227.6Z" fill="#4ec36b"/><path d="M257.0 246.6L259.8 246.6L258.4 244.2Z" fill="#1f968b"/><path d="M252.8 237.9L255.6 237.9L254.2 235.5Z" fill="#4ec36b"/><path d="M252.0 238.8L254.8 238.8L253.4 236.4Z" fill="#4ec36b"/><path d="M243.8 237.3L246.6 237.3L245.2 234.8Z" fill="#4ec36b"/><path d="M252.4 228.0L255.2 228.0L253.8 225.6Z" fill="#27a882"/><path d="M257.6 231.3L260.4 231.3L259.0 228.9Z" fill="#1f968b"/><path d="M254.2 237.2L257.0 237.2L255.6 234.8Z" fill="#7fd34e"/><path d="M255.2 237.4L258.0 237.4L256.6 235.0Z" fill="#1f968b"/><path d="M257.8 238.9L260.6 238.9L259.2 236.5Z" fill="#7fd34e"/><path d="M258.1 238.9L260.9 238.9L259.5 236.4Z" fill="#1f968b"/><path d="M257.2 245.0L260.0 245.0L258.6 242.5Z" fill="#1f968b"/><path d="M256.8 238.3L259.6 238.3L258.2 235.8Z" fill="#27a882"/><path d="M257.5 224.9L260.3 224.9L258.9 222.5Z" fill="#9bd93c"/><path d="M251.6 237.7L254.4 237.7L253.0 235.2Z" fill="#4ec36b"/><path d="M255.5 234.1L258.3 234.1L256.9 231.7Z" fill="#4ec36b"/><path d="M256.4 223.5L259.2 223.5L257.8 221.1Z" fill="#27a882"/><path d="M256.6 234.2L259.4 234.2L258.0 231.8Z" fill="#1f968b"/><path d="M258.0 224.8L260.8 224.8L259.4 222.4Z" fill="#4ec36b"/><path d="M251.3 233.5L254.1 233.5L252.7 231.0Z" fill="#9bd93c"/><path d="M257.5 221.9L260.3 221.9L258.9 219.5Z" fill="#1f968b"/><path d="M255.8 238.7L258.6 238.7L257.2 236.3Z" fill="#27a882"/><path d="M256.7 229.8L259.5 229.8L258.1 227.3Z" fill="#27a882"/><path d="M254.8 221.1L257.6 221.1L256.2 218.7Z" fill="#4ec36b"/><path d="M254.2 221.9L257.0 221.9L255.6 219.5Z" fill="#27a882"/><path d="M256.5 232.4L259.3 232.4L257.9 229.9Z" fill="#4ec36b"/><path d="M256.8 235.9L259.6 235.9L258.2 233.5Z" fill="#1f968b"/><path d="M254.7 232.1L257.5 232.1L256.1 229.7Z" fill="#1f968b"/><path d="M256.2 224.5L259.0 224.5L257.6 222.1Z" fill="#4ec36b"/><path d="M255.4 243.3L258.2 243.3L256.8 240.9Z" fill="#9bd93c"/><path d="M245.6 232.5L248.4 232.5L247.0 230.1Z" fill="#4ec36b"/><path d="M251.9 236.5L254.7 236.5L253.3 234.1Z" fill="#1f968b"/><path d="M256.8 226.8L259.6 226.8L258.2 224.3Z" fill="#4ec36b"/><path d="M253.8 238.4L256.6 238.4L255.2 236.0Z" fill="#4ec36b"/><path d="M256.5 243.9L259.3 243.9L257.9 241.4Z" fill="#4ec36b"/><path d="M257.4 220.8L260.2 220.8L258.8 218.4Z" fill="#27a882"/><path d="M256.4 229.9L259.2 229.9L257.8 227.5Z" fill="#27a882"/><path d="M256.5 220.4L259.3 220.4L257.9 218.0Z" fill="#4ec36b"/><path d="M255.9 223.3L258.7 223.3L257.3 220.9Z" fill="#4ec36b"/><path d="M255.9 243.7L258.7 243.7L257.3 241.3Z" fill="#1f968b"/><path d="M250.6 231.6L253.4 231.6L252.0 229.2Z" fill="#4ec36b"/><path d="M253.0 235.2L255.8 235.2L254.4 232.7Z" fill="#4ec36b"/><path d="M254.9 226.6L257.7 226.6L256.3 224.2Z" fill="#1f968b"/><path d="M249.7 227.8L252.5 227.8L251.1 225.3Z" fill="#27a882"/><path d="M256.8 239.3L259.6 239.3L258.2 236.8Z" fill="#1f968b"/><path d="M251.4 225.5L254.2 225.5L252.8 223.1Z" fill="#4ec36b"/><path d="M255.0 232.2L257.8 232.2L256.4 229.8Z" fill="#9bd93c"/><path d="M257.9 241.7L260.7 241.7L259.3 239.2Z" fill="#27a882"/><path d="M253.9 239.7L256.7 239.7L255.3 237.3Z" fill="#4ec36b"/>
<rect x="237.8" y="217.6" width="22.6" height="30.5" fill="none" stroke="#f02020" stroke-width="2"/>
<text x="196.5" y="182.7" font-size="12.2" text-anchor="end" fill="#262626" >-0.1</text>
<text x="196.5" y="282.6" font-size="12.2" text-anchor="end" fill="#262626" >-0.6</text>
<text x="200.1" y="292.8" font-size="12.2" text-anchor="middle" fill="#262626" >-1.3</text>
<text x="298.6" y="292.8" font-size="12.2" text-anchor="middle" fill="#262626" >-0.8</text>
<text x="397.2" y="292.8" font-size="12.2" text-anchor="middle" fill="#262626" >-0.3</text>
<text x="294" y="316" font-size="14.5" text-anchor="middle" fill="#262626"><tspan font-style="italic">ν</tspan><tspan font-size="10.5" dy="3" font-style="italic">12</tspan><tspan dy="-3"> [-]</tspan></text>
<text transform="translate(181.8,231.8) rotate(-90)" font-size="14.5" text-anchor="middle" fill="#262626"><tspan font-size="15.5">ν</tspan><tspan font-size="10.5" dy="3">21</tspan><tspan dy="-3"> [-]</tspan></text>
<line x1="137" y1="176.5" x2="237" y2="217" stroke="#f02020" stroke-width="1.3" stroke-dasharray="7,5"/>
<line x1="137" y1="276.5" x2="237" y2="248.4" stroke="#f02020" stroke-width="1.3" stroke-dasharray="7,5"/>
<text x="427.5" y="11" font-size="17" font-weight="bold" font-family="Liberation Serif" fill="#000">b.</text>
<line x1="547.5" y1="36.6" x2="547.5" y2="191.5" stroke="#e3e3e3" stroke-width="0.8"/>
<line x1="596.6" y1="36.6" x2="596.6" y2="191.5" stroke="#e3e3e3" stroke-width="0.8"/>
<line x1="498.4" y1="88.2" x2="645.7" y2="88.2" stroke="#e3e3e3" stroke-width="0.8"/>
<line x1="498.4" y1="140.0" x2="645.7" y2="140.0" stroke="#e3e3e3" stroke-width="0.8"/>
<rect x="498.4" y="36.6" width="147.30000000000007" height="154.9" fill="none" stroke="#5a5a5a" stroke-width="1"/>
<circle cx="558.2" cy="40.6" r="2.3" fill="#9bd93c"/><circle cx="597.5" cy="62.3" r="2.3" fill="#9bd93c"/><circle cx="611.7" cy="61.6" r="2.3" fill="#9bd93c"/><circle cx="611.1" cy="71.7" r="2.3" fill="#9bd93c"/><circle cx="616.2" cy="69.4" r="2.3" fill="#9bd93c"/><circle cx="621.2" cy="70.9" r="2.3" fill="#9bd93c"/><circle cx="570.8" cy="78.7" r="2.3" fill="#9bd93c"/><circle cx="593.5" cy="77.5" r="2.3" fill="#9bd93c"/><circle cx="601.8" cy="80.5" r="2.3" fill="#4ec36b"/><circle cx="573.3" cy="84.5" r="2.3" fill="#9bd93c"/><circle cx="569.8" cy="87.3" r="2.3" fill="#9bd93c"/><circle cx="589.0" cy="84.3" r="2.3" fill="#7fd34e"/><circle cx="591.0" cy="85.5" r="2.3" fill="#4ec36b"/><circle cx="577.9" cy="90.6" r="2.3" fill="#9bd93c"/><circle cx="614.2" cy="85.8" r="2.3" fill="#7fd34e"/><circle cx="617.5" cy="89.3" r="2.3" fill="#9bd93c"/><circle cx="618.2" cy="94.4" r="2.3" fill="#9bd93c"/><circle cx="625.0" cy="81.0" r="2.3" fill="#27a882"/><circle cx="636.9" cy="89.1" r="2.3" fill="#9bd93c"/><circle cx="639.6" cy="81.5" r="2.3" fill="#9bd93c"/><circle cx="595.5" cy="93.1" r="2.3" fill="#4ec36b"/><circle cx="605.1" cy="89.6" r="2.3" fill="#7fd34e"/><circle cx="611.1" cy="93.6" r="2.3" fill="#4ec36b"/><circle cx="632.8" cy="104.7" r="2.3" fill="#9bd93c"/><circle cx="562.0" cy="102.7" r="2.3" fill="#9bd93c"/><circle cx="570.8" cy="107.0" r="2.3" fill="#9bd93c"/><circle cx="568.3" cy="110.8" r="2.3" fill="#4ec36b"/><circle cx="580.9" cy="105.2" r="2.3" fill="#4ec36b"/><circle cx="586.4" cy="103.7" r="2.3" fill="#4ec36b"/><circle cx="591.0" cy="98.9" r="2.3" fill="#9bd93c"/><circle cx="593.0" cy="100.2" r="2.3" fill="#7fd34e"/><circle cx="594.8" cy="103.7" r="2.3" fill="#1f968b"/><circle cx="630.8" cy="112.8" r="2.3" fill="#4ec36b"/><circle cx="635.1" cy="120.3" r="2.3" fill="#4ec36b"/><circle cx="580.9" cy="112.8" r="2.3" fill="#9bd93c"/><circle cx="577.4" cy="120.1" r="2.3" fill="#4ec36b"/><circle cx="583.4" cy="117.1" r="2.3" fill="#4ec36b"/><circle cx="587.2" cy="115.8" r="2.3" fill="#4ec36b"/><circle cx="569.8" cy="137.2" r="2.3" fill="#4ec36b"/><circle cx="580.4" cy="135.2" r="2.3" fill="#4ec36b"/><circle cx="578.4" cy="149.3" r="2.3" fill="#4ec36b"/><circle cx="584.7" cy="147.8" r="2.3" fill="#27a882"/><circle cx="591.0" cy="148.6" r="2.3" fill="#27a882"/><circle cx="592.2" cy="156.1" r="2.3" fill="#27a882"/><circle cx="597.3" cy="161.2" r="2.3" fill="#27a882"/><circle cx="596.0" cy="167.5" r="2.3" fill="#27a882"/><circle cx="609.1" cy="159.4" r="2.3" fill="#27a882"/><circle cx="614.9" cy="148.6" r="2.3" fill="#4ec36b"/><circle cx="620.2" cy="138.0" r="2.3" fill="#4ec36b"/><circle cx="621.2" cy="127.1" r="2.3" fill="#4ec36b"/><circle cx="627.5" cy="124.1" r="2.3" fill="#4ec36b"/><circle cx="622.0" cy="125.9" r="2.3" fill="#4ec36b"/><circle cx="616.2" cy="108.2" r="2.3" fill="#4ec36b"/><circle cx="613.7" cy="100.7" r="2.3" fill="#7fd34e"/><circle cx="606.1" cy="98.1" r="2.3" fill="#4ec36b"/><circle cx="598.5" cy="96.9" r="2.3" fill="#4ec36b"/><circle cx="599.9" cy="116.4" r="2.3" fill="#4ec36b"/><circle cx="612.2" cy="124.2" r="2.3" fill="#4ec36b"/><circle cx="611.1" cy="113.6" r="2.3" fill="#7fd34e"/><circle cx="613.5" cy="128.7" r="2.3" fill="#4ec36b"/><circle cx="600.4" cy="122.3" r="2.3" fill="#4ec36b"/><circle cx="599.4" cy="137.8" r="2.3" fill="#27a882"/><circle cx="607.5" cy="124.1" r="2.3" fill="#4ec36b"/><circle cx="615.3" cy="142.8" r="2.3" fill="#27a882"/><circle cx="614.8" cy="132.7" r="2.3" fill="#4ec36b"/><circle cx="603.1" cy="141.0" r="2.3" fill="#4ec36b"/><circle cx="601.8" cy="107.6" r="2.3" fill="#4ec36b"/><circle cx="601.5" cy="146.4" r="2.3" fill="#27a882"/><circle cx="617.5" cy="141.0" r="2.3" fill="#4ec36b"/><circle cx="605.6" cy="120.3" r="2.3" fill="#7fd34e"/><circle cx="603.7" cy="137.6" r="2.3" fill="#27a882"/><circle cx="607.8" cy="116.8" r="2.3" fill="#4ec36b"/><circle cx="594.5" cy="145.3" r="2.3" fill="#27a882"/><circle cx="608.8" cy="125.7" r="2.3" fill="#4ec36b"/><circle cx="601.5" cy="111.4" r="2.3" fill="#4ec36b"/><circle cx="606.4" cy="127.1" r="2.3" fill="#7fd34e"/><circle cx="603.9" cy="119.5" r="2.3" fill="#27a882"/><circle cx="594.7" cy="145.6" r="2.3" fill="#4ec36b"/><circle cx="606.6" cy="134.8" r="2.3" fill="#4ec36b"/><circle cx="604.4" cy="108.3" r="2.3" fill="#4ec36b"/><circle cx="598.5" cy="139.0" r="2.3" fill="#27a882"/><circle cx="607.0" cy="139.5" r="2.3" fill="#27a882"/><circle cx="604.8" cy="112.3" r="2.3" fill="#7fd34e"/><circle cx="602.9" cy="122.6" r="2.3" fill="#27a882"/><circle cx="606.3" cy="144.2" r="2.3" fill="#4ec36b"/><circle cx="605.2" cy="142.9" r="2.3" fill="#4ec36b"/><circle cx="605.2" cy="129.4" r="2.3" fill="#27a882"/><circle cx="606.1" cy="109.8" r="2.3" fill="#4ec36b"/><circle cx="611.0" cy="116.6" r="2.3" fill="#7fd34e"/><circle cx="609.7" cy="131.8" r="2.3" fill="#4ec36b"/><circle cx="610.5" cy="131.6" r="2.3" fill="#27a882"/><circle cx="614.0" cy="117.7" r="2.3" fill="#4ec36b"/><circle cx="596.7" cy="139.7" r="2.3" fill="#4ec36b"/><circle cx="607.7" cy="119.5" r="2.3" fill="#4ec36b"/><circle cx="596.7" cy="155.0" r="2.3" fill="#1f968b"/><circle cx="613.8" cy="120.4" r="2.3" fill="#7fd34e"/><circle cx="601.0" cy="105.7" r="2.3" fill="#7fd34e"/><circle cx="603.4" cy="130.2" r="2.3" fill="#7fd34e"/><circle cx="607.8" cy="147.8" r="2.3" fill="#27a882"/><circle cx="601.4" cy="129.5" r="2.3" fill="#7fd34e"/><circle cx="608.9" cy="114.0" r="2.3" fill="#4ec36b"/><circle cx="590.0" cy="119.0" r="2.3" fill="#7fd34e"/><circle cx="605.8" cy="139.1" r="2.3" fill="#4ec36b"/><circle cx="608.1" cy="139.5" r="2.3" fill="#4ec36b"/><circle cx="606.9" cy="139.7" r="2.3" fill="#27a882"/><circle cx="602.6" cy="115.0" r="2.3" fill="#4ec36b"/><circle cx="605.7" cy="138.6" r="2.3" fill="#4ec36b"/><circle cx="604.2" cy="122.4" r="2.3" fill="#7fd34e"/><circle cx="602.3" cy="137.8" r="2.3" fill="#27a882"/><circle cx="601.5" cy="123.8" r="2.3" fill="#7fd34e"/><circle cx="608.4" cy="113.8" r="2.3" fill="#27a882"/><circle cx="613.8" cy="121.8" r="2.3" fill="#4ec36b"/><circle cx="599.9" cy="120.4" r="2.3" fill="#27a882"/><circle cx="601.9" cy="133.9" r="2.3" fill="#7fd34e"/><circle cx="603.9" cy="140.9" r="2.3" fill="#27a882"/><circle cx="617.7" cy="136.4" r="2.3" fill="#4ec36b"/><circle cx="608.4" cy="148.2" r="2.3" fill="#1f968b"/><circle cx="608.8" cy="127.1" r="2.3" fill="#4ec36b"/><circle cx="599.7" cy="131.3" r="2.3" fill="#4ec36b"/><circle cx="603.6" cy="127.5" r="2.3" fill="#4ec36b"/><circle cx="615.4" cy="127.8" r="2.3" fill="#4ec36b"/><circle cx="605.3" cy="117.1" r="2.3" fill="#7fd34e"/><circle cx="602.7" cy="126.5" r="2.3" fill="#4ec36b"/><circle cx="612.1" cy="124.8" r="2.3" fill="#27a882"/><circle cx="604.6" cy="128.5" r="2.3" fill="#4ec36b"/><circle cx="600.1" cy="114.4" r="2.3" fill="#7fd34e"/><circle cx="602.7" cy="120.7" r="2.3" fill="#4ec36b"/><circle cx="614.2" cy="139.2" r="2.3" fill="#4ec36b"/><circle cx="607.1" cy="104.1" r="2.3" fill="#4ec36b"/><circle cx="594.9" cy="153.7" r="2.3" fill="#4ec36b"/><circle cx="613.2" cy="104.2" r="2.3" fill="#4ec36b"/><circle cx="613.1" cy="141.4" r="2.3" fill="#4ec36b"/><circle cx="605.1" cy="117.3" r="2.3" fill="#4ec36b"/><circle cx="601.9" cy="119.1" r="2.3" fill="#4ec36b"/><circle cx="600.2" cy="141.1" r="2.3" fill="#4ec36b"/><circle cx="607.8" cy="120.4" r="2.3" fill="#4ec36b"/><circle cx="612.9" cy="133.3" r="2.3" fill="#7fd34e"/><circle cx="628.0" cy="102.3" r="2.3" fill="#4ec36b"/><circle cx="617.4" cy="111.2" r="2.3" fill="#4ec36b"/><circle cx="596.7" cy="138.8" r="2.3" fill="#4ec36b"/><circle cx="598.6" cy="117.8" r="2.3" fill="#4ec36b"/><circle cx="604.0" cy="121.7" r="2.3" fill="#4ec36b"/><circle cx="601.3" cy="118.8" r="2.3" fill="#4ec36b"/><circle cx="609.4" cy="116.8" r="2.3" fill="#4ec36b"/><circle cx="605.3" cy="127.9" r="2.3" fill="#27a882"/><circle cx="596.5" cy="113.0" r="2.3" fill="#4ec36b"/><circle cx="600.9" cy="133.7" r="2.3" fill="#7fd34e"/><circle cx="614.3" cy="135.9" r="2.3" fill="#4ec36b"/><circle cx="606.1" cy="129.6" r="2.3" fill="#27a882"/><circle cx="609.7" cy="147.8" r="2.3" fill="#1f968b"/><circle cx="603.5" cy="142.5" r="2.3" fill="#4ec36b"/><circle cx="601.8" cy="113.8" r="2.3" fill="#4ec36b"/><circle cx="610.0" cy="134.8" r="2.3" fill="#4ec36b"/><circle cx="598.6" cy="136.0" r="2.3" fill="#7fd34e"/><circle cx="616.2" cy="102.3" r="2.3" fill="#4ec36b"/><circle cx="597.3" cy="112.5" r="2.3" fill="#4ec36b"/><circle cx="604.4" cy="117.3" r="2.3" fill="#7fd34e"/><circle cx="603.1" cy="145.2" r="2.3" fill="#4ec36b"/><circle cx="596.7" cy="131.2" r="2.3" fill="#4ec36b"/><circle cx="610.3" cy="116.8" r="2.3" fill="#7fd34e"/><circle cx="609.2" cy="130.4" r="2.3" fill="#7fd34e"/><circle cx="604.7" cy="108.8" r="2.3" fill="#4ec36b"/><circle cx="602.2" cy="118.2" r="2.3" fill="#4ec36b"/><circle cx="610.7" cy="124.6" r="2.3" fill="#4ec36b"/><circle cx="599.8" cy="123.7" r="2.3" fill="#4ec36b"/><circle cx="607.6" cy="163.1" r="2.3" fill="#27a882"/><circle cx="602.5" cy="127.0" r="2.3" fill="#27a882"/><circle cx="609.9" cy="112.7" r="2.3" fill="#4ec36b"/><circle cx="600.8" cy="127.0" r="2.3" fill="#4ec36b"/><circle cx="606.3" cy="143.3" r="2.3" fill="#4ec36b"/><circle cx="602.7" cy="126.1" r="2.3" fill="#4ec36b"/><circle cx="611.9" cy="119.8" r="2.3" fill="#27a882"/><circle cx="603.4" cy="131.7" r="2.3" fill="#4ec36b"/><circle cx="610.1" cy="140.5" r="2.3" fill="#4ec36b"/><circle cx="603.1" cy="107.4" r="2.3" fill="#4ec36b"/><circle cx="594.6" cy="105.1" r="2.3" fill="#4ec36b"/><circle cx="614.5" cy="143.7" r="2.3" fill="#27a882"/><circle cx="590.1" cy="119.5" r="2.3" fill="#4ec36b"/><circle cx="595.7" cy="120.2" r="2.3" fill="#4ec36b"/><circle cx="599.5" cy="141.9" r="2.3" fill="#27a882"/><circle cx="605.8" cy="141.5" r="2.3" fill="#4ec36b"/><circle cx="600.9" cy="97.7" r="2.3" fill="#4ec36b"/><circle cx="602.4" cy="148.5" r="2.3" fill="#1f968b"/><circle cx="607.5" cy="125.9" r="2.3" fill="#27a882"/><circle cx="606.2" cy="135.1" r="2.3" fill="#7fd34e"/><circle cx="607.9" cy="123.1" r="2.3" fill="#7fd34e"/><circle cx="611.3" cy="109.0" r="2.3" fill="#7fd34e"/><circle cx="600.6" cy="106.7" r="2.3" fill="#4ec36b"/><circle cx="605.8" cy="144.6" r="2.3" fill="#4ec36b"/><circle cx="614.5" cy="122.2" r="2.3" fill="#4ec36b"/><circle cx="607.6" cy="117.7" r="2.3" fill="#4ec36b"/><circle cx="594.9" cy="121.8" r="2.3" fill="#4ec36b"/><circle cx="618.3" cy="135.0" r="2.3" fill="#4ec36b"/><circle cx="605.2" cy="137.5" r="2.3" fill="#27a882"/><circle cx="623.3" cy="134.1" r="2.3" fill="#4ec36b"/><circle cx="606.3" cy="130.7" r="2.3" fill="#4ec36b"/><circle cx="609.5" cy="133.4" r="2.3" fill="#4ec36b"/><circle cx="600.6" cy="125.3" r="2.3" fill="#7fd34e"/><circle cx="599.8" cy="107.1" r="2.3" fill="#4ec36b"/><circle cx="610.7" cy="117.4" r="2.3" fill="#7fd34e"/><circle cx="605.7" cy="118.6" r="2.3" fill="#4ec36b"/><circle cx="610.9" cy="129.9" r="2.3" fill="#4ec36b"/><circle cx="598.4" cy="130.1" r="2.3" fill="#4ec36b"/><circle cx="605.9" cy="125.6" r="2.3" fill="#4ec36b"/><circle cx="599.0" cy="116.0" r="2.3" fill="#4ec36b"/><circle cx="600.0" cy="138.2" r="2.3" fill="#27a882"/><circle cx="603.0" cy="115.5" r="2.3" fill="#4ec36b"/><circle cx="611.2" cy="116.0" r="2.3" fill="#4ec36b"/><circle cx="600.6" cy="141.2" r="2.3" fill="#4ec36b"/><circle cx="611.7" cy="118.1" r="2.3" fill="#4ec36b"/><circle cx="608.0" cy="152.5" r="2.3" fill="#1f968b"/><circle cx="602.0" cy="141.8" r="2.3" fill="#4ec36b"/><circle cx="603.2" cy="139.8" r="2.3" fill="#27a882"/><circle cx="604.7" cy="131.2" r="2.3" fill="#4ec36b"/><circle cx="611.3" cy="116.3" r="2.3" fill="#7fd34e"/><circle cx="610.8" cy="144.4" r="2.3" fill="#4ec36b"/><circle cx="603.7" cy="132.1" r="2.3" fill="#4ec36b"/><circle cx="600.4" cy="142.3" r="2.3" fill="#4ec36b"/><circle cx="623.5" cy="118.0" r="2.3" fill="#4ec36b"/><circle cx="616.6" cy="114.5" r="2.3" fill="#4ec36b"/><circle cx="612.6" cy="112.6" r="2.3" fill="#7fd34e"/><circle cx="602.9" cy="126.3" r="2.3" fill="#27a882"/><circle cx="603.2" cy="151.8" r="2.3" fill="#27a882"/><circle cx="603.2" cy="118.8" r="2.3" fill="#27a882"/><circle cx="602.2" cy="139.4" r="2.3" fill="#27a882"/><circle cx="600.8" cy="142.3" r="2.3" fill="#27a882"/><circle cx="600.6" cy="146.6" r="2.3" fill="#27a882"/><circle cx="613.2" cy="113.6" r="2.3" fill="#4ec36b"/><circle cx="602.3" cy="136.2" r="2.3" fill="#27a882"/><circle cx="608.8" cy="128.8" r="2.3" fill="#4ec36b"/><circle cx="617.6" cy="130.1" r="2.3" fill="#4ec36b"/><circle cx="600.3" cy="136.3" r="2.3" fill="#4ec36b"/><circle cx="612.6" cy="121.4" r="2.3" fill="#4ec36b"/><circle cx="603.7" cy="139.6" r="2.3" fill="#4ec36b"/><circle cx="591.8" cy="119.1" r="2.3" fill="#4ec36b"/><circle cx="608.9" cy="132.7" r="2.3" fill="#4ec36b"/><circle cx="600.9" cy="123.2" r="2.3" fill="#4ec36b"/><circle cx="611.0" cy="127.9" r="2.3" fill="#27a882"/><circle cx="601.8" cy="109.4" r="2.3" fill="#4ec36b"/><circle cx="608.2" cy="119.1" r="2.3" fill="#4ec36b"/><circle cx="604.6" cy="138.9" r="2.3" fill="#4ec36b"/><circle cx="605.8" cy="110.5" r="2.3" fill="#4ec36b"/><circle cx="604.1" cy="120.1" r="2.3" fill="#4ec36b"/><circle cx="593.2" cy="137.8" r="2.3" fill="#4ec36b"/><circle cx="611.1" cy="114.6" r="2.3" fill="#4ec36b"/><circle cx="605.5" cy="133.4" r="2.3" fill="#4ec36b"/><circle cx="603.4" cy="125.7" r="2.3" fill="#27a882"/><circle cx="608.6" cy="113.2" r="2.3" fill="#7fd34e"/><circle cx="607.9" cy="135.3" r="2.3" fill="#4ec36b"/><circle cx="604.7" cy="127.1" r="2.3" fill="#4ec36b"/><circle cx="609.0" cy="124.7" r="2.3" fill="#4ec36b"/><circle cx="606.3" cy="126.6" r="2.3" fill="#4ec36b"/><circle cx="597.8" cy="140.0" r="2.3" fill="#4ec36b"/><circle cx="610.9" cy="152.2" r="2.3" fill="#27a882"/><circle cx="612.5" cy="138.3" r="2.3" fill="#27a882"/><circle cx="611.4" cy="127.9" r="2.3" fill="#4ec36b"/>
<circle cx="627.8" cy="85.0" r="3.6" fill="#4ec36b" stroke="#f02a2a" stroke-width="1.3"/>
<circle cx="562.2" cy="134.7" r="3.6" fill="#4ec36b" stroke="#f02a2a" stroke-width="1.3"/>
<text x="567.3" y="129.0" font-size="14.5" text-anchor="middle" fill="#111" >1</text>
<text x="632.8" y="77.5" font-size="14.5" text-anchor="middle" fill="#111" >2</text>
<text x="495.2" y="41.9" font-size="12.5" text-anchor="end" fill="#262626" >1.2</text>
<text x="495.2" y="92.6" font-size="12.5" text-anchor="end" fill="#262626" >0.8</text>
<text x="495.2" y="144.4" font-size="12.5" text-anchor="end" fill="#262626" >0.4</text>
<text x="495.2" y="195.9" font-size="12.5" text-anchor="end" fill="#262626" >0</text>
<text x="498.4" y="206.5" font-size="12.5" text-anchor="middle" fill="#262626" >0</text>
<text x="547.5" y="206.5" font-size="12.5" text-anchor="middle" fill="#262626" >1</text>
<text x="596.6" y="206.5" font-size="12.5" text-anchor="middle" fill="#262626" >2</text>
<text x="645.7" y="206.5" font-size="12.5" text-anchor="middle" fill="#262626" >3</text>
<text x="487.4" y="225" font-size="14.5" fill="#262626"><tspan font-style="italic">(S</tspan><tspan font-size="10" font-style="italic" dy="3.4">Mises</tspan><tspan font-size="10" font-style="italic">,</tspan><tspan font-size="9" dx="5">@</tspan><tspan font-size="9" font-style="italic">ε</tspan><tspan font-size="7" dy="2" font-style="italic">11</tspan><tspan font-size="9" dy="-2" font-style="italic"> = 3%</tspan><tspan dy="-3.4" font-style="italic"> )</tspan><tspan font-size="10" font-style="italic" dy="3.4">Max</tspan><tspan dy="-3.4"> [MPa]</tspan></text>
<text transform="translate(460.6,198.1) rotate(-90)" font-size="14.5" fill="#262626"><tspan font-style="italic">(S</tspan><tspan font-size="10" font-style="italic" dy="3.4">Mises</tspan><tspan font-size="10" font-style="italic">,</tspan><tspan font-size="9" dx="5">@</tspan><tspan font-size="9" font-style="italic">ε</tspan><tspan font-size="7" dy="2" font-style="italic">22</tspan><tspan font-size="9" dy="-2" font-style="italic"> = 3%</tspan><tspan dy="-3.4" font-style="italic"> )</tspan><tspan font-size="10" font-style="italic" dy="3.4">Max</tspan><tspan dy="-3.4"> [MPa]</tspan></text>
<line x1="452.5" y1="296.7" x2="452.5" y2="270" stroke="#444" stroke-width="1"/>
<path d="M452.5 264.3 L450 270.8 L455 270.8Z" fill="#111"/>
<line x1="452.5" y1="296.7" x2="478.5" y2="296.7" stroke="#444" stroke-width="1"/>
<path d="M483.8 296.7 L477.8 294.4 L477.8 299Z" fill="#111"/>
<text x="452.5" y="261.6" font-size="11.5" text-anchor="middle" fill="#111" >2</text>
<text x="490.3" y="300.6" font-size="11.5" text-anchor="middle" fill="#111" >1</text>
<rect x="523.3" y="255.2" width="127.3" height="43.1" fill="#fff" stroke="#111" stroke-width="1.4"/>
<rect x="571.2" y="259.8" width="15.699999999999932" height="16.2" fill="#21908d"/>
<rect x="588.6" y="259.8" width="15.5" height="16.2" fill="#26a983"/>
<rect x="605.7" y="259.8" width="15.799999999999955" height="16.2" fill="#4ac06c"/>
<rect x="622.9" y="259.8" width="16.0" height="16.2" fill="#8cd546"/>
<text x="531" y="290.3" font-size="12" fill="#262626"><tspan font-style="italic">ρ</tspan><tspan font-size="9" font-style="italic" dy="2">h</tspan><tspan dy="-2"> [%]</tspan></text>
<text x="579.0" y="290.3" font-size="12.5" text-anchor="middle" fill="#262626" >50</text>
<text x="596.4" y="290.3" font-size="12.5" text-anchor="middle" fill="#262626" >60</text>
<text x="613.6" y="290.3" font-size="12.5" text-anchor="middle" fill="#262626" >70</text>
<text x="630.9" y="290.3" font-size="12.5" text-anchor="middle" fill="#262626" >80</text>
<text x="0" y="343.2" font-size="15.5" font-weight="bold" fill="#000">c.</text>
<rect x="35" y="380.7" width="127" height="125.5" fill="#000"/>
<g stroke-width="1.7" stroke-linecap="round"><line x1="42.50" y1="384.60" x2="53.72" y2="390.80" stroke="#c92ec6"/><line x1="53.72" y1="390.80" x2="64.94" y2="384.60" stroke="#c92ec6"/><line x1="64.94" y1="384.60" x2="76.16" y2="390.80" stroke="#c92ec6"/><line x1="76.16" y1="390.80" x2="87.38" y2="384.60" stroke="#c92ec6"/><line x1="87.38" y1="384.60" x2="98.60" y2="390.80" stroke="#dedec6"/><line x1="98.60" y1="390.80" x2="109.82" y2="384.60" stroke="#c92ec6"/><line x1="109.82" y1="384.60" x2="121.04" y2="390.80" stroke="#c92ec6"/><line x1="121.04" y1="390.80" x2="132.26" y2="384.60" stroke="#c92ec6"/><line x1="132.26" y1="384.60" x2="143.48" y2="390.80" stroke="#c92ec6"/><line x1="143.48" y1="390.80" x2="154.70" y2="384.60" stroke="#dedec6"/><line x1="42.50" y1="403.20" x2="53.72" y2="397.00" stroke="#c92ec6"/><line x1="53.72" y1="397.00" x2="64.94" y2="403.20" stroke="#dedec6"/><line x1="64.94" y1="403.20" x2="76.16" y2="397.00" stroke="#c92ec6"/><line x1="76.16" y1="397.00" x2="87.38" y2="403.20" stroke="#c92ec6"/><line x1="87.38" y1="403.20" x2="98.60" y2="397.00" stroke="#c92ec6"/><line x1="98.60" y1="397.00" x2="109.82" y2="403.20" stroke="#dedec6"/><line x1="109.82" y1="403.20" x2="121.04" y2="397.00" stroke="#dedec6"/><line x1="121.04" y1="397.00" x2="132.26" y2="403.20" stroke="#c92ec6"/><line x1="132.26" y1="403.20" x2="143.48" y2="397.00" stroke="#c92ec6"/><line x1="143.48" y1="397.00" x2="154.70" y2="403.20" stroke="#dedec6"/><line x1="42.50" y1="409.40" x2="53.72" y2="415.60" stroke="#dedec6"/><line x1="53.72" y1="415.60" x2="64.94" y2="409.40" stroke="#dedec6"/><line x1="64.94" y1="409.40" x2="76.16" y2="415.60" stroke="#c92ec6"/><line x1="76.16" y1="415.60" x2="87.38" y2="409.40" stroke="#dedec6"/><line x1="87.38" y1="409.40" x2="98.60" y2="415.60" stroke="#c92ec6"/><line x1="98.60" y1="415.60" x2="109.82" y2="409.40" stroke="#c92ec6"/><line x1="109.82" y1="409.40" x2="121.04" y2="415.60" stroke="#c92ec6"/><line x1="121.04" y1="415.60" x2="132.26" y2="409.40" stroke="#dedec6"/><line x1="132.26" y1="409.40" x2="143.48" y2="415.60" stroke="#c92ec6"/><line x1="143.48" y1="415.60" x2="154.70" y2="409.40" stroke="#dedec6"/><line x1="42.50" y1="428.00" x2="53.72" y2="421.80" stroke="#c92ec6"/><line x1="53.72" y1="421.80" x2="64.94" y2="428.00" stroke="#dedec6"/><line x1="64.94" y1="428.00" x2="76.16" y2="421.80" stroke="#c92ec6"/><line x1="76.16" y1="421.80" x2="87.38" y2="428.00" stroke="#c92ec6"/><line x1="87.38" y1="428.00" x2="98.60" y2="421.80" stroke="#c92ec6"/><line x1="98.60" y1="421.80" x2="109.82" y2="428.00" stroke="#dedec6"/><line x1="109.82" y1="428.00" x2="121.04" y2="421.80" stroke="#c92ec6"/><line x1="121.04" y1="421.80" x2="132.26" y2="428.00" stroke="#dedec6"/><line x1="132.26" y1="428.00" x2="143.48" y2="421.80" stroke="#dedec6"/><line x1="143.48" y1="421.80" x2="154.70" y2="428.00" stroke="#c92ec6"/><line x1="42.50" y1="434.20" x2="53.72" y2="440.40" stroke="#c92ec6"/><line x1="53.72" y1="440.40" x2="64.94" y2="434.20" stroke="#c92ec6"/><line x1="64.94" y1="434.20" x2="76.16" y2="440.40" stroke="#dedec6"/><line x1="76.16" y1="440.40" x2="87.38" y2="434.20" stroke="#c92ec6"/><line x1="87.38" y1="434.20" x2="98.60" y2="440.40" stroke="#c92ec6"/><line x1="98.60" y1="440.40" x2="109.82" y2="434.20" stroke="#c92ec6"/><line x1="109.82" y1="434.20" x2="121.04" y2="440.40" stroke="#c92ec6"/><line x1="121.04" y1="440.40" x2="132.26" y2="434.20" stroke="#dedec6"/><line x1="132.26" y1="434.20" x2="143.48" y2="440.40" stroke="#c92ec6"/><line x1="143.48" y1="440.40" x2="154.70" y2="434.20" stroke="#c92ec6"/><line x1="42.50" y1="452.80" x2="53.72" y2="446.60" stroke="#c92ec6"/><line x1="53.72" y1="446.60" x2="64.94" y2="452.80" stroke="#c92ec6"/><line x1="64.94" y1="452.80" x2="76.16" y2="446.60" stroke="#c92ec6"/><line x1="76.16" y1="446.60" x2="87.38" y2="452.80" stroke="#c92ec6"/><line x1="87.38" y1="452.80" x2="98.60" y2="446.60" stroke="#c92ec6"/><line x1="98.60" y1="446.60" x2="109.82" y2="452.80" stroke="#c92ec6"/><line x1="109.82" y1="452.80" x2="121.04" y2="446.60" stroke="#c92ec6"/><line x1="121.04" y1="446.60" x2="132.26" y2="452.80" stroke="#c92ec6"/><line x1="132.26" y1="452.80" x2="143.48" y2="446.60" stroke="#c92ec6"/><line x1="143.48" y1="446.60" x2="154.70" y2="452.80" stroke="#c92ec6"/><line x1="42.50" y1="459.00" x2="53.72" y2="465.20" stroke="#c92ec6"/><line x1="53.72" y1="465.20" x2="64.94" y2="459.00" stroke="#c92ec6"/><line x1="64.94" y1="459.00" x2="76.16" y2="465.20" stroke="#dedec6"/><line x1="76.16" y1="465.20" x2="87.38" y2="459.00" stroke="#dedec6"/><line x1="87.38" y1="459.00" x2="98.60" y2="465.20" stroke="#c92ec6"/><line x1="98.60" y1="465.20" x2="109.82" y2="459.00" stroke="#dedec6"/><line x1="109.82" y1="459.00" x2="121.04" y2="465.20" stroke="#dedec6"/><line x1="121.04" y1="465.20" x2="132.26" y2="459.00" stroke="#c92ec6"/><line x1="132.26" y1="459.00" x2="143.48" y2="465.20" stroke="#c92ec6"/><line x1="143.48" y1="465.20" x2="154.70" y2="459.00" stroke="#c92ec6"/><line x1="42.50" y1="477.60" x2="53.72" y2="471.40" stroke="#c92ec6"/><line x1="53.72" y1="471.40" x2="64.94" y2="477.60" stroke="#c92ec6"/><line x1="64.94" y1="477.60" x2="76.16" y2="471.40" stroke="#dedec6"/><line x1="76.16" y1="471.40" x2="87.38" y2="477.60" stroke="#c92ec6"/><line x1="87.38" y1="477.60" x2="98.60" y2="471.40" stroke="#c92ec6"/><line x1="98.60" y1="471.40" x2="109.82" y2="477.60" stroke="#c92ec6"/><line x1="109.82" y1="477.60" x2="121.04" y2="471.40" stroke="#dedec6"/><line x1="121.04" y1="471.40" x2="132.26" y2="477.60" stroke="#c92ec6"/><line x1="132.26" y1="477.60" x2="143.48" y2="471.40" stroke="#c92ec6"/><line x1="143.48" y1="471.40" x2="154.70" y2="477.60" stroke="#c92ec6"/><line x1="42.50" y1="483.80" x2="53.72" y2="490.00" stroke="#c92ec6"/><line x1="53.72" y1="490.00" x2="64.94" y2="483.80" stroke="#dedec6"/><line x1="64.94" y1="483.80" x2="76.16" y2="490.00" stroke="#c92ec6"/><line x1="76.16" y1="490.00" x2="87.38" y2="483.80" stroke="#c92ec6"/><line x1="87.38" y1="483.80" x2="98.60" y2="490.00" stroke="#c92ec6"/><line x1="98.60" y1="490.00" x2="109.82" y2="483.80" stroke="#c92ec6"/><line x1="109.82" y1="483.80" x2="121.04" y2="490.00" stroke="#c92ec6"/><line x1="121.04" y1="490.00" x2="132.26" y2="483.80" stroke="#c92ec6"/><line x1="132.26" y1="483.80" x2="143.48" y2="490.00" stroke="#c92ec6"/><line x1="143.48" y1="490.00" x2="154.70" y2="483.80" stroke="#c92ec6"/><line x1="42.50" y1="502.40" x2="53.72" y2="496.20" stroke="#dedec6"/><line x1="53.72" y1="496.20" x2="64.94" y2="502.40" stroke="#c92ec6"/><line x1="64.94" y1="502.40" x2="76.16" y2="496.20" stroke="#c92ec6"/><line x1="76.16" y1="496.20" x2="87.38" y2="502.40" stroke="#c92ec6"/><line x1="87.38" y1="502.40" x2="98.60" y2="496.20" stroke="#c92ec6"/><line x1="98.60" y1="496.20" x2="109.82" y2="502.40" stroke="#dedec6"/><line x1="109.82" y1="502.40" x2="121.04" y2="496.20" stroke="#c92ec6"/><line x1="121.04" y1="496.20" x2="132.26" y2="502.40" stroke="#dedec6"/><line x1="132.26" y1="502.40" x2="143.48" y2="496.20" stroke="#dedec6"/><line x1="143.48" y1="496.20" x2="154.70" y2="502.40" stroke="#c92ec6"/><line x1="42.50" y1="384.60" x2="42.50" y2="403.20" stroke="#dedec6"/><line x1="64.94" y1="384.60" x2="64.94" y2="403.20" stroke="#c92ec6"/><line x1="87.38" y1="384.60" x2="87.38" y2="403.20" stroke="#dedec6"/><line x1="109.82" y1="384.60" x2="109.82" y2="403.20" stroke="#c92ec6"/><line x1="132.26" y1="384.60" x2="132.26" y2="403.20" stroke="#dedec6"/><line x1="154.70" y1="384.60" x2="154.70" y2="403.20" stroke="#c92ec6"/><line x1="53.72" y1="397.00" x2="53.72" y2="415.60" stroke="#c92ec6"/><line x1="76.16" y1="397.00" x2="76.16" y2="415.60" stroke="#c92ec6"/><line x1="98.60" y1="397.00" x2="98.60" y2="415.60" stroke="#c92ec6"/><line x1="121.04" y1="397.00" x2="121.04" y2="415.60" stroke="#dedec6"/><line x1="143.48" y1="397.00" x2="143.48" y2="415.60" stroke="#dedec6"/><line x1="42.50" y1="409.40" x2="42.50" y2="428.00" stroke="#dedec6"/><line x1="64.94" y1="409.40" x2="64.94" y2="428.00" stroke="#c92ec6"/><line x1="87.38" y1="409.40" x2="87.38" y2="428.00" stroke="#c92ec6"/><line x1="109.82" y1="409.40" x2="109.82" y2="428.00" stroke="#dedec6"/><line x1="132.26" y1="409.40" x2="132.26" y2="428.00" stroke="#c92ec6"/><line x1="154.70" y1="409.40" x2="154.70" y2="428.00" stroke="#c92ec6"/><line x1="53.72" y1="421.80" x2="53.72" y2="440.40" stroke="#c92ec6"/><line x1="76.16" y1="421.80" x2="76.16" y2="440.40" stroke="#c92ec6"/><line x1="98.60" y1="421.80" x2="98.60" y2="440.40" stroke="#c92ec6"/><line x1="121.04" y1="421.80" x2="121.04" y2="440.40" stroke="#c92ec6"/><line x1="143.48" y1="421.80" x2="143.48" y2="440.40" stroke="#c92ec6"/><line x1="42.50" y1="434.20" x2="42.50" y2="452.80" stroke="#c92ec6"/><line x1="64.94" y1="434.20" x2="64.94" y2="452.80" stroke="#c92ec6"/><line x1="87.38" y1="434.20" x2="87.38" y2="452.80" stroke="#c92ec6"/><line x1="109.82" y1="434.20" x2="109.82" y2="452.80" stroke="#dedec6"/><line x1="132.26" y1="434.20" x2="132.26" y2="452.80" stroke="#c92ec6"/><line x1="154.70" y1="434.20" x2="154.70" y2="452.80" stroke="#c92ec6"/><line x1="53.72" y1="446.60" x2="53.72" y2="465.20" stroke="#c92ec6"/><line x1="76.16" y1="446.60" x2="76.16" y2="465.20" stroke="#dedec6"/><line x1="98.60" y1="446.60" x2="98.60" y2="465.20" stroke="#dedec6"/><line x1="121.04" y1="446.60" x2="121.04" y2="465.20" stroke="#c92ec6"/><line x1="143.48" y1="446.60" x2="143.48" y2="465.20" stroke="#dedec6"/><line x1="42.50" y1="459.00" x2="42.50" y2="477.60" stroke="#c92ec6"/><line x1="64.94" y1="459.00" x2="64.94" y2="477.60" stroke="#dedec6"/><line x1="87.38" y1="459.00" x2="87.38" y2="477.60" stroke="#c92ec6"/><line x1="109.82" y1="459.00" x2="109.82" y2="477.60" stroke="#c92ec6"/><line x1="132.26" y1="459.00" x2="132.26" y2="477.60" stroke="#c92ec6"/><line x1="154.70" y1="459.00" x2="154.70" y2="477.60" stroke="#c92ec6"/><line x1="53.72" y1="471.40" x2="53.72" y2="490.00" stroke="#c92ec6"/><line x1="76.16" y1="471.40" x2="76.16" y2="490.00" stroke="#c92ec6"/><line x1="98.60" y1="471.40" x2="98.60" y2="490.00" stroke="#c92ec6"/><line x1="121.04" y1="471.40" x2="121.04" y2="490.00" stroke="#c92ec6"/><line x1="143.48" y1="471.40" x2="143.48" y2="490.00" stroke="#c92ec6"/><line x1="42.50" y1="483.80" x2="42.50" y2="502.40" stroke="#dedec6"/><line x1="64.94" y1="483.80" x2="64.94" y2="502.40" stroke="#dedec6"/><line x1="87.38" y1="483.80" x2="87.38" y2="502.40" stroke="#dedec6"/><line x1="109.82" y1="483.80" x2="109.82" y2="502.40" stroke="#c92ec6"/><line x1="132.26" y1="483.80" x2="132.26" y2="502.40" stroke="#dedec6"/><line x1="154.70" y1="483.80" x2="154.70" y2="502.40" stroke="#dedec6"/></g>
<rect x="35" y="528.7" width="127" height="125.5" fill="#000"/>
<g stroke-width="1.7" stroke-linecap="round"><line x1="42.50" y1="532.60" x2="53.72" y2="538.80" stroke="#c92ec6"/><line x1="53.72" y1="538.80" x2="64.94" y2="532.60" stroke="#c92ec6"/><line x1="64.94" y1="532.60" x2="76.16" y2="538.80" stroke="#c92ec6"/><line x1="76.16" y1="538.80" x2="87.38" y2="532.60" stroke="#c92ec6"/><line x1="87.38" y1="532.60" x2="98.60" y2="538.80" stroke="#c92ec6"/><line x1="98.60" y1="538.80" x2="109.82" y2="532.60" stroke="#c92ec6"/><line x1="109.82" y1="532.60" x2="121.04" y2="538.80" stroke="#c92ec6"/><line x1="121.04" y1="538.80" x2="132.26" y2="532.60" stroke="#c92ec6"/><line x1="132.26" y1="532.60" x2="143.48" y2="538.80" stroke="#c92ec6"/><line x1="143.48" y1="538.80" x2="154.70" y2="532.60" stroke="#c92ec6"/><line x1="42.50" y1="551.20" x2="53.72" y2="545.00" stroke="#c92ec6"/><line x1="53.72" y1="545.00" x2="64.94" y2="551.20" stroke="#dedec6"/><line x1="64.94" y1="551.20" x2="76.16" y2="545.00" stroke="#c92ec6"/><line x1="76.16" y1="545.00" x2="87.38" y2="551.20" stroke="#c92ec6"/><line x1="87.38" y1="551.20" x2="98.60" y2="545.00" stroke="#c92ec6"/><line x1="98.60" y1="545.00" x2="109.82" y2="551.20" stroke="#c92ec6"/><line x1="109.82" y1="551.20" x2="121.04" y2="545.00" stroke="#dedec6"/><line x1="121.04" y1="545.00" x2="132.26" y2="551.20" stroke="#dedec6"/><line x1="132.26" y1="551.20" x2="143.48" y2="545.00" stroke="#dedec6"/><line x1="143.48" y1="545.00" x2="154.70" y2="551.20" stroke="#c92ec6"/><line x1="42.50" y1="557.40" x2="53.72" y2="563.60" stroke="#c92ec6"/><line x1="53.72" y1="563.60" x2="64.94" y2="557.40" stroke="#c92ec6"/><line x1="64.94" y1="557.40" x2="76.16" y2="563.60" stroke="#dedec6"/><line x1="76.16" y1="563.60" x2="87.38" y2="557.40" stroke="#c92ec6"/><line x1="87.38" y1="557.40" x2="98.60" y2="563.60" stroke="#c92ec6"/><line x1="98.60" y1="563.60" x2="109.82" y2="557.40" stroke="#c92ec6"/><line x1="109.82" y1="557.40" x2="121.04" y2="563.60" stroke="#c92ec6"/><line x1="121.04" y1="563.60" x2="132.26" y2="557.40" stroke="#c92ec6"/><line x1="132.26" y1="557.40" x2="143.48" y2="563.60" stroke="#c92ec6"/><line x1="143.48" y1="563.60" x2="154.70" y2="557.40" stroke="#c92ec6"/><line x1="42.50" y1="576.00" x2="53.72" y2="569.80" stroke="#c92ec6"/><line x1="53.72" y1="569.80" x2="64.94" y2="576.00" stroke="#c92ec6"/><line x1="64.94" y1="576.00" x2="76.16" y2="569.80" stroke="#c92ec6"/><line x1="76.16" y1="569.80" x2="87.38" y2="576.00" stroke="#dedec6"/><line x1="87.38" y1="576.00" x2="98.60" y2="569.80" stroke="#c92ec6"/><line x1="98.60" y1="569.80" x2="109.82" y2="576.00" stroke="#c92ec6"/><line x1="109.82" y1="576.00" x2="121.04" y2="569.80" stroke="#c92ec6"/><line x1="121.04" y1="569.80" x2="132.26" y2="576.00" stroke="#c92ec6"/><line x1="132.26" y1="576.00" x2="143.48" y2="569.80" stroke="#c92ec6"/><line x1="143.48" y1="569.80" x2="154.70" y2="576.00" stroke="#c92ec6"/><line x1="42.50" y1="582.20" x2="53.72" y2="588.40" stroke="#c92ec6"/><line x1="53.72" y1="588.40" x2="64.94" y2="582.20" stroke="#c92ec6"/><line x1="64.94" y1="582.20" x2="76.16" y2="588.40" stroke="#c92ec6"/><line x1="76.16" y1="588.40" x2="87.38" y2="582.20" stroke="#c92ec6"/><line x1="87.38" y1="582.20" x2="98.60" y2="588.40" stroke="#dedec6"/><line x1="98.60" y1="588.40" x2="109.82" y2="582.20" stroke="#dedec6"/><line x1="109.82" y1="582.20" x2="121.04" y2="588.40" stroke="#dedec6"/><line x1="121.04" y1="588.40" x2="132.26" y2="582.20" stroke="#c92ec6"/><line x1="132.26" y1="582.20" x2="143.48" y2="588.40" stroke="#c92ec6"/><line x1="143.48" y1="588.40" x2="154.70" y2="582.20" stroke="#c92ec6"/><line x1="42.50" y1="600.80" x2="53.72" y2="594.60" stroke="#dedec6"/><line x1="53.72" y1="594.60" x2="64.94" y2="600.80" stroke="#c92ec6"/><line x1="64.94" y1="600.80" x2="76.16" y2="594.60" stroke="#c92ec6"/><line x1="76.16" y1="594.60" x2="87.38" y2="600.80" stroke="#c92ec6"/><line x1="87.38" y1="600.80" x2="98.60" y2="594.60" stroke="#c92ec6"/><line x1="98.60" y1="594.60" x2="109.82" y2="600.80" stroke="#dedec6"/><line x1="109.82" y1="600.80" x2="121.04" y2="594.60" stroke="#c92ec6"/><line x1="121.04" y1="594.60" x2="132.26" y2="600.80" stroke="#c92ec6"/><line x1="132.26" y1="600.80" x2="143.48" y2="594.60" stroke="#dedec6"/><line x1="143.48" y1="594.60" x2="154.70" y2="600.80" stroke="#c92ec6"/><line x1="42.50" y1="607.00" x2="53.72" y2="613.20" stroke="#c92ec6"/><line x1="53.72" y1="613.20" x2="64.94" y2="607.00" stroke="#c92ec6"/><line x1="64.94" y1="607.00" x2="76.16" y2="613.20" stroke="#c92ec6"/><line x1="76.16" y1="613.20" x2="87.38" y2="607.00" stroke="#c92ec6"/><line x1="87.38" y1="607.00" x2="98.60" y2="613.20" stroke="#c92ec6"/><line x1="98.60" y1="613.20" x2="109.82" y2="607.00" stroke="#dedec6"/><line x1="109.82" y1="607.00" x2="121.04" y2="613.20" stroke="#c92ec6"/><line x1="121.04" y1="613.20" x2="132.26" y2="607.00" stroke="#c92ec6"/><line x1="132.26" y1="607.00" x2="143.48" y2="613.20" stroke="#c92ec6"/><line x1="143.48" y1="613.20" x2="154.70" y2="607.00" stroke="#c92ec6"/><line x1="42.50" y1="625.60" x2="53.72" y2="619.40" stroke="#c92ec6"/><line x1="53.72" y1="619.40" x2="64.94" y2="625.60" stroke="#c92ec6"/><line x1="64.94" y1="625.60" x2="76.16" y2="619.40" stroke="#c92ec6"/><line x1="76.16" y1="619.40" x2="87.38" y2="625.60" stroke="#dedec6"/><line x1="87.38" y1="625.60" x2="98.60" y2="619.40" stroke="#c92ec6"/><line x1="98.60" y1="619.40" x2="109.82" y2="625.60" stroke="#dedec6"/><line x1="109.82" y1="625.60" x2="121.04" y2="619.40" stroke="#dedec6"/><line x1="121.04" y1="619.40" x2="132.26" y2="625.60" stroke="#dedec6"/><line x1="132.26" y1="625.60" x2="143.48" y2="619.40" stroke="#c92ec6"/><line x1="143.48" y1="619.40" x2="154.70" y2="625.60" stroke="#c92ec6"/><line x1="42.50" y1="631.80" x2="53.72" y2="638.00" stroke="#dedec6"/><line x1="53.72" y1="638.00" x2="64.94" y2="631.80" stroke="#c92ec6"/><line x1="64.94" y1="631.80" x2="76.16" y2="638.00" stroke="#c92ec6"/><line x1="76.16" y1="638.00" x2="87.38" y2="631.80" stroke="#c92ec6"/><line x1="87.38" y1="631.80" x2="98.60" y2="638.00" stroke="#c92ec6"/><line x1="98.60" y1="638.00" x2="109.82" y2="631.80" stroke="#c92ec6"/><line x1="109.82" y1="631.80" x2="121.04" y2="638.00" stroke="#c92ec6"/><line x1="121.04" y1="638.00" x2="132.26" y2="631.80" stroke="#c92ec6"/><line x1="132.26" y1="631.80" x2="143.48" y2="638.00" stroke="#dedec6"/><line x1="143.48" y1="638.00" x2="154.70" y2="631.80" stroke="#c92ec6"/><line x1="42.50" y1="650.40" x2="53.72" y2="644.20" stroke="#c92ec6"/><line x1="53.72" y1="644.20" x2="64.94" y2="650.40" stroke="#c92ec6"/><line x1="64.94" y1="650.40" x2="76.16" y2="644.20" stroke="#c92ec6"/><line x1="76.16" y1="644.20" x2="87.38" y2="650.40" stroke="#c92ec6"/><line x1="87.38" y1="650.40" x2="98.60" y2="644.20" stroke="#dedec6"/><line x1="98.60" y1="644.20" x2="109.82" y2="650.40" stroke="#dedec6"/><line x1="109.82" y1="650.40" x2="121.04" y2="644.20" stroke="#c92ec6"/><line x1="121.04" y1="644.20" x2="132.26" y2="650.40" stroke="#c92ec6"/><line x1="132.26" y1="650.40" x2="143.48" y2="644.20" stroke="#dedec6"/><line x1="143.48" y1="644.20" x2="154.70" y2="650.40" stroke="#dedec6"/><line x1="42.50" y1="532.60" x2="42.50" y2="551.20" stroke="#c92ec6"/><line x1="64.94" y1="532.60" x2="64.94" y2="551.20" stroke="#c92ec6"/><line x1="87.38" y1="532.60" x2="87.38" y2="551.20" stroke="#dedec6"/><line x1="109.82" y1="532.60" x2="109.82" y2="551.20" stroke="#c92ec6"/><line x1="132.26" y1="532.60" x2="132.26" y2="551.20" stroke="#dedec6"/><line x1="154.70" y1="532.60" x2="154.70" y2="551.20" stroke="#c92ec6"/><line x1="53.72" y1="545.00" x2="53.72" y2="563.60" stroke="#c92ec6"/><line x1="76.16" y1="545.00" x2="76.16" y2="563.60" stroke="#c92ec6"/><line x1="98.60" y1="545.00" x2="98.60" y2="563.60" stroke="#c92ec6"/><line x1="121.04" y1="545.00" x2="121.04" y2="563.60" stroke="#c92ec6"/><line x1="143.48" y1="545.00" x2="143.48" y2="563.60" stroke="#c92ec6"/><line x1="42.50" y1="557.40" x2="42.50" y2="576.00" stroke="#c92ec6"/><line x1="64.94" y1="557.40" x2="64.94" y2="576.00" stroke="#c92ec6"/><line x1="87.38" y1="557.40" x2="87.38" y2="576.00" stroke="#c92ec6"/><line x1="109.82" y1="557.40" x2="109.82" y2="576.00" stroke="#dedec6"/><line x1="132.26" y1="557.40" x2="132.26" y2="576.00" stroke="#c92ec6"/><line x1="154.70" y1="557.40" x2="154.70" y2="576.00" stroke="#c92ec6"/><line x1="53.72" y1="569.80" x2="53.72" y2="588.40" stroke="#c92ec6"/><line x1="76.16" y1="569.80" x2="76.16" y2="588.40" stroke="#c92ec6"/><line x1="98.60" y1="569.80" x2="98.60" y2="588.40" stroke="#c92ec6"/><line x1="121.04" y1="569.80" x2="121.04" y2="588.40" stroke="#dedec6"/><line x1="143.48" y1="569.80" x2="143.48" y2="588.40" stroke="#dedec6"/><line x1="42.50" y1="582.20" x2="42.50" y2="600.80" stroke="#c92ec6"/><line x1="64.94" y1="582.20" x2="64.94" y2="600.80" stroke="#c92ec6"/><line x1="87.38" y1="582.20" x2="87.38" y2="600.80" stroke="#c92ec6"/><line x1="109.82" y1="582.20" x2="109.82" y2="600.80" stroke="#c92ec6"/><line x1="132.26" y1="582.20" x2="132.26" y2="600.80" stroke="#c92ec6"/><line x1="154.70" y1="582.20" x2="154.70" y2="600.80" stroke="#c92ec6"/><line x1="53.72" y1="594.60" x2="53.72" y2="613.20" stroke="#c92ec6"/><line x1="76.16" y1="594.60" x2="76.16" y2="613.20" stroke="#c92ec6"/><line x1="98.60" y1="594.60" x2="98.60" y2="613.20" stroke="#c92ec6"/><line x1="121.04" y1="594.60" x2="121.04" y2="613.20" stroke="#c92ec6"/><line x1="143.48" y1="594.60" x2="143.48" y2="613.20" stroke="#c92ec6"/><line x1="42.50" y1="607.00" x2="42.50" y2="625.60" stroke="#c92ec6"/><line x1="64.94" y1="607.00" x2="64.94" y2="625.60" stroke="#c92ec6"/><line x1="87.38" y1="607.00" x2="87.38" y2="625.60" stroke="#c92ec6"/><line x1="109.82" y1="607.00" x2="109.82" y2="625.60" stroke="#c92ec6"/><line x1="132.26" y1="607.00" x2="132.26" y2="625.60" stroke="#c92ec6"/><line x1="154.70" y1="607.00" x2="154.70" y2="625.60" stroke="#c92ec6"/><line x1="53.72" y1="619.40" x2="53.72" y2="638.00" stroke="#c92ec6"/><line x1="76.16" y1="619.40" x2="76.16" y2="638.00" stroke="#c92ec6"/><line x1="98.60" y1="619.40" x2="98.60" y2="638.00" stroke="#c92ec6"/><line x1="121.04" y1="619.40" x2="121.04" y2="638.00" stroke="#c92ec6"/><line x1="143.48" y1="619.40" x2="143.48" y2="638.00" stroke="#dedec6"/><line x1="42.50" y1="631.80" x2="42.50" y2="650.40" stroke="#c92ec6"/><line x1="64.94" y1="631.80" x2="64.94" y2="650.40" stroke="#c92ec6"/><line x1="87.38" y1="631.80" x2="87.38" y2="650.40" stroke="#c92ec6"/><line x1="109.82" y1="631.80" x2="109.82" y2="650.40" stroke="#c92ec6"/><line x1="132.26" y1="631.80" x2="132.26" y2="650.40" stroke="#dedec6"/><line x1="154.70" y1="631.80" x2="154.70" y2="650.40" stroke="#c92ec6"/></g>
<text x="14.8" y="449" font-size="16" font-family="Liberation Serif" text-anchor="middle" fill="#111">1</text>
<text x="14.9" y="597.2" font-size="16.3" text-anchor="middle" fill="#111">2</text>
<text x="175.1" y="344" font-size="15.5" font-weight="bold" fill="#000">d.</text>
<text x="258.5" y="362" font-size="14.5" text-anchor="middle" fill="#111"><tspan font-style="italic">ε</tspan><tspan font-size="10.5" font-style="italic" dy="3">11</tspan><tspan dy="-3"> = 3%</tspan></text>
<text x="402" y="362" font-size="14.5" text-anchor="middle" fill="#111"><tspan font-style="italic">ε</tspan><tspan font-size="10.5" font-style="italic" dy="3">22</tspan><tspan dy="-3"> = 3%</tspan></text>
<rect x="195.3" y="377" width="127.0" height="132.5" fill="#000"/>
<rect x="341.1" y="379.9" width="122.59999999999997" height="127.0" fill="#000"/>
<rect x="195.3" y="524.9" width="126.80000000000001" height="133.30000000000007" fill="#000"/>
<rect x="341.1" y="528.1" width="122.59999999999997" height="127.0" fill="#000"/>
<g stroke-width="1.7" stroke-linecap="round"><line x1="199.64" y1="384.23" x2="212.53" y2="389.66" stroke="#0a14f0"/><line x1="212.53" y1="389.66" x2="223.81" y2="383.51" stroke="#0a14f0"/><line x1="223.81" y1="383.51" x2="235.85" y2="390.62" stroke="#0a14f0"/><line x1="235.85" y1="390.62" x2="246.61" y2="382.75" stroke="#0a14f0"/><line x1="246.61" y1="382.75" x2="259.70" y2="389.98" stroke="#0a14f0"/><line x1="259.70" y1="389.98" x2="269.33" y2="382.70" stroke="#0a14f0"/><line x1="269.33" y1="382.70" x2="280.52" y2="390.50" stroke="#0a14f0"/><line x1="280.52" y1="390.50" x2="291.89" y2="380.90" stroke="#0a14f0"/><line x1="291.89" y1="380.90" x2="304.86" y2="383.76" stroke="#0a14f0"/><line x1="304.86" y1="383.76" x2="317.05" y2="383.67" stroke="#0a14f0"/><line x1="268.98" y1="401.84" x2="281.23" y2="396.30" stroke="#0a14f0"/><line x1="281.23" y1="396.30" x2="292.64" y2="399.13" stroke="#0a14f0"/><line x1="292.64" y1="399.13" x2="306.03" y2="398.35" stroke="#0a14f0"/><line x1="306.03" y1="398.35" x2="317.22" y2="402.40" stroke="#0a14f0"/><line x1="200.70" y1="409.18" x2="212.85" y2="415.16" stroke="#0a14f0"/><line x1="212.85" y1="415.16" x2="224.41" y2="409.11" stroke="#0a14f0"/><line x1="224.41" y1="409.11" x2="235.23" y2="415.46" stroke="#0a14f0"/><line x1="235.23" y1="415.46" x2="248.03" y2="409.42" stroke="#0a14f0"/><line x1="248.03" y1="409.42" x2="259.11" y2="415.46" stroke="#0a14f0"/><line x1="259.11" y1="415.46" x2="268.52" y2="408.34" stroke="#0a14f0"/><line x1="268.52" y1="408.34" x2="283.16" y2="415.15" stroke="#0a14f0"/><line x1="283.16" y1="415.15" x2="293.79" y2="408.89" stroke="#0a14f0"/><line x1="293.79" y1="408.89" x2="306.51" y2="415.61" stroke="#0a14f0"/><line x1="306.51" y1="415.61" x2="317.67" y2="408.69" stroke="#0a14f0"/><line x1="256.91" y1="420.81" x2="270.86" y2="428.77" stroke="#0a14f0"/><line x1="306.16" y1="422.21" x2="318.04" y2="427.83" stroke="#0a14f0"/><line x1="199.88" y1="434.09" x2="212.88" y2="439.61" stroke="#0a14f0"/><line x1="212.88" y1="439.61" x2="224.33" y2="434.58" stroke="#0a14f0"/><line x1="224.33" y1="434.58" x2="236.28" y2="440.93" stroke="#0a14f0"/><line x1="236.28" y1="440.93" x2="247.90" y2="434.03" stroke="#0a14f0"/><line x1="200.50" y1="453.02" x2="211.21" y2="446.11" stroke="#0a14f0"/><line x1="211.21" y1="446.11" x2="223.24" y2="453.25" stroke="#0a14f0"/><line x1="223.24" y1="453.25" x2="236.23" y2="447.14" stroke="#0a14f0"/><line x1="236.23" y1="447.14" x2="247.87" y2="453.67" stroke="#0a14f0"/><line x1="247.87" y1="453.67" x2="258.66" y2="447.22" stroke="#0a14f0"/><line x1="258.66" y1="447.22" x2="271.17" y2="452.35" stroke="#0a14f0"/><line x1="271.17" y1="452.35" x2="281.75" y2="445.73" stroke="#0a14f0"/><line x1="281.75" y1="445.73" x2="294.84" y2="452.65" stroke="#0a14f0"/><line x1="294.84" y1="452.65" x2="305.44" y2="446.82" stroke="#0a14f0"/><line x1="305.44" y1="446.82" x2="317.62" y2="452.33" stroke="#0a14f0"/><line x1="199.69" y1="459.25" x2="211.46" y2="465.29" stroke="#0a14f0"/><line x1="224.20" y1="459.12" x2="235.26" y2="465.65" stroke="#0a14f0"/><line x1="235.26" y1="465.65" x2="246.48" y2="459.00" stroke="#0a14f0"/><line x1="246.48" y1="459.00" x2="258.96" y2="465.14" stroke="#0a14f0"/><line x1="270.16" y1="459.92" x2="282.64" y2="465.18" stroke="#0a14f0"/><line x1="282.64" y1="465.18" x2="294.57" y2="459.77" stroke="#0a14f0"/><line x1="294.57" y1="459.77" x2="305.28" y2="464.83" stroke="#0a14f0"/><line x1="305.28" y1="464.83" x2="317.26" y2="459.59" stroke="#0a14f0"/><line x1="199.69" y1="478.67" x2="212.38" y2="471.88" stroke="#0a14f0"/><line x1="212.38" y1="471.88" x2="223.32" y2="479.16" stroke="#0a14f0"/><line x1="223.32" y1="479.16" x2="236.12" y2="471.83" stroke="#0a14f0"/><line x1="236.12" y1="471.83" x2="246.84" y2="478.57" stroke="#0a14f0"/><line x1="281.83" y1="471.44" x2="295.22" y2="478.98" stroke="#0a14f0"/><line x1="295.22" y1="478.98" x2="305.79" y2="472.45" stroke="#0a14f0"/><line x1="305.79" y1="472.45" x2="317.56" y2="479.09" stroke="#0a14f0"/><line x1="200.74" y1="484.25" x2="211.61" y2="490.02" stroke="#0a14f0"/><line x1="224.50" y1="483.57" x2="236.15" y2="491.73" stroke="#0a14f0"/><line x1="236.15" y1="491.73" x2="247.47" y2="483.81" stroke="#0a14f0"/><line x1="199.93" y1="503.50" x2="211.75" y2="497.67" stroke="#0a14f0"/><line x1="211.75" y1="497.67" x2="224.54" y2="502.63" stroke="#0a14f0"/><line x1="224.54" y1="502.63" x2="235.04" y2="496.69" stroke="#0a14f0"/><line x1="235.04" y1="496.69" x2="248.22" y2="504.01" stroke="#0a14f0"/><line x1="248.22" y1="504.01" x2="258.81" y2="496.48" stroke="#0a14f0"/><line x1="258.81" y1="496.48" x2="271.17" y2="504.11" stroke="#0a14f0"/><line x1="271.17" y1="504.11" x2="283.40" y2="496.72" stroke="#0a14f0"/><line x1="283.40" y1="496.72" x2="295.07" y2="503.84" stroke="#0a14f0"/><line x1="295.07" y1="503.84" x2="306.11" y2="497.87" stroke="#0a14f0"/><line x1="306.11" y1="497.87" x2="317.42" y2="503.91" stroke="#0a14f0"/><line x1="199.64" y1="384.23" x2="201.09" y2="402.49" stroke="#0a14f0"/><line x1="223.81" y1="383.51" x2="222.97" y2="402.20" stroke="#0a14f0"/><line x1="246.61" y1="382.75" x2="246.86" y2="402.22" stroke="#0a14f0"/><line x1="291.89" y1="380.90" x2="292.64" y2="399.13" stroke="#0a14f0"/><line x1="317.05" y1="383.67" x2="317.22" y2="402.40" stroke="#0a14f0"/><line x1="211.55" y1="396.06" x2="212.85" y2="415.16" stroke="#0a14f0"/><line x1="281.23" y1="396.30" x2="283.16" y2="415.15" stroke="#0a14f0"/><line x1="306.03" y1="398.35" x2="306.51" y2="415.61" stroke="#0a14f0"/><line x1="200.70" y1="409.18" x2="200.32" y2="428.40" stroke="#0a14f0"/><line x1="224.41" y1="409.11" x2="223.80" y2="427.05" stroke="#0a14f0"/><line x1="248.03" y1="409.42" x2="248.21" y2="428.07" stroke="#0a14f0"/><line x1="293.79" y1="408.89" x2="295.03" y2="427.42" stroke="#0a14f0"/><line x1="317.67" y1="408.69" x2="318.04" y2="427.83" stroke="#0a14f0"/><line x1="212.10" y1="421.21" x2="212.88" y2="439.61" stroke="#0a14f0"/><line x1="234.76" y1="421.77" x2="236.28" y2="440.93" stroke="#0a14f0"/><line x1="283.11" y1="421.47" x2="282.75" y2="439.96" stroke="#0a14f0"/><line x1="306.16" y1="422.21" x2="305.88" y2="440.22" stroke="#0a14f0"/><line x1="199.88" y1="434.09" x2="200.50" y2="453.02" stroke="#0a14f0"/><line x1="224.33" y1="434.58" x2="223.24" y2="453.25" stroke="#0a14f0"/><line x1="270.06" y1="434.67" x2="271.17" y2="452.35" stroke="#0a14f0"/><line x1="294.39" y1="433.97" x2="294.84" y2="452.65" stroke="#0a14f0"/><line x1="317.97" y1="434.22" x2="317.62" y2="452.33" stroke="#0a14f0"/><line x1="211.21" y1="446.11" x2="211.46" y2="465.29" stroke="#0a14f0"/><line x1="236.23" y1="447.14" x2="235.26" y2="465.65" stroke="#0a14f0"/><line x1="258.66" y1="447.22" x2="258.96" y2="465.14" stroke="#0a14f0"/><line x1="281.75" y1="445.73" x2="282.64" y2="465.18" stroke="#0a14f0"/><line x1="305.44" y1="446.82" x2="305.28" y2="464.83" stroke="#0a14f0"/><line x1="199.69" y1="459.25" x2="199.69" y2="478.67" stroke="#0a14f0"/><line x1="270.16" y1="459.92" x2="270.54" y2="478.54" stroke="#0a14f0"/><line x1="294.57" y1="459.77" x2="295.22" y2="478.98" stroke="#0a14f0"/><line x1="317.26" y1="459.59" x2="317.56" y2="479.09" stroke="#0a14f0"/><line x1="212.38" y1="471.88" x2="211.61" y2="490.02" stroke="#0a14f0"/><line x1="236.12" y1="471.83" x2="236.15" y2="491.73" stroke="#0a14f0"/><line x1="305.79" y1="472.45" x2="306.02" y2="490.35" stroke="#0a14f0"/><line x1="200.74" y1="484.25" x2="199.93" y2="503.50" stroke="#0a14f0"/><line x1="271.23" y1="484.42" x2="271.17" y2="504.11" stroke="#0a14f0"/><line x1="293.85" y1="484.71" x2="295.07" y2="503.84" stroke="#0a14f0"/><line x1="317.19" y1="484.70" x2="317.42" y2="503.91" stroke="#0a14f0"/><line x1="201.09" y1="402.49" x2="211.55" y2="396.06" stroke="#0050ff"/><line x1="211.55" y1="396.06" x2="222.97" y2="402.20" stroke="#0090ff"/><line x1="222.97" y1="402.20" x2="235.47" y2="396.19" stroke="#0050ff"/><line x1="235.47" y1="396.19" x2="246.86" y2="402.22" stroke="#0090ff"/><line x1="246.86" y1="402.22" x2="258.59" y2="396.13" stroke="#00c8ee"/><line x1="258.59" y1="396.13" x2="268.98" y2="401.84" stroke="#0090ff"/><line x1="200.32" y1="428.40" x2="212.10" y2="421.21" stroke="#0050ff"/><line x1="212.10" y1="421.21" x2="223.80" y2="427.05" stroke="#00c8ee"/><line x1="223.80" y1="427.05" x2="234.76" y2="421.77" stroke="#0090ff"/><line x1="234.76" y1="421.77" x2="248.21" y2="428.07" stroke="#0050ff"/><line x1="248.21" y1="428.07" x2="256.91" y2="420.81" stroke="#00f0b0"/><line x1="270.86" y1="428.77" x2="283.11" y2="421.47" stroke="#00f0b0"/><line x1="283.11" y1="421.47" x2="295.03" y2="427.42" stroke="#0090ff"/><line x1="295.03" y1="427.42" x2="306.16" y2="422.21" stroke="#0090ff"/><line x1="247.90" y1="434.03" x2="259.21" y2="440.37" stroke="#00f0b0"/><line x1="259.21" y1="440.37" x2="270.06" y2="434.67" stroke="#00c8ee"/><line x1="270.06" y1="434.67" x2="282.75" y2="439.96" stroke="#20f050"/><line x1="282.75" y1="439.96" x2="294.39" y2="433.97" stroke="#00f0b0"/><line x1="294.39" y1="433.97" x2="305.88" y2="440.22" stroke="#00c8ee"/><line x1="305.88" y1="440.22" x2="317.97" y2="434.22" stroke="#00c8ee"/><line x1="211.46" y1="465.29" x2="224.20" y2="459.12" stroke="#0090ff"/><line x1="258.96" y1="465.14" x2="270.16" y2="459.92" stroke="#0050ff"/><line x1="246.84" y1="478.57" x2="258.91" y2="471.94" stroke="#00c8ee"/><line x1="258.91" y1="471.94" x2="270.54" y2="478.54" stroke="#00c8ee"/><line x1="270.54" y1="478.54" x2="281.83" y2="471.44" stroke="#0090ff"/><line x1="211.61" y1="490.02" x2="224.50" y2="483.57" stroke="#00f0b0"/><line x1="247.47" y1="483.81" x2="259.76" y2="491.75" stroke="#0050ff"/><line x1="259.76" y1="491.75" x2="271.23" y2="484.42" stroke="#0090ff"/><line x1="271.23" y1="484.42" x2="282.40" y2="490.62" stroke="#00c8ee"/><line x1="282.40" y1="490.62" x2="293.85" y2="484.71" stroke="#0090ff"/><line x1="293.85" y1="484.71" x2="306.02" y2="490.35" stroke="#00f0b0"/><line x1="306.02" y1="490.35" x2="317.19" y2="484.70" stroke="#00c8ee"/><line x1="269.33" y1="382.70" x2="268.98" y2="401.84" stroke="#0090ff"/><line x1="235.47" y1="396.19" x2="235.23" y2="415.46" stroke="#0050ff"/><line x1="258.59" y1="396.13" x2="259.11" y2="415.46" stroke="#00c8ee"/><line x1="268.52" y1="408.34" x2="270.86" y2="428.77" stroke="#00c8ee"/><line x1="256.91" y1="420.81" x2="259.21" y2="440.37" stroke="#20f050"/><line x1="247.90" y1="434.03" x2="247.87" y2="453.67" stroke="#00f0b0"/><line x1="224.20" y1="459.12" x2="223.32" y2="479.16" stroke="#00f0b0"/><line x1="246.48" y1="459.00" x2="246.84" y2="478.57" stroke="#0050ff"/><line x1="258.91" y1="471.94" x2="259.76" y2="491.75" stroke="#0050ff"/><line x1="281.83" y1="471.44" x2="282.40" y2="490.62" stroke="#00f0b0"/><line x1="224.50" y1="483.57" x2="224.54" y2="502.63" stroke="#00f0b0"/><line x1="247.47" y1="483.81" x2="248.22" y2="504.01" stroke="#0090ff"/></g>
<g stroke-width="1.7" stroke-linecap="round"><line x1="347.22" y1="383.51" x2="356.83" y2="388.15" stroke="#0a14f0"/><line x1="356.83" y1="388.15" x2="369.46" y2="383.12" stroke="#0a14f0"/><line x1="369.46" y1="383.12" x2="380.40" y2="388.55" stroke="#0a14f0"/><line x1="380.40" y1="388.55" x2="391.51" y2="382.89" stroke="#0a14f0"/><line x1="391.51" y1="382.89" x2="402.70" y2="388.29" stroke="#0a14f0"/><line x1="402.70" y1="388.29" x2="413.66" y2="382.51" stroke="#0a14f0"/><line x1="413.66" y1="382.51" x2="425.41" y2="389.79" stroke="#0a14f0"/><line x1="425.41" y1="389.79" x2="437.05" y2="382.78" stroke="#0a14f0"/><line x1="437.05" y1="382.78" x2="447.37" y2="388.48" stroke="#0a14f0"/><line x1="447.37" y1="388.48" x2="457.86" y2="381.85" stroke="#0a14f0"/><line x1="346.34" y1="401.17" x2="357.41" y2="396.01" stroke="#0a14f0"/><line x1="414.09" y1="400.93" x2="425.72" y2="395.83" stroke="#0a14f0"/><line x1="425.72" y1="395.83" x2="436.66" y2="402.23" stroke="#0a14f0"/><line x1="436.66" y1="402.23" x2="447.94" y2="395.82" stroke="#0a14f0"/><line x1="447.94" y1="395.82" x2="458.44" y2="402.37" stroke="#0a14f0"/><line x1="380.07" y1="414.86" x2="391.32" y2="408.50" stroke="#0a14f0"/><line x1="391.32" y1="408.50" x2="402.29" y2="414.79" stroke="#0a14f0"/><line x1="414.50" y1="407.83" x2="425.13" y2="414.86" stroke="#0a14f0"/><line x1="425.13" y1="414.86" x2="436.64" y2="407.88" stroke="#0a14f0"/><line x1="436.64" y1="407.88" x2="446.97" y2="413.78" stroke="#0a14f0"/><line x1="347.13" y1="426.28" x2="358.37" y2="420.16" stroke="#0a14f0"/><line x1="380.10" y1="420.53" x2="391.59" y2="426.86" stroke="#0a14f0"/><line x1="402.21" y1="419.97" x2="413.80" y2="427.48" stroke="#0a14f0"/><line x1="368.15" y1="433.14" x2="380.73" y2="438.84" stroke="#0a14f0"/><line x1="380.73" y1="438.84" x2="390.80" y2="433.79" stroke="#0a14f0"/><line x1="368.65" y1="451.08" x2="380.97" y2="445.07" stroke="#0a14f0"/><line x1="380.97" y1="445.07" x2="390.49" y2="451.62" stroke="#0a14f0"/><line x1="413.08" y1="451.61" x2="424.17" y2="445.61" stroke="#0a14f0"/><line x1="424.17" y1="445.61" x2="436.72" y2="452.33" stroke="#0a14f0"/><line x1="436.72" y1="452.33" x2="448.19" y2="446.16" stroke="#0a14f0"/><line x1="346.35" y1="457.81" x2="357.92" y2="464.17" stroke="#0a14f0"/><line x1="368.14" y1="458.21" x2="380.76" y2="463.83" stroke="#0a14f0"/><line x1="380.76" y1="463.83" x2="391.47" y2="458.11" stroke="#0a14f0"/><line x1="414.61" y1="457.87" x2="425.20" y2="464.36" stroke="#0a14f0"/><line x1="342.67" y1="477.34" x2="357.64" y2="471.77" stroke="#0a14f0"/><line x1="357.64" y1="471.77" x2="369.64" y2="477.99" stroke="#0a14f0"/><line x1="424.87" y1="470.95" x2="435.35" y2="476.26" stroke="#0a14f0"/><line x1="345.68" y1="482.93" x2="357.15" y2="489.19" stroke="#0a14f0"/><line x1="357.15" y1="489.19" x2="368.90" y2="483.44" stroke="#0a14f0"/><line x1="368.90" y1="483.44" x2="379.75" y2="489.96" stroke="#0a14f0"/><line x1="379.75" y1="489.96" x2="390.80" y2="484.23" stroke="#0a14f0"/><line x1="390.80" y1="484.23" x2="403.38" y2="490.11" stroke="#0a14f0"/><line x1="403.38" y1="490.11" x2="413.66" y2="483.52" stroke="#0a14f0"/><line x1="413.66" y1="483.52" x2="425.16" y2="488.89" stroke="#0a14f0"/><line x1="425.16" y1="488.89" x2="436.09" y2="483.55" stroke="#0a14f0"/><line x1="346.43" y1="503.06" x2="357.83" y2="495.72" stroke="#0a14f0"/><line x1="357.83" y1="495.72" x2="369.73" y2="502.07" stroke="#0a14f0"/><line x1="369.73" y1="502.07" x2="379.22" y2="496.43" stroke="#0a14f0"/><line x1="379.22" y1="496.43" x2="390.60" y2="501.95" stroke="#0a14f0"/><line x1="390.60" y1="501.95" x2="403.16" y2="496.41" stroke="#0a14f0"/><line x1="403.16" y1="496.41" x2="412.91" y2="502.21" stroke="#0a14f0"/><line x1="412.91" y1="502.21" x2="424.85" y2="496.07" stroke="#0a14f0"/><line x1="424.85" y1="496.07" x2="435.71" y2="502.46" stroke="#0a14f0"/><line x1="435.71" y1="502.46" x2="446.70" y2="495.71" stroke="#0a14f0"/><line x1="446.70" y1="495.71" x2="458.47" y2="503.08" stroke="#0a14f0"/><line x1="347.22" y1="383.51" x2="346.34" y2="401.17" stroke="#0a14f0"/><line x1="369.46" y1="383.12" x2="368.91" y2="401.61" stroke="#0a14f0"/><line x1="391.51" y1="382.89" x2="391.01" y2="400.85" stroke="#0a14f0"/><line x1="413.66" y1="382.51" x2="414.09" y2="400.93" stroke="#0a14f0"/><line x1="357.41" y1="396.01" x2="358.09" y2="414.49" stroke="#0a14f0"/><line x1="425.72" y1="395.83" x2="425.13" y2="414.86" stroke="#0a14f0"/><line x1="347.23" y1="407.29" x2="347.13" y2="426.28" stroke="#0a14f0"/><line x1="391.32" y1="408.50" x2="391.59" y2="426.86" stroke="#0a14f0"/><line x1="436.64" y1="407.88" x2="436.82" y2="427.11" stroke="#0a14f0"/><line x1="459.06" y1="407.30" x2="459.14" y2="425.91" stroke="#0a14f0"/><line x1="358.37" y1="420.16" x2="357.14" y2="439.98" stroke="#0a14f0"/><line x1="380.10" y1="420.53" x2="380.73" y2="438.84" stroke="#0a14f0"/><line x1="425.23" y1="419.74" x2="424.42" y2="439.61" stroke="#0a14f0"/><line x1="346.68" y1="432.69" x2="346.96" y2="451.28" stroke="#0a14f0"/><line x1="368.15" y1="433.14" x2="368.65" y2="451.08" stroke="#0a14f0"/><line x1="457.84" y1="432.66" x2="459.35" y2="452.27" stroke="#0a14f0"/><line x1="380.97" y1="445.07" x2="380.76" y2="463.83" stroke="#0a14f0"/><line x1="346.35" y1="457.81" x2="342.67" y2="477.34" stroke="#0a14f0"/><line x1="391.47" y1="458.11" x2="390.87" y2="477.26" stroke="#0a14f0"/><line x1="414.61" y1="457.87" x2="414.16" y2="476.66" stroke="#0a14f0"/><line x1="435.37" y1="458.40" x2="435.35" y2="476.26" stroke="#0a14f0"/><line x1="457.86" y1="457.69" x2="459.10" y2="476.63" stroke="#0a14f0"/><line x1="357.64" y1="471.77" x2="357.15" y2="489.19" stroke="#0a14f0"/><line x1="379.61" y1="470.80" x2="379.75" y2="489.96" stroke="#0a14f0"/><line x1="402.77" y1="471.44" x2="403.38" y2="490.11" stroke="#0a14f0"/><line x1="447.31" y1="470.20" x2="446.90" y2="488.97" stroke="#0a14f0"/><line x1="390.80" y1="484.23" x2="390.60" y2="501.95" stroke="#0a14f0"/><line x1="413.66" y1="483.52" x2="412.91" y2="502.21" stroke="#0a14f0"/><line x1="436.09" y1="483.55" x2="435.71" y2="502.46" stroke="#0a14f0"/><line x1="459.24" y1="483.26" x2="458.47" y2="503.08" stroke="#0a14f0"/><line x1="357.41" y1="396.01" x2="368.91" y2="401.61" stroke="#00c8ee"/><line x1="368.91" y1="401.61" x2="379.62" y2="394.44" stroke="#0090ff"/><line x1="379.62" y1="394.44" x2="391.01" y2="400.85" stroke="#0050ff"/><line x1="391.01" y1="400.85" x2="402.57" y2="396.20" stroke="#0090ff"/><line x1="402.57" y1="396.20" x2="414.09" y2="400.93" stroke="#0090ff"/><line x1="347.23" y1="407.29" x2="358.09" y2="414.49" stroke="#0050ff"/><line x1="358.09" y1="414.49" x2="368.79" y2="407.95" stroke="#0090ff"/><line x1="368.79" y1="407.95" x2="380.07" y2="414.86" stroke="#00c8ee"/><line x1="402.29" y1="414.79" x2="414.50" y2="407.83" stroke="#00f0b0"/><line x1="446.97" y1="413.78" x2="459.06" y2="407.30" stroke="#0090ff"/><line x1="358.37" y1="420.16" x2="369.68" y2="427.07" stroke="#00c8ee"/><line x1="369.68" y1="427.07" x2="380.10" y2="420.53" stroke="#00f0b0"/><line x1="391.59" y1="426.86" x2="402.21" y2="419.97" stroke="#00f0b0"/><line x1="413.80" y1="427.48" x2="425.23" y2="419.74" stroke="#00c8ee"/><line x1="425.23" y1="419.74" x2="436.82" y2="427.11" stroke="#0050ff"/><line x1="436.82" y1="427.11" x2="448.20" y2="419.94" stroke="#0050ff"/><line x1="448.20" y1="419.94" x2="459.14" y2="425.91" stroke="#0090ff"/><line x1="346.68" y1="432.69" x2="357.14" y2="439.98" stroke="#0050ff"/><line x1="357.14" y1="439.98" x2="368.15" y2="433.14" stroke="#00c8ee"/><line x1="390.80" y1="433.79" x2="402.41" y2="439.69" stroke="#00c8ee"/><line x1="402.41" y1="439.69" x2="412.94" y2="432.85" stroke="#00c8ee"/><line x1="412.94" y1="432.85" x2="424.42" y2="439.61" stroke="#0090ff"/><line x1="424.42" y1="439.61" x2="435.49" y2="433.92" stroke="#00c8ee"/><line x1="435.49" y1="433.92" x2="446.62" y2="439.71" stroke="#00c8ee"/><line x1="446.62" y1="439.71" x2="457.84" y2="432.66" stroke="#0090ff"/><line x1="346.96" y1="451.28" x2="357.06" y2="446.04" stroke="#0050ff"/><line x1="357.06" y1="446.04" x2="368.65" y2="451.08" stroke="#0090ff"/><line x1="390.49" y1="451.62" x2="402.76" y2="446.14" stroke="#0090ff"/><line x1="402.76" y1="446.14" x2="413.08" y2="451.61" stroke="#0050ff"/><line x1="448.19" y1="446.16" x2="459.35" y2="452.27" stroke="#00c8ee"/><line x1="357.92" y1="464.17" x2="368.14" y2="458.21" stroke="#00f0b0"/><line x1="391.47" y1="458.11" x2="402.58" y2="463.86" stroke="#0090ff"/><line x1="402.58" y1="463.86" x2="414.61" y2="457.87" stroke="#0090ff"/><line x1="425.20" y1="464.36" x2="435.37" y2="458.40" stroke="#00c8ee"/><line x1="435.37" y1="458.40" x2="446.82" y2="463.70" stroke="#0050ff"/><line x1="446.82" y1="463.70" x2="457.86" y2="457.69" stroke="#0090ff"/><line x1="369.64" y1="477.99" x2="379.61" y2="470.80" stroke="#00c8ee"/><line x1="379.61" y1="470.80" x2="390.87" y2="477.26" stroke="#0090ff"/><line x1="390.87" y1="477.26" x2="402.77" y2="471.44" stroke="#0090ff"/><line x1="402.77" y1="471.44" x2="414.16" y2="476.66" stroke="#00c8ee"/><line x1="414.16" y1="476.66" x2="424.87" y2="470.95" stroke="#0090ff"/><line x1="435.35" y1="476.26" x2="447.31" y2="470.20" stroke="#0090ff"/><line x1="447.31" y1="470.20" x2="459.10" y2="476.63" stroke="#0090ff"/><line x1="436.09" y1="483.55" x2="446.90" y2="488.97" stroke="#00f0b0"/><line x1="446.90" y1="488.97" x2="459.24" y2="483.26" stroke="#0090ff"/><line x1="437.05" y1="382.78" x2="436.66" y2="402.23" stroke="#0050ff"/><line x1="457.86" y1="381.85" x2="458.44" y2="402.37" stroke="#00f0b0"/><line x1="379.62" y1="394.44" x2="380.07" y2="414.86" stroke="#0090ff"/><line x1="402.57" y1="396.20" x2="402.29" y2="414.79" stroke="#20f050"/><line x1="447.94" y1="395.82" x2="446.97" y2="413.78" stroke="#00c8ee"/><line x1="368.79" y1="407.95" x2="369.68" y2="427.07" stroke="#0050ff"/><line x1="414.50" y1="407.83" x2="413.80" y2="427.48" stroke="#00c8ee"/><line x1="402.21" y1="419.97" x2="402.41" y2="439.69" stroke="#20f050"/><line x1="448.20" y1="419.94" x2="446.62" y2="439.71" stroke="#0090ff"/><line x1="390.80" y1="433.79" x2="390.49" y2="451.62" stroke="#00c8ee"/><line x1="412.94" y1="432.85" x2="413.08" y2="451.61" stroke="#0050ff"/><line x1="435.49" y1="433.92" x2="436.72" y2="452.33" stroke="#0090ff"/><line x1="357.06" y1="446.04" x2="357.92" y2="464.17" stroke="#0090ff"/><line x1="402.76" y1="446.14" x2="402.58" y2="463.86" stroke="#0090ff"/><line x1="424.17" y1="445.61" x2="425.20" y2="464.36" stroke="#00f0b0"/><line x1="448.19" y1="446.16" x2="446.82" y2="463.70" stroke="#00c8ee"/><line x1="368.14" y1="458.21" x2="369.64" y2="477.99" stroke="#00c8ee"/><line x1="424.87" y1="470.95" x2="425.16" y2="488.89" stroke="#00c8ee"/><line x1="345.68" y1="482.93" x2="346.43" y2="503.06" stroke="#00c8ee"/><line x1="368.90" y1="483.44" x2="369.73" y2="502.07" stroke="#00c8ee"/></g>
<g stroke-width="1.7" stroke-linecap="round"><line x1="198.73" y1="527.38" x2="210.84" y2="533.99" stroke="#0a14f0"/><line x1="210.84" y1="533.99" x2="223.17" y2="526.52" stroke="#0a14f0"/><line x1="223.17" y1="526.52" x2="233.93" y2="534.41" stroke="#0a14f0"/><line x1="233.93" y1="534.41" x2="246.25" y2="526.82" stroke="#0a14f0"/><line x1="246.25" y1="526.82" x2="259.44" y2="533.75" stroke="#0a14f0"/><line x1="259.44" y1="533.75" x2="271.03" y2="527.26" stroke="#0a14f0"/><line x1="271.03" y1="527.26" x2="282.54" y2="533.17" stroke="#0a14f0"/><line x1="282.54" y1="533.17" x2="294.40" y2="527.96" stroke="#0a14f0"/><line x1="294.40" y1="527.96" x2="306.07" y2="534.23" stroke="#0a14f0"/><line x1="306.07" y1="534.23" x2="318.21" y2="526.52" stroke="#0a14f0"/><line x1="199.66" y1="547.66" x2="210.71" y2="540.16" stroke="#0a14f0"/><line x1="210.71" y1="540.16" x2="223.60" y2="547.45" stroke="#0a14f0"/><line x1="223.60" y1="547.45" x2="235.20" y2="541.68" stroke="#0a14f0"/><line x1="235.20" y1="541.68" x2="247.07" y2="548.26" stroke="#0a14f0"/><line x1="247.07" y1="548.26" x2="258.36" y2="541.54" stroke="#0a14f0"/><line x1="258.36" y1="541.54" x2="270.32" y2="548.28" stroke="#0a14f0"/><line x1="270.32" y1="548.28" x2="282.97" y2="540.28" stroke="#0a14f0"/><line x1="282.97" y1="540.28" x2="293.50" y2="546.99" stroke="#0a14f0"/><line x1="293.50" y1="546.99" x2="306.87" y2="540.89" stroke="#0a14f0"/><line x1="306.87" y1="540.89" x2="318.13" y2="547.14" stroke="#0a14f0"/><line x1="235.14" y1="562.97" x2="247.32" y2="556.58" stroke="#0a14f0"/><line x1="282.98" y1="569.27" x2="294.17" y2="575.80" stroke="#0a14f0"/><line x1="294.17" y1="575.80" x2="305.69" y2="567.64" stroke="#0a14f0"/><line x1="305.69" y1="567.64" x2="318.08" y2="574.06" stroke="#0a14f0"/><line x1="200.06" y1="600.34" x2="211.16" y2="592.92" stroke="#0a14f0"/><line x1="211.16" y1="592.92" x2="222.79" y2="600.44" stroke="#0a14f0"/><line x1="222.79" y1="600.44" x2="233.95" y2="594.01" stroke="#0a14f0"/><line x1="199.37" y1="606.18" x2="210.83" y2="612.66" stroke="#0a14f0"/><line x1="210.83" y1="612.66" x2="222.70" y2="606.67" stroke="#0a14f0"/><line x1="222.70" y1="606.67" x2="234.45" y2="612.78" stroke="#0a14f0"/><line x1="234.45" y1="612.78" x2="247.17" y2="605.65" stroke="#0a14f0"/><line x1="247.17" y1="605.65" x2="258.67" y2="613.42" stroke="#0a14f0"/><line x1="258.67" y1="613.42" x2="270.08" y2="606.00" stroke="#0a14f0"/><line x1="270.08" y1="606.00" x2="282.84" y2="612.53" stroke="#0a14f0"/><line x1="282.84" y1="612.53" x2="293.60" y2="606.38" stroke="#0a14f0"/><line x1="293.60" y1="606.38" x2="306.39" y2="612.28" stroke="#0a14f0"/><line x1="306.39" y1="612.28" x2="317.58" y2="606.20" stroke="#0a14f0"/><line x1="199.80" y1="625.59" x2="211.71" y2="618.60" stroke="#0a14f0"/><line x1="211.71" y1="618.60" x2="222.65" y2="625.97" stroke="#0a14f0"/><line x1="222.65" y1="625.97" x2="235.50" y2="619.11" stroke="#0a14f0"/><line x1="235.50" y1="619.11" x2="246.19" y2="625.02" stroke="#0a14f0"/><line x1="246.19" y1="625.02" x2="258.60" y2="618.64" stroke="#0a14f0"/><line x1="258.60" y1="618.64" x2="270.97" y2="626.31" stroke="#0a14f0"/><line x1="270.97" y1="626.31" x2="281.72" y2="618.80" stroke="#0a14f0"/><line x1="281.72" y1="618.80" x2="294.71" y2="625.96" stroke="#0a14f0"/><line x1="294.71" y1="625.96" x2="306.58" y2="618.92" stroke="#0a14f0"/><line x1="306.58" y1="618.92" x2="317.23" y2="625.33" stroke="#0a14f0"/><line x1="199.73" y1="631.49" x2="210.79" y2="638.25" stroke="#0a14f0"/><line x1="210.79" y1="638.25" x2="222.80" y2="631.74" stroke="#0a14f0"/><line x1="222.80" y1="631.74" x2="235.57" y2="637.78" stroke="#0a14f0"/><line x1="235.57" y1="637.78" x2="245.79" y2="632.70" stroke="#0a14f0"/><line x1="259.23" y1="639.28" x2="270.30" y2="632.71" stroke="#0a14f0"/><line x1="270.30" y1="632.71" x2="283.06" y2="637.90" stroke="#0a14f0"/><line x1="283.06" y1="637.90" x2="294.60" y2="632.51" stroke="#0a14f0"/><line x1="306.32" y1="638.43" x2="317.52" y2="631.61" stroke="#0a14f0"/><line x1="211.23" y1="644.22" x2="223.50" y2="650.28" stroke="#0a14f0"/><line x1="223.50" y1="650.28" x2="235.54" y2="644.95" stroke="#0a14f0"/><line x1="235.54" y1="644.95" x2="247.44" y2="651.81" stroke="#0a14f0"/><line x1="247.44" y1="651.81" x2="259.27" y2="644.74" stroke="#0a14f0"/><line x1="259.27" y1="644.74" x2="269.54" y2="651.54" stroke="#0a14f0"/><line x1="269.54" y1="651.54" x2="281.70" y2="644.24" stroke="#0a14f0"/><line x1="294.45" y1="651.14" x2="305.87" y2="645.39" stroke="#0a14f0"/><line x1="305.87" y1="645.39" x2="318.10" y2="650.81" stroke="#0a14f0"/><line x1="198.73" y1="527.38" x2="199.66" y2="547.66" stroke="#0a14f0"/><line x1="223.17" y1="526.52" x2="223.60" y2="547.45" stroke="#0a14f0"/><line x1="246.25" y1="526.82" x2="247.07" y2="548.26" stroke="#0a14f0"/><line x1="271.03" y1="527.26" x2="270.32" y2="548.28" stroke="#0a14f0"/><line x1="294.40" y1="527.96" x2="293.50" y2="546.99" stroke="#0a14f0"/><line x1="318.21" y1="526.52" x2="318.13" y2="547.14" stroke="#0a14f0"/><line x1="210.71" y1="540.16" x2="210.80" y2="562.35" stroke="#0a14f0"/><line x1="235.20" y1="541.68" x2="235.14" y2="562.97" stroke="#0a14f0"/><line x1="258.36" y1="541.54" x2="258.86" y2="561.59" stroke="#0a14f0"/><line x1="282.97" y1="540.28" x2="283.02" y2="562.32" stroke="#0a14f0"/><line x1="306.87" y1="540.89" x2="306.63" y2="562.33" stroke="#0a14f0"/><line x1="199.21" y1="555.49" x2="199.84" y2="575.78" stroke="#0a14f0"/><line x1="223.09" y1="556.43" x2="222.78" y2="574.27" stroke="#0a14f0"/><line x1="294.54" y1="555.18" x2="294.17" y2="575.80" stroke="#0a14f0"/><line x1="317.51" y1="554.91" x2="318.08" y2="574.06" stroke="#0a14f0"/><line x1="234.44" y1="568.88" x2="234.47" y2="588.43" stroke="#0a14f0"/><line x1="258.76" y1="567.58" x2="258.48" y2="587.64" stroke="#0a14f0"/><line x1="305.69" y1="567.64" x2="305.91" y2="588.00" stroke="#0a14f0"/><line x1="198.66" y1="580.93" x2="200.06" y2="600.34" stroke="#0a14f0"/><line x1="294.95" y1="581.11" x2="293.30" y2="599.51" stroke="#0a14f0"/><line x1="317.43" y1="580.74" x2="317.45" y2="600.22" stroke="#0a14f0"/><line x1="211.16" y1="592.92" x2="210.83" y2="612.66" stroke="#0a14f0"/><line x1="233.95" y1="594.01" x2="234.45" y2="612.78" stroke="#0a14f0"/><line x1="258.78" y1="593.74" x2="258.67" y2="613.42" stroke="#0a14f0"/><line x1="282.66" y1="594.23" x2="282.84" y2="612.53" stroke="#0a14f0"/><line x1="199.37" y1="606.18" x2="199.80" y2="625.59" stroke="#0a14f0"/><line x1="222.70" y1="606.67" x2="222.65" y2="625.97" stroke="#0a14f0"/><line x1="247.17" y1="605.65" x2="246.19" y2="625.02" stroke="#0a14f0"/><line x1="270.08" y1="606.00" x2="270.97" y2="626.31" stroke="#0a14f0"/><line x1="293.60" y1="606.38" x2="294.71" y2="625.96" stroke="#0a14f0"/><line x1="317.58" y1="606.20" x2="317.23" y2="625.33" stroke="#0a14f0"/><line x1="211.71" y1="618.60" x2="210.79" y2="638.25" stroke="#0a14f0"/><line x1="235.50" y1="619.11" x2="235.57" y2="637.78" stroke="#0a14f0"/><line x1="258.60" y1="618.64" x2="259.23" y2="639.28" stroke="#0a14f0"/><line x1="281.72" y1="618.80" x2="283.06" y2="637.90" stroke="#0a14f0"/><line x1="306.58" y1="618.92" x2="306.32" y2="638.43" stroke="#0a14f0"/><line x1="199.73" y1="631.49" x2="198.71" y2="650.32" stroke="#0a14f0"/><line x1="222.80" y1="631.74" x2="223.50" y2="650.28" stroke="#0a14f0"/><line x1="245.79" y1="632.70" x2="247.44" y2="651.81" stroke="#0a14f0"/><line x1="317.52" y1="631.61" x2="318.10" y2="650.81" stroke="#0a14f0"/><line x1="199.21" y1="555.49" x2="210.80" y2="562.35" stroke="#0050ff"/><line x1="210.80" y1="562.35" x2="223.09" y2="556.43" stroke="#0090ff"/><line x1="223.09" y1="556.43" x2="235.14" y2="562.97" stroke="#0090ff"/><line x1="247.32" y1="556.58" x2="258.86" y2="561.59" stroke="#00f0b0"/><line x1="258.86" y1="561.59" x2="271.07" y2="556.54" stroke="#0090ff"/><line x1="271.07" y1="556.54" x2="283.02" y2="562.32" stroke="#20f050"/><line x1="283.02" y1="562.32" x2="294.54" y2="555.18" stroke="#00c8ee"/><line x1="294.54" y1="555.18" x2="306.63" y2="562.33" stroke="#00c8ee"/><line x1="306.63" y1="562.33" x2="317.51" y2="554.91" stroke="#00f0b0"/><line x1="199.84" y1="575.78" x2="210.33" y2="568.94" stroke="#0090ff"/><line x1="210.33" y1="568.94" x2="222.78" y2="574.27" stroke="#20f050"/><line x1="222.78" y1="574.27" x2="234.44" y2="568.88" stroke="#20f050"/><line x1="234.44" y1="568.88" x2="247.35" y2="574.08" stroke="#90f020"/><line x1="247.35" y1="574.08" x2="258.76" y2="567.58" stroke="#00f0b0"/><line x1="258.76" y1="567.58" x2="270.81" y2="574.60" stroke="#20f050"/><line x1="270.81" y1="574.60" x2="282.98" y2="569.27" stroke="#0090ff"/><line x1="198.66" y1="580.93" x2="211.27" y2="586.98" stroke="#20f050"/><line x1="211.27" y1="586.98" x2="222.12" y2="581.76" stroke="#90f020"/><line x1="222.12" y1="581.76" x2="234.47" y2="588.43" stroke="#e0f000"/><line x1="234.47" y1="588.43" x2="240.93" y2="584.65" stroke="#e0f000"/><line x1="240.93" y1="584.65" x2="247.39" y2="580.88" stroke="#ff2000"/><line x1="247.39" y1="580.88" x2="258.48" y2="587.64" stroke="#90f020"/><line x1="258.48" y1="587.64" x2="270.68" y2="581.27" stroke="#e0f000"/><line x1="270.68" y1="581.27" x2="282.40" y2="587.82" stroke="#00f0b0"/><line x1="282.40" y1="587.82" x2="294.95" y2="581.11" stroke="#90f020"/><line x1="294.95" y1="581.11" x2="305.91" y2="588.00" stroke="#90f020"/><line x1="305.91" y1="588.00" x2="317.43" y2="580.74" stroke="#20f050"/><line x1="233.95" y1="594.01" x2="246.92" y2="599.51" stroke="#0090ff"/><line x1="246.92" y1="599.51" x2="258.78" y2="593.74" stroke="#00f0b0"/><line x1="258.78" y1="593.74" x2="270.74" y2="600.03" stroke="#0090ff"/><line x1="270.74" y1="600.03" x2="282.66" y2="594.23" stroke="#00f0b0"/><line x1="282.66" y1="594.23" x2="293.30" y2="599.51" stroke="#00c8ee"/><line x1="293.30" y1="599.51" x2="306.35" y2="594.63" stroke="#00f0b0"/><line x1="306.35" y1="594.63" x2="317.45" y2="600.22" stroke="#0090ff"/><line x1="245.79" y1="632.70" x2="259.23" y2="639.28" stroke="#0050ff"/><line x1="294.60" y1="632.51" x2="306.32" y2="638.43" stroke="#0050ff"/><line x1="198.71" y1="650.32" x2="211.23" y2="644.22" stroke="#00c8ee"/><line x1="281.70" y1="644.24" x2="294.45" y2="651.14" stroke="#0090ff"/><line x1="247.32" y1="556.58" x2="247.35" y2="574.08" stroke="#00f0b0"/><line x1="271.07" y1="556.54" x2="270.81" y2="574.60" stroke="#00f0b0"/><line x1="210.33" y1="568.94" x2="211.27" y2="586.98" stroke="#0050ff"/><line x1="282.98" y1="569.27" x2="282.40" y2="587.82" stroke="#00f0b0"/><line x1="222.12" y1="581.76" x2="222.79" y2="600.44" stroke="#0050ff"/><line x1="247.39" y1="580.88" x2="246.92" y2="599.51" stroke="#00c8ee"/><line x1="270.68" y1="581.27" x2="270.74" y2="600.03" stroke="#00c8ee"/><line x1="306.35" y1="594.63" x2="306.39" y2="612.28" stroke="#0050ff"/><line x1="270.30" y1="632.71" x2="269.54" y2="651.54" stroke="#0050ff"/><line x1="294.60" y1="632.51" x2="294.45" y2="651.14" stroke="#0090ff"/></g>
<g stroke-width="1.7" stroke-linecap="round"><line x1="345.92" y1="530.29" x2="357.55" y2="536.58" stroke="#0a14f0"/><line x1="357.55" y1="536.58" x2="368.30" y2="530.82" stroke="#0a14f0"/><line x1="368.30" y1="530.82" x2="381.17" y2="537.74" stroke="#0a14f0"/><line x1="381.17" y1="537.74" x2="392.24" y2="530.50" stroke="#0a14f0"/><line x1="392.24" y1="530.50" x2="403.17" y2="536.80" stroke="#0a14f0"/><line x1="403.17" y1="536.80" x2="413.85" y2="530.29" stroke="#0a14f0"/><line x1="413.85" y1="530.29" x2="425.27" y2="537.97" stroke="#0a14f0"/><line x1="425.27" y1="537.97" x2="437.71" y2="531.55" stroke="#0a14f0"/><line x1="437.71" y1="531.55" x2="449.00" y2="536.65" stroke="#0a14f0"/><line x1="449.00" y1="536.65" x2="459.46" y2="531.23" stroke="#0a14f0"/><line x1="346.82" y1="550.54" x2="358.42" y2="542.96" stroke="#0a14f0"/><line x1="358.42" y1="542.96" x2="369.27" y2="550.21" stroke="#0a14f0"/><line x1="369.27" y1="550.21" x2="380.43" y2="543.12" stroke="#0a14f0"/><line x1="380.43" y1="543.12" x2="391.71" y2="549.16" stroke="#0a14f0"/><line x1="391.71" y1="549.16" x2="403.88" y2="544.36" stroke="#0a14f0"/><line x1="426.52" y1="543.83" x2="437.81" y2="550.53" stroke="#0a14f0"/><line x1="437.81" y1="550.53" x2="448.48" y2="543.55" stroke="#0a14f0"/><line x1="448.48" y1="543.55" x2="459.98" y2="549.78" stroke="#0a14f0"/><line x1="345.79" y1="556.05" x2="358.30" y2="561.78" stroke="#0a14f0"/><line x1="380.02" y1="562.66" x2="391.71" y2="556.12" stroke="#0a14f0"/><line x1="345.61" y1="574.81" x2="358.22" y2="569.31" stroke="#0a14f0"/><line x1="390.94" y1="575.66" x2="403.81" y2="569.92" stroke="#0a14f0"/><line x1="424.91" y1="568.72" x2="437.96" y2="575.80" stroke="#0a14f0"/><line x1="448.30" y1="569.90" x2="460.02" y2="575.87" stroke="#0a14f0"/><line x1="346.03" y1="581.24" x2="357.64" y2="587.35" stroke="#0a14f0"/><line x1="357.64" y1="587.35" x2="368.87" y2="582.63" stroke="#0a14f0"/><line x1="380.12" y1="587.12" x2="390.94" y2="581.21" stroke="#0a14f0"/><line x1="345.57" y1="600.68" x2="357.29" y2="595.40" stroke="#0a14f0"/><line x1="368.40" y1="600.75" x2="380.91" y2="594.34" stroke="#0a14f0"/><line x1="369.85" y1="607.32" x2="381.30" y2="613.23" stroke="#0a14f0"/><line x1="381.30" y1="613.23" x2="392.48" y2="607.48" stroke="#0a14f0"/><line x1="392.48" y1="607.48" x2="403.62" y2="613.84" stroke="#0a14f0"/><line x1="403.62" y1="613.84" x2="414.43" y2="606.47" stroke="#0a14f0"/><line x1="425.26" y1="614.07" x2="437.84" y2="607.96" stroke="#0a14f0"/><line x1="437.84" y1="607.96" x2="448.17" y2="613.68" stroke="#0a14f0"/><line x1="344.47" y1="626.15" x2="358.02" y2="620.23" stroke="#0a14f0"/><line x1="358.02" y1="620.23" x2="368.66" y2="626.86" stroke="#0a14f0"/><line x1="368.66" y1="626.86" x2="381.24" y2="619.13" stroke="#0a14f0"/><line x1="381.24" y1="619.13" x2="392.61" y2="626.93" stroke="#0a14f0"/><line x1="392.61" y1="626.93" x2="403.40" y2="619.08" stroke="#0a14f0"/><line x1="403.40" y1="619.08" x2="415.16" y2="625.43" stroke="#0a14f0"/><line x1="345.89" y1="631.71" x2="358.50" y2="637.92" stroke="#0a14f0"/><line x1="358.50" y1="637.92" x2="369.76" y2="631.91" stroke="#0a14f0"/><line x1="369.76" y1="631.91" x2="380.98" y2="639.31" stroke="#0a14f0"/><line x1="380.98" y1="639.31" x2="392.44" y2="632.69" stroke="#0a14f0"/><line x1="392.44" y1="632.69" x2="403.78" y2="638.26" stroke="#0a14f0"/><line x1="403.78" y1="638.26" x2="414.75" y2="632.30" stroke="#0a14f0"/><line x1="414.75" y1="632.30" x2="426.49" y2="639.29" stroke="#0a14f0"/><line x1="347.06" y1="651.69" x2="357.09" y2="645.05" stroke="#0a14f0"/><line x1="357.09" y1="645.05" x2="369.56" y2="651.54" stroke="#0a14f0"/><line x1="369.56" y1="651.54" x2="379.54" y2="645.91" stroke="#0a14f0"/><line x1="379.54" y1="645.91" x2="392.35" y2="650.75" stroke="#0a14f0"/><line x1="392.35" y1="650.75" x2="403.18" y2="645.09" stroke="#0a14f0"/><line x1="403.18" y1="645.09" x2="414.96" y2="651.16" stroke="#0a14f0"/><line x1="414.96" y1="651.16" x2="425.30" y2="645.28" stroke="#0a14f0"/><line x1="425.30" y1="645.28" x2="437.96" y2="650.77" stroke="#0a14f0"/><line x1="437.96" y1="650.77" x2="447.77" y2="645.52" stroke="#0a14f0"/><line x1="447.77" y1="645.52" x2="460.49" y2="651.52" stroke="#0a14f0"/><line x1="345.92" y1="530.29" x2="346.82" y2="550.54" stroke="#0a14f0"/><line x1="392.24" y1="530.50" x2="391.71" y2="549.16" stroke="#0a14f0"/><line x1="358.42" y1="542.96" x2="358.30" y2="561.78" stroke="#0a14f0"/><line x1="380.43" y1="543.12" x2="380.02" y2="562.66" stroke="#0a14f0"/><line x1="448.48" y1="543.55" x2="448.14" y2="562.71" stroke="#0a14f0"/><line x1="345.79" y1="556.05" x2="345.61" y2="574.81" stroke="#0a14f0"/><line x1="368.26" y1="556.63" x2="368.61" y2="575.00" stroke="#0a14f0"/><line x1="379.84" y1="569.03" x2="380.12" y2="587.12" stroke="#0a14f0"/><line x1="403.81" y1="569.92" x2="403.61" y2="587.75" stroke="#0a14f0"/><line x1="346.03" y1="581.24" x2="345.57" y2="600.68" stroke="#0a14f0"/><line x1="368.87" y1="582.63" x2="368.40" y2="600.75" stroke="#0a14f0"/><line x1="390.94" y1="581.21" x2="392.64" y2="600.66" stroke="#0a14f0"/><line x1="436.59" y1="581.01" x2="437.72" y2="600.70" stroke="#0a14f0"/><line x1="460.12" y1="581.17" x2="459.34" y2="600.17" stroke="#0a14f0"/><line x1="380.91" y1="594.34" x2="381.30" y2="613.23" stroke="#0a14f0"/><line x1="402.64" y1="594.34" x2="403.62" y2="613.84" stroke="#0a14f0"/><line x1="392.48" y1="607.48" x2="392.61" y2="626.93" stroke="#0a14f0"/><line x1="437.84" y1="607.96" x2="436.33" y2="625.50" stroke="#0a14f0"/><line x1="381.24" y1="619.13" x2="380.98" y2="639.31" stroke="#0a14f0"/><line x1="403.40" y1="619.08" x2="403.78" y2="638.26" stroke="#0a14f0"/><line x1="369.76" y1="631.91" x2="369.56" y2="651.54" stroke="#0a14f0"/><line x1="392.44" y1="632.69" x2="392.35" y2="650.75" stroke="#0a14f0"/><line x1="414.75" y1="632.30" x2="414.96" y2="651.16" stroke="#0a14f0"/><line x1="437.07" y1="632.65" x2="437.96" y2="650.77" stroke="#0a14f0"/><line x1="403.88" y1="544.36" x2="409.20" y2="546.95" stroke="#90f020"/><line x1="409.20" y1="546.95" x2="414.53" y2="549.54" stroke="#ff8000"/><line x1="414.53" y1="549.54" x2="420.52" y2="546.69" stroke="#ff8000"/><line x1="420.52" y1="546.69" x2="426.52" y2="543.83" stroke="#e0f000"/><line x1="358.30" y1="561.78" x2="368.26" y2="556.63" stroke="#0050ff"/><line x1="368.26" y1="556.63" x2="380.02" y2="562.66" stroke="#0050ff"/><line x1="391.71" y1="556.12" x2="404.00" y2="562.05" stroke="#20f050"/><line x1="404.00" y1="562.05" x2="414.28" y2="555.86" stroke="#20f050"/><line x1="414.28" y1="555.86" x2="426.02" y2="562.20" stroke="#20f050"/><line x1="426.02" y1="562.20" x2="436.86" y2="556.84" stroke="#90f020"/><line x1="436.86" y1="556.84" x2="448.14" y2="562.71" stroke="#0090ff"/><line x1="448.14" y1="562.71" x2="460.53" y2="555.68" stroke="#0090ff"/><line x1="358.22" y1="569.31" x2="368.61" y2="575.00" stroke="#0050ff"/><line x1="368.61" y1="575.00" x2="379.84" y2="569.03" stroke="#0050ff"/><line x1="379.84" y1="569.03" x2="390.94" y2="575.66" stroke="#00c8ee"/><line x1="403.81" y1="569.92" x2="414.86" y2="576.13" stroke="#00c8ee"/><line x1="414.86" y1="576.13" x2="424.91" y2="568.72" stroke="#20f050"/><line x1="437.96" y1="575.80" x2="448.30" y2="569.90" stroke="#20f050"/><line x1="368.87" y1="582.63" x2="380.12" y2="587.12" stroke="#00c8ee"/><line x1="390.94" y1="581.21" x2="403.61" y2="587.75" stroke="#0090ff"/><line x1="403.61" y1="587.75" x2="414.06" y2="581.07" stroke="#00c8ee"/><line x1="414.06" y1="581.07" x2="426.65" y2="587.86" stroke="#00c8ee"/><line x1="426.65" y1="587.86" x2="436.59" y2="581.01" stroke="#0090ff"/><line x1="436.59" y1="581.01" x2="447.66" y2="587.40" stroke="#00c8ee"/><line x1="447.66" y1="587.40" x2="460.12" y2="581.17" stroke="#0090ff"/><line x1="357.29" y1="595.40" x2="368.40" y2="600.75" stroke="#00c8ee"/><line x1="380.91" y1="594.34" x2="392.64" y2="600.66" stroke="#0090ff"/><line x1="392.64" y1="600.66" x2="402.64" y2="594.34" stroke="#00c8ee"/><line x1="402.64" y1="594.34" x2="413.61" y2="600.56" stroke="#0090ff"/><line x1="413.61" y1="600.56" x2="425.33" y2="595.20" stroke="#e0f000"/><line x1="425.33" y1="595.20" x2="437.72" y2="600.70" stroke="#20f050"/><line x1="437.72" y1="600.70" x2="447.62" y2="594.06" stroke="#e0f000"/><line x1="447.62" y1="594.06" x2="459.34" y2="600.17" stroke="#0090ff"/><line x1="345.92" y1="607.87" x2="357.10" y2="612.59" stroke="#0090ff"/><line x1="357.10" y1="612.59" x2="369.85" y2="607.32" stroke="#0090ff"/><line x1="414.43" y1="606.47" x2="425.26" y2="614.07" stroke="#00f0b0"/><line x1="448.17" y1="613.68" x2="460.34" y2="607.46" stroke="#00f0b0"/><line x1="415.16" y1="625.43" x2="426.62" y2="620.20" stroke="#20f050"/><line x1="426.62" y1="620.20" x2="436.33" y2="625.50" stroke="#0050ff"/><line x1="436.33" y1="625.50" x2="448.70" y2="620.02" stroke="#00c8ee"/><line x1="448.70" y1="620.02" x2="460.24" y2="626.87" stroke="#20f050"/><line x1="426.49" y1="639.29" x2="437.07" y2="632.65" stroke="#20f050"/><line x1="437.07" y1="632.65" x2="447.61" y2="637.96" stroke="#90f020"/><line x1="447.61" y1="637.96" x2="459.97" y2="632.58" stroke="#0090ff"/><line x1="368.30" y1="530.82" x2="369.27" y2="550.21" stroke="#0090ff"/><line x1="413.85" y1="530.29" x2="414.53" y2="549.54" stroke="#0090ff"/><line x1="437.71" y1="531.55" x2="437.81" y2="550.53" stroke="#0050ff"/><line x1="459.46" y1="531.23" x2="459.98" y2="549.78" stroke="#00f0b0"/><line x1="403.88" y1="544.36" x2="404.00" y2="562.05" stroke="#00c8ee"/><line x1="426.52" y1="543.83" x2="426.02" y2="562.20" stroke="#20f050"/><line x1="391.71" y1="556.12" x2="390.94" y2="575.66" stroke="#00f0b0"/><line x1="414.28" y1="555.86" x2="414.86" y2="576.13" stroke="#0050ff"/><line x1="436.86" y1="556.84" x2="437.96" y2="575.80" stroke="#20f050"/><line x1="460.53" y1="555.68" x2="460.02" y2="575.87" stroke="#0050ff"/><line x1="358.22" y1="569.31" x2="357.64" y2="587.35" stroke="#0090ff"/><line x1="424.91" y1="568.72" x2="426.65" y2="587.86" stroke="#00c8ee"/><line x1="448.30" y1="569.90" x2="447.66" y2="587.40" stroke="#00c8ee"/><line x1="414.06" y1="581.07" x2="413.61" y2="600.56" stroke="#00f0b0"/><line x1="357.29" y1="595.40" x2="357.10" y2="612.59" stroke="#00c8ee"/><line x1="425.33" y1="595.20" x2="425.26" y2="614.07" stroke="#00f0b0"/><line x1="447.62" y1="594.06" x2="448.17" y2="613.68" stroke="#20f050"/><line x1="345.92" y1="607.87" x2="344.47" y2="626.15" stroke="#0090ff"/><line x1="369.85" y1="607.32" x2="368.66" y2="626.86" stroke="#0090ff"/><line x1="414.43" y1="606.47" x2="415.16" y2="625.43" stroke="#20f050"/><line x1="460.34" y1="607.46" x2="460.24" y2="626.87" stroke="#00c8ee"/><line x1="358.02" y1="620.23" x2="358.50" y2="637.92" stroke="#0090ff"/><line x1="426.62" y1="620.20" x2="426.49" y2="639.29" stroke="#00f0b0"/><line x1="448.70" y1="620.02" x2="447.61" y2="637.96" stroke="#00c8ee"/><line x1="345.89" y1="631.71" x2="347.06" y2="651.69" stroke="#00f0b0"/><line x1="459.97" y1="632.58" x2="460.49" y2="651.52" stroke="#00c8ee"/></g>
<rect x="207.50" y="669.9" width="8.8" height="11.7" fill="#0000ff"/>
<rect x="351.20" y="669.8" width="8.8" height="11.8" fill="#0000ff"/>
<rect x="216.03" y="669.9" width="8.8" height="11.7" fill="#0055ff"/>
<rect x="359.75" y="669.8" width="8.8" height="11.8" fill="#0055ff"/>
<rect x="224.55" y="669.9" width="8.8" height="11.7" fill="#00aaff"/>
<rect x="368.30" y="669.8" width="8.8" height="11.8" fill="#00aaff"/>
<rect x="233.07" y="669.9" width="8.8" height="11.7" fill="#00ffee"/>
<rect x="376.85" y="669.8" width="8.8" height="11.8" fill="#00ffee"/>
<rect x="241.60" y="669.9" width="8.8" height="11.7" fill="#00ff99"/>
<rect x="385.40" y="669.8" width="8.8" height="11.8" fill="#00ff99"/>
<rect x="250.12" y="669.9" width="8.8" height="11.7" fill="#00ff44"/>
<rect x="393.95" y="669.8" width="8.8" height="11.8" fill="#00ff44"/>
<rect x="258.65" y="669.9" width="8.8" height="11.7" fill="#2aff00"/>
<rect x="402.50" y="669.8" width="8.8" height="11.8" fill="#2aff00"/>
<rect x="267.18" y="669.9" width="8.8" height="11.7" fill="#88ff00"/>
<rect x="411.05" y="669.8" width="8.8" height="11.8" fill="#88ff00"/>
<rect x="275.70" y="669.9" width="8.8" height="11.7" fill="#e0ff00"/>
<rect x="419.60" y="669.8" width="8.8" height="11.8" fill="#e0ff00"/>
<rect x="284.23" y="669.9" width="8.8" height="11.7" fill="#ffaa00"/>
<rect x="428.15" y="669.8" width="8.8" height="11.8" fill="#ffaa00"/>
<rect x="292.75" y="669.9" width="8.8" height="11.7" fill="#ff5500"/>
<rect x="436.70" y="669.8" width="8.8" height="11.8" fill="#ff5500"/>
<rect x="301.27" y="669.9" width="8.8" height="11.7" fill="#ff0000"/>
<rect x="445.25" y="669.8" width="8.8" height="11.8" fill="#ff0000"/>
<text transform="translate(207.2,692.8) scale(1.144,1)" font-size="12.8" text-anchor="start" fill="#111">0</text>
<text transform="translate(310.3,692.8) scale(1.144,1)" font-size="12.8" text-anchor="end" fill="#111">2.65</text>
<text transform="translate(350.9,692.8) scale(1.144,1)" font-size="12.8" text-anchor="start" fill="#111">0</text>
<text transform="translate(454.1,692.8) scale(1.144,1)" font-size="12.8" text-anchor="end" fill="#111">0.85</text>
<text transform="translate(133,684.8) scale(1.08,1)" font-size="11.4" fill="#111"><tspan font-style="italic">S</tspan><tspan font-size="8" font-style="italic" dy="2.5">Mises</tspan><tspan dy="-2.5"> [MPa]</tspan></text>
<text x="477.6" y="322.6" font-size="15.5" font-weight="bold" fill="#000">e.</text>
<rect x="499.9" y="324.8" width="184" height="45" fill="#fff" stroke="#111" stroke-width="1.6"/>
<rect x="508.9" y="329.9" width="16.2" height="15.9" fill="#64aad8"/>
<rect x="508.9" y="348.8" width="16.2" height="16" fill="#b80e3e"/>
<text x="529.8" y="341.2" font-size="9.5" text-anchor="start" fill="#111" >Multi-material</text>
<text x="529.8" y="358.8" font-size="9.5" text-anchor="start" fill="#111" >Equivalent homogeneous material</text>
<rect x="537.5" y="381.2" width="114.10000000000002" height="119.10000000000002" fill="#fff" stroke="#666" stroke-width="1"/>
<line x1="594.6" y1="381.2" x2="594.6" y2="383.2" stroke="#333" stroke-width="0.8"/>
<line x1="594.6" y1="500.3" x2="594.6" y2="498.3" stroke="#333" stroke-width="0.8"/>
<line x1="537.5" y1="440.75" x2="539.5" y2="440.75" stroke="#333" stroke-width="0.8"/>
<line x1="651.6" y1="440.75" x2="649.6" y2="440.75" stroke="#333" stroke-width="0.8"/>
<ellipse cx="596" cy="439.8" rx="59" ry="18.5" transform="rotate(37.5 596 439.8)" fill="rgba(200,30,70,0.32)" stroke="#c4124a" stroke-width="1.2"/>
<ellipse cx="595" cy="440.3" rx="20" ry="9.6" transform="rotate(14 595 440.3)" fill="rgba(100,130,210,0.4)" stroke="#6680c0" stroke-width="1.1"/>
<circle cx="588.8" cy="437.0" r="2.1" fill="rgba(120,165,220,0.35)"/><circle cx="575.9" cy="424.3" r="2.1" fill="rgba(200,10,60,0.5)"/><circle cx="587.9" cy="414.6" r="2.1" fill="rgba(200,10,60,0.5)"/><circle cx="599.4" cy="441.7" r="2.1" fill="rgba(200,10,60,0.5)"/><circle cx="579.0" cy="444.0" r="2.1" fill="rgba(120,165,220,0.35)"/><circle cx="619.2" cy="441.3" r="2.1" fill="rgba(200,10,60,0.5)"/><circle cx="598.3" cy="440.6" r="2.1" fill="rgba(200,10,60,0.5)"/><circle cx="577.3" cy="444.3" r="2.1" fill="rgba(120,165,220,0.35)"/><circle cx="601.5" cy="437.1" r="2.1" fill="rgba(120,165,220,0.35)"/><circle cx="606.3" cy="443.9" r="2.1" fill="rgba(120,165,220,0.35)"/><circle cx="568.5" cy="417.3" r="2.1" fill="rgba(200,10,60,0.5)"/><circle cx="618.0" cy="456.8" r="2.1" fill="rgba(200,10,60,0.5)"/><circle cx="611.0" cy="457.0" r="2.1" fill="rgba(200,10,60,0.5)"/><circle cx="589.7" cy="428.6" r="2.1" fill="rgba(120,165,220,0.35)"/><circle cx="607.4" cy="460.5" r="2.1" fill="rgba(200,10,60,0.5)"/><circle cx="583.0" cy="447.0" r="2.1" fill="rgba(200,10,60,0.5)"/><circle cx="595.3" cy="440.1" r="2.1" fill="rgba(200,10,60,0.5)"/><circle cx="614.7" cy="461.4" r="2.1" fill="rgba(200,10,60,0.5)"/><circle cx="595.6" cy="439.1" r="2.1" fill="rgba(200,10,60,0.5)"/><circle cx="609.5" cy="459.1" r="2.1" fill="rgba(200,10,60,0.5)"/><circle cx="576.1" cy="422.8" r="2.1" fill="rgba(200,10,60,0.5)"/><circle cx="603.0" cy="437.4" r="2.1" fill="rgba(200,10,60,0.5)"/><circle cx="594.7" cy="435.8" r="2.1" fill="rgba(200,10,60,0.5)"/><circle cx="618.2" cy="438.9" r="2.1" fill="rgba(200,10,60,0.5)"/><circle cx="595.3" cy="441.4" r="2.1" fill="rgba(200,10,60,0.5)"/><circle cx="588.1" cy="441.7" r="2.1" fill="rgba(120,165,220,0.35)"/><circle cx="588.8" cy="447.1" r="2.1" fill="rgba(120,165,220,0.35)"/><circle cx="598.8" cy="435.1" r="2.1" fill="rgba(200,10,60,0.5)"/><circle cx="591.6" cy="434.9" r="2.1" fill="rgba(120,165,220,0.35)"/><circle cx="568.0" cy="418.3" r="2.1" fill="rgba(200,10,60,0.5)"/><circle cx="593.9" cy="433.9" r="2.1" fill="rgba(120,165,220,0.35)"/><circle cx="595.0" cy="441.3" r="2.1" fill="rgba(120,165,220,0.35)"/><circle cx="610.2" cy="461.5" r="2.1" fill="rgba(200,10,60,0.5)"/><circle cx="602.5" cy="435.5" r="2.1" fill="rgba(200,10,60,0.5)"/><circle cx="622.3" cy="464.6" r="2.1" fill="rgba(200,10,60,0.5)"/><circle cx="608.2" cy="467.0" r="2.1" fill="rgba(200,10,60,0.5)"/><circle cx="627.5" cy="457.9" r="2.1" fill="rgba(200,10,60,0.5)"/><circle cx="610.7" cy="457.2" r="2.1" fill="rgba(200,10,60,0.5)"/><circle cx="604.1" cy="432.2" r="2.1" fill="rgba(120,165,220,0.35)"/><circle cx="597.1" cy="445.5" r="2.1" fill="rgba(120,165,220,0.35)"/><circle cx="601.9" cy="444.9" r="2.1" fill="rgba(120,165,220,0.35)"/><circle cx="579.8" cy="433.1" r="2.1" fill="rgba(120,165,220,0.35)"/><circle cx="581.7" cy="419.0" r="2.1" fill="rgba(200,10,60,0.5)"/><circle cx="564.9" cy="440.0" r="2.1" fill="rgba(200,10,60,0.5)"/><circle cx="566.5" cy="416.2" r="2.1" fill="rgba(200,10,60,0.5)"/><circle cx="600.1" cy="440.6" r="2.1" fill="rgba(200,10,60,0.5)"/><circle cx="579.0" cy="452.0" r="2.1" fill="rgba(210,60,110,0.3)"/><circle cx="605.0" cy="432.0" r="2.1" fill="rgba(200,10,60,0.5)"/><circle cx="594.0" cy="440.4" r="2.1" fill="rgba(200,10,60,0.5)"/><circle cx="588.1" cy="449.3" r="2.1" fill="rgba(120,165,220,0.35)"/><circle cx="594.8" cy="436.2" r="2.1" fill="rgba(200,10,60,0.5)"/><circle cx="568.6" cy="423.5" r="2.1" fill="rgba(200,10,60,0.5)"/><circle cx="588.5" cy="415.8" r="2.1" fill="rgba(200,10,60,0.5)"/><circle cx="594.1" cy="443.5" r="2.1" fill="rgba(120,165,220,0.35)"/><circle cx="625.9" cy="463.2" r="2.1" fill="rgba(200,10,60,0.5)"/><circle cx="590.2" cy="444.4" r="2.1" fill="rgba(200,10,60,0.5)"/><circle cx="597.2" cy="443.0" r="2.1" fill="rgba(200,10,60,0.5)"/><circle cx="601.9" cy="430.1" r="2.1" fill="rgba(120,165,220,0.35)"/><circle cx="608.0" cy="444.7" r="2.1" fill="rgba(120,165,220,0.35)"/><circle cx="571.9" cy="415.6" r="2.1" fill="rgba(200,10,60,0.5)"/><circle cx="598.0" cy="445.5" r="2.1" fill="rgba(120,165,220,0.35)"/><circle cx="618.7" cy="434.2" r="2.1" fill="rgba(200,10,60,0.5)"/><circle cx="603.8" cy="437.5" r="2.1" fill="rgba(200,10,60,0.5)"/><circle cx="621.4" cy="463.1" r="2.1" fill="rgba(200,10,60,0.5)"/><circle cx="607.0" cy="441.8" r="2.1" fill="rgba(120,165,220,0.35)"/><circle cx="612.0" cy="446.0" r="2.1" fill="rgba(200,10,60,0.5)"/><circle cx="578.5" cy="420.1" r="2.1" fill="rgba(200,10,60,0.5)"/><circle cx="594.3" cy="442.6" r="2.1" fill="rgba(200,10,60,0.5)"/><circle cx="584.2" cy="435.8" r="2.1" fill="rgba(200,10,60,0.5)"/><circle cx="566.8" cy="417.4" r="2.1" fill="rgba(200,10,60,0.5)"/><circle cx="623.1" cy="464.8" r="2.1" fill="rgba(200,10,60,0.5)"/><circle cx="589.8" cy="440.9" r="2.1" fill="rgba(200,10,60,0.5)"/><circle cx="574.3" cy="421.8" r="2.1" fill="rgba(200,10,60,0.5)"/><circle cx="608.2" cy="459.8" r="2.1" fill="rgba(200,10,60,0.5)"/><circle cx="617.4" cy="462.1" r="2.1" fill="rgba(200,10,60,0.5)"/><circle cx="610.5" cy="460.4" r="2.1" fill="rgba(200,10,60,0.5)"/><circle cx="607.4" cy="443.8" r="2.1" fill="rgba(200,10,60,0.5)"/><circle cx="613.5" cy="440.1" r="2.1" fill="rgba(120,165,220,0.35)"/><circle cx="600.9" cy="440.4" r="2.1" fill="rgba(200,10,60,0.5)"/><circle cx="623.6" cy="464.2" r="2.1" fill="rgba(200,10,60,0.5)"/><circle cx="574.2" cy="417.4" r="2.1" fill="rgba(200,10,60,0.5)"/><circle cx="577.0" cy="433.0" r="2.1" fill="rgba(200,10,60,0.5)"/><circle cx="588.2" cy="438.3" r="2.1" fill="rgba(120,165,220,0.35)"/><circle cx="572.1" cy="416.6" r="2.1" fill="rgba(200,10,60,0.5)"/><circle cx="584.6" cy="417.6" r="2.1" fill="rgba(200,10,60,0.5)"/><circle cx="597.1" cy="440.0" r="2.1" fill="rgba(200,10,60,0.5)"/><circle cx="624.0" cy="439.6" r="2.1" fill="rgba(200,10,60,0.5)"/><circle cx="619.4" cy="465.0" r="2.1" fill="rgba(200,10,60,0.5)"/><circle cx="571.8" cy="421.4" r="2.1" fill="rgba(200,10,60,0.5)"/><circle cx="625.3" cy="463.0" r="2.1" fill="rgba(200,10,60,0.5)"/><circle cx="574.0" cy="417.0" r="2.1" fill="rgba(200,10,60,0.5)"/><circle cx="593.4" cy="439.6" r="2.1" fill="rgba(200,10,60,0.5)"/><circle cx="627.0" cy="463.9" r="2.1" fill="rgba(200,10,60,0.5)"/><circle cx="606.0" cy="436.4" r="2.1" fill="rgba(120,165,220,0.35)"/><circle cx="626.0" cy="460.1" r="2.1" fill="rgba(200,10,60,0.5)"/><circle cx="584.3" cy="437.1" r="2.1" fill="rgba(120,165,220,0.35)"/><circle cx="572.0" cy="417.5" r="2.1" fill="rgba(200,10,60,0.5)"/><circle cx="620.6" cy="442.7" r="2.1" fill="rgba(200,10,60,0.5)"/><circle cx="577.1" cy="423.2" r="2.1" fill="rgba(200,10,60,0.5)"/><circle cx="620.3" cy="464.5" r="2.1" fill="rgba(200,10,60,0.5)"/><circle cx="567.2" cy="417.8" r="2.1" fill="rgba(200,10,60,0.5)"/><circle cx="596.6" cy="443.4" r="2.1" fill="rgba(120,165,220,0.35)"/><circle cx="589.9" cy="426.3" r="2.1" fill="rgba(200,10,60,0.5)"/><circle cx="630.6" cy="426.3" r="2.1" fill="rgba(210,60,110,0.3)"/><circle cx="598.2" cy="439.9" r="2.1" fill="rgba(200,10,60,0.5)"/><circle cx="595.0" cy="436.7" r="2.1" fill="rgba(200,10,60,0.5)"/><circle cx="593.8" cy="435.6" r="2.1" fill="rgba(120,165,220,0.35)"/><circle cx="570.0" cy="437.0" r="2.1" fill="rgba(200,10,60,0.5)"/><circle cx="572.7" cy="417.0" r="2.1" fill="rgba(200,10,60,0.5)"/><circle cx="589.0" cy="421.5" r="2.1" fill="rgba(200,10,60,0.5)"/><circle cx="621.0" cy="436.8" r="2.1" fill="rgba(200,10,60,0.5)"/><circle cx="600.1" cy="437.6" r="2.1" fill="rgba(200,10,60,0.5)"/><circle cx="573.4" cy="419.1" r="2.1" fill="rgba(200,10,60,0.5)"/><circle cx="587.6" cy="436.4" r="2.1" fill="rgba(120,165,220,0.35)"/><circle cx="572.6" cy="416.9" r="2.1" fill="rgba(200,10,60,0.5)"/><circle cx="617.7" cy="461.6" r="2.1" fill="rgba(200,10,60,0.5)"/><circle cx="602.0" cy="451.0" r="2.1" fill="rgba(210,60,110,0.3)"/><circle cx="625.7" cy="464.2" r="2.1" fill="rgba(200,10,60,0.5)"/><circle cx="595.0" cy="440.8" r="2.1" fill="rgba(200,10,60,0.5)"/><circle cx="595.0" cy="440.8" r="2.1" fill="rgba(200,10,60,0.5)"/><circle cx="625.4" cy="461.7" r="2.1" fill="rgba(200,10,60,0.5)"/><circle cx="588.4" cy="437.3" r="2.1" fill="rgba(200,10,60,0.5)"/><circle cx="560.9" cy="444.0" r="2.1" fill="rgba(200,10,60,0.5)"/><circle cx="618.6" cy="463.9" r="2.1" fill="rgba(200,10,60,0.5)"/><circle cx="569.9" cy="417.0" r="2.1" fill="rgba(200,10,60,0.5)"/><circle cx="625.8" cy="460.1" r="2.1" fill="rgba(200,10,60,0.5)"/><circle cx="588.5" cy="440.9" r="2.1" fill="rgba(120,165,220,0.35)"/><circle cx="612.9" cy="460.6" r="2.1" fill="rgba(200,10,60,0.5)"/><circle cx="578.8" cy="418.4" r="2.1" fill="rgba(200,10,60,0.5)"/><circle cx="583.3" cy="421.4" r="2.1" fill="rgba(200,10,60,0.5)"/><circle cx="615.0" cy="463.3" r="2.1" fill="rgba(200,10,60,0.5)"/><circle cx="590.7" cy="447.6" r="2.1" fill="rgba(120,165,220,0.35)"/>
<text x="534.6" y="385.7" font-size="12.3" text-anchor="end" fill="#262626" >2</text>
<text x="534.6" y="445.2" font-size="12.3" text-anchor="end" fill="#262626" >0</text>
<text x="534.6" y="504.8" font-size="12.3" text-anchor="end" fill="#262626" >-2</text>
<text x="537.5" y="514.8" font-size="12.3" text-anchor="middle" fill="#262626" >-3</text>
<text x="594.6" y="514.8" font-size="12.3" text-anchor="middle" fill="#262626" >0</text>
<text x="651.6" y="514.8" font-size="12.3" text-anchor="middle" fill="#262626" >3</text>
<text transform="translate(516.2,444.2) rotate(-90)" font-size="11.65" text-anchor="middle" fill="#262626" xml:space="preserve"><tspan>S</tspan><tspan font-size="8.5" font-style="italic" dy="2.2">11</tspan><tspan dy="-2.2">  [MPa] @ </tspan><tspan font-style="italic">ε</tspan><tspan font-size="8.5" font-style="italic" dy="2.2">22</tspan><tspan dy="-2.2"> = 3%</tspan></text>
<rect x="537.5" y="530.1" width="114.10000000000002" height="119.10000000000002" fill="#fff" stroke="#666" stroke-width="1"/>
<line x1="594.6" y1="530.1" x2="594.6" y2="532.1" stroke="#333" stroke-width="0.8"/>
<line x1="594.6" y1="649.2" x2="594.6" y2="647.2" stroke="#333" stroke-width="0.8"/>
<line x1="537.5" y1="589.65" x2="539.5" y2="589.65" stroke="#333" stroke-width="0.8"/>
<line x1="651.6" y1="589.65" x2="649.6" y2="589.65" stroke="#333" stroke-width="0.8"/>
<ellipse cx="596" cy="588.7" rx="59" ry="18.5" transform="rotate(37.5 596 588.7)" fill="rgba(200,30,70,0.32)" stroke="#c4124a" stroke-width="1.2"/>
<ellipse cx="594.6" cy="588" rx="29" ry="13.5" transform="rotate(14 594.6 588)" fill="rgba(100,130,210,0.4)" stroke="#6680c0" stroke-width="1.1"/>
<circle cx="572.2" cy="565.5" r="2.1" fill="rgba(200,10,60,0.5)"/><circle cx="566.1" cy="565.7" r="2.1" fill="rgba(200,10,60,0.5)"/><circle cx="575.8" cy="574.4" r="2.1" fill="rgba(200,10,60,0.5)"/><circle cx="567.9" cy="565.8" r="2.1" fill="rgba(200,10,60,0.5)"/><circle cx="622.3" cy="606.0" r="2.1" fill="rgba(200,10,60,0.5)"/><circle cx="580.4" cy="588.3" r="2.1" fill="rgba(200,10,60,0.5)"/><circle cx="559.9" cy="584.7" r="2.1" fill="rgba(110,175,230,0.55)"/><circle cx="627.1" cy="604.9" r="2.1" fill="rgba(200,10,60,0.5)"/><circle cx="595.0" cy="591.5" r="2.1" fill="rgba(120,165,220,0.35)"/><circle cx="595.0" cy="597.2" r="2.1" fill="rgba(120,165,220,0.35)"/><circle cx="577.0" cy="581.9" r="2.1" fill="rgba(200,10,60,0.5)"/><circle cx="592.4" cy="593.0" r="2.1" fill="rgba(120,165,220,0.35)"/><circle cx="608.4" cy="573.8" r="2.1" fill="rgba(110,175,230,0.55)"/><circle cx="612.5" cy="587.9" r="2.1" fill="rgba(120,165,220,0.35)"/><circle cx="618.2" cy="613.3" r="2.1" fill="rgba(200,10,60,0.5)"/><circle cx="595.9" cy="595.6" r="2.1" fill="rgba(120,165,220,0.35)"/><circle cx="615.9" cy="587.1" r="2.1" fill="rgba(200,10,60,0.5)"/><circle cx="589.6" cy="590.9" r="2.1" fill="rgba(200,10,60,0.5)"/><circle cx="615.2" cy="613.1" r="2.1" fill="rgba(200,10,60,0.5)"/><circle cx="585.8" cy="570.9" r="2.1" fill="rgba(200,10,60,0.5)"/><circle cx="600.2" cy="593.3" r="2.1" fill="rgba(200,10,60,0.5)"/><circle cx="586.8" cy="590.7" r="2.1" fill="rgba(200,10,60,0.5)"/><circle cx="596.0" cy="582.4" r="2.1" fill="rgba(120,165,220,0.35)"/><circle cx="613.2" cy="580.1" r="2.1" fill="rgba(120,165,220,0.35)"/><circle cx="614.1" cy="609.0" r="2.1" fill="rgba(200,10,60,0.5)"/><circle cx="619.9" cy="586.7" r="2.1" fill="rgba(200,10,60,0.5)"/><circle cx="621.0" cy="608.7" r="2.1" fill="rgba(200,10,60,0.5)"/><circle cx="616.8" cy="609.5" r="2.1" fill="rgba(200,10,60,0.5)"/><circle cx="627.5" cy="611.6" r="2.1" fill="rgba(200,10,60,0.5)"/><circle cx="598.0" cy="585.4" r="2.1" fill="rgba(120,165,220,0.35)"/><circle cx="583.6" cy="593.2" r="2.1" fill="rgba(120,165,220,0.35)"/><circle cx="625.3" cy="607.7" r="2.1" fill="rgba(200,10,60,0.5)"/><circle cx="603.2" cy="596.1" r="2.1" fill="rgba(120,165,220,0.35)"/><circle cx="623.1" cy="613.0" r="2.1" fill="rgba(200,10,60,0.5)"/><circle cx="589.7" cy="590.1" r="2.1" fill="rgba(200,10,60,0.5)"/><circle cx="598.3" cy="587.5" r="2.1" fill="rgba(200,10,60,0.5)"/><circle cx="566.8" cy="566.3" r="2.1" fill="rgba(200,10,60,0.5)"/><circle cx="598.3" cy="588.0" r="2.1" fill="rgba(200,10,60,0.5)"/><circle cx="620.9" cy="613.2" r="2.1" fill="rgba(200,10,60,0.5)"/><circle cx="594.9" cy="591.0" r="2.1" fill="rgba(200,10,60,0.5)"/><circle cx="613.7" cy="586.3" r="2.1" fill="rgba(200,10,60,0.5)"/><circle cx="570.0" cy="585.9" r="2.1" fill="rgba(200,10,60,0.5)"/><circle cx="575.0" cy="565.4" r="2.1" fill="rgba(200,10,60,0.5)"/><circle cx="589.3" cy="571.2" r="2.1" fill="rgba(200,10,60,0.5)"/><circle cx="603.5" cy="589.7" r="2.1" fill="rgba(120,165,220,0.35)"/><circle cx="599.6" cy="589.7" r="2.1" fill="rgba(200,10,60,0.5)"/><circle cx="618.1" cy="613.0" r="2.1" fill="rgba(200,10,60,0.5)"/><circle cx="609.1" cy="596.5" r="2.1" fill="rgba(120,165,220,0.35)"/><circle cx="566.8" cy="567.0" r="2.1" fill="rgba(200,10,60,0.5)"/><circle cx="592.9" cy="594.6" r="2.1" fill="rgba(200,10,60,0.5)"/><circle cx="644.5" cy="597.0" r="2.1" fill="rgba(110,175,230,0.55)"/><circle cx="585.4" cy="580.2" r="2.1" fill="rgba(120,165,220,0.35)"/><circle cx="618.0" cy="590.9" r="2.1" fill="rgba(200,10,60,0.5)"/><circle cx="589.5" cy="569.2" r="2.1" fill="rgba(200,10,60,0.5)"/><circle cx="583.0" cy="595.9" r="2.1" fill="rgba(200,10,60,0.5)"/><circle cx="611.2" cy="578.9" r="2.1" fill="rgba(120,165,220,0.35)"/><circle cx="576.2" cy="567.5" r="2.1" fill="rgba(200,10,60,0.5)"/><circle cx="601.4" cy="588.4" r="2.1" fill="rgba(200,10,60,0.5)"/><circle cx="617.4" cy="604.9" r="2.1" fill="rgba(200,10,60,0.5)"/><circle cx="597.9" cy="583.7" r="2.1" fill="rgba(200,10,60,0.5)"/><circle cx="578.0" cy="572.0" r="2.1" fill="rgba(200,10,60,0.5)"/><circle cx="625.7" cy="610.5" r="2.1" fill="rgba(200,10,60,0.5)"/><circle cx="572.4" cy="569.3" r="2.1" fill="rgba(200,10,60,0.5)"/><circle cx="618.7" cy="588.7" r="2.1" fill="rgba(200,10,60,0.5)"/><circle cx="598.1" cy="582.3" r="2.1" fill="rgba(120,165,220,0.35)"/><circle cx="620.3" cy="613.6" r="2.1" fill="rgba(200,10,60,0.5)"/><circle cx="606.9" cy="590.3" r="2.1" fill="rgba(120,165,220,0.35)"/><circle cx="602.0" cy="603.4" r="2.1" fill="rgba(120,165,220,0.35)"/><circle cx="597.7" cy="591.6" r="2.1" fill="rgba(200,10,60,0.5)"/><circle cx="570.8" cy="573.6" r="2.1" fill="rgba(200,10,60,0.5)"/><circle cx="620.4" cy="608.4" r="2.1" fill="rgba(200,10,60,0.5)"/><circle cx="576.7" cy="570.0" r="2.1" fill="rgba(200,10,60,0.5)"/><circle cx="599.8" cy="588.5" r="2.1" fill="rgba(200,10,60,0.5)"/><circle cx="583.0" cy="571.9" r="2.1" fill="rgba(200,10,60,0.5)"/><circle cx="592.4" cy="593.8" r="2.1" fill="rgba(120,165,220,0.35)"/><circle cx="586.7" cy="590.9" r="2.1" fill="rgba(120,165,220,0.35)"/><circle cx="574.8" cy="592.4" r="2.1" fill="rgba(110,175,230,0.55)"/><circle cx="566.2" cy="567.1" r="2.1" fill="rgba(200,10,60,0.5)"/><circle cx="592.8" cy="587.4" r="2.1" fill="rgba(200,10,60,0.5)"/><circle cx="604.1" cy="588.4" r="2.1" fill="rgba(200,10,60,0.5)"/><circle cx="580.3" cy="588.5" r="2.1" fill="rgba(200,10,60,0.5)"/><circle cx="625.6" cy="610.5" r="2.1" fill="rgba(200,10,60,0.5)"/><circle cx="596.6" cy="589.1" r="2.1" fill="rgba(120,165,220,0.35)"/><circle cx="591.7" cy="588.9" r="2.1" fill="rgba(200,10,60,0.5)"/><circle cx="618.2" cy="591.7" r="2.1" fill="rgba(200,10,60,0.5)"/><circle cx="630.3" cy="589.8" r="2.1" fill="rgba(110,175,230,0.55)"/><circle cx="621.0" cy="613.2" r="2.1" fill="rgba(200,10,60,0.5)"/><circle cx="618.6" cy="586.2" r="2.1" fill="rgba(200,10,60,0.5)"/><circle cx="560.9" cy="592.9" r="2.1" fill="rgba(200,10,60,0.5)"/><circle cx="573.9" cy="581.0" r="2.1" fill="rgba(120,165,220,0.35)"/><circle cx="611.7" cy="587.9" r="2.1" fill="rgba(120,165,220,0.35)"/><circle cx="584.4" cy="594.1" r="2.1" fill="rgba(120,165,220,0.35)"/><circle cx="619.3" cy="613.9" r="2.1" fill="rgba(200,10,60,0.5)"/><circle cx="588.5" cy="564.7" r="2.1" fill="rgba(200,10,60,0.5)"/><circle cx="618.6" cy="612.8" r="2.1" fill="rgba(200,10,60,0.5)"/><circle cx="621.7" cy="608.5" r="2.1" fill="rgba(200,10,60,0.5)"/><circle cx="612.0" cy="594.9" r="2.1" fill="rgba(200,10,60,0.5)"/><circle cx="581.8" cy="589.4" r="2.1" fill="rgba(120,165,220,0.35)"/><circle cx="589.7" cy="571.6" r="2.1" fill="rgba(200,10,60,0.5)"/><circle cx="576.5" cy="566.7" r="2.1" fill="rgba(200,10,60,0.5)"/><circle cx="588.0" cy="588.9" r="2.1" fill="rgba(200,10,60,0.5)"/><circle cx="612.6" cy="579.5" r="2.1" fill="rgba(120,165,220,0.35)"/><circle cx="600.8" cy="604.8" r="2.1" fill="rgba(120,165,220,0.35)"/><circle cx="588.7" cy="583.8" r="2.1" fill="rgba(120,165,220,0.35)"/><circle cx="570.4" cy="564.9" r="2.1" fill="rgba(200,10,60,0.5)"/><circle cx="589.5" cy="583.5" r="2.1" fill="rgba(120,165,220,0.35)"/><circle cx="597.7" cy="598.1" r="2.1" fill="rgba(120,165,220,0.35)"/><circle cx="596.4" cy="584.1" r="2.1" fill="rgba(200,10,60,0.5)"/><circle cx="586.9" cy="585.7" r="2.1" fill="rgba(120,165,220,0.35)"/><circle cx="593.9" cy="580.8" r="2.1" fill="rgba(200,10,60,0.5)"/><circle cx="570.1" cy="569.1" r="2.1" fill="rgba(200,10,60,0.5)"/><circle cx="592.3" cy="592.9" r="2.1" fill="rgba(120,165,220,0.35)"/><circle cx="574.9" cy="565.9" r="2.1" fill="rgba(200,10,60,0.5)"/><circle cx="573.2" cy="598.5" r="2.1" fill="rgba(120,165,220,0.35)"/><circle cx="567.0" cy="587.0" r="2.1" fill="rgba(110,175,230,0.55)"/><circle cx="606.4" cy="606.5" r="2.1" fill="rgba(200,10,60,0.5)"/><circle cx="606.5" cy="598.9" r="2.1" fill="rgba(120,165,220,0.35)"/><circle cx="622.9" cy="606.9" r="2.1" fill="rgba(200,10,60,0.5)"/><circle cx="586.4" cy="588.0" r="2.1" fill="rgba(200,10,60,0.5)"/><circle cx="602.0" cy="599.9" r="2.1" fill="rgba(210,60,110,0.3)"/><circle cx="622.6" cy="612.2" r="2.1" fill="rgba(200,10,60,0.5)"/><circle cx="599.5" cy="596.5" r="2.1" fill="rgba(120,165,220,0.35)"/><circle cx="567.2" cy="565.7" r="2.1" fill="rgba(200,10,60,0.5)"/><circle cx="626.2" cy="613.4" r="2.1" fill="rgba(200,10,60,0.5)"/><circle cx="594.7" cy="584.7" r="2.1" fill="rgba(200,10,60,0.5)"/><circle cx="573.3" cy="589.3" r="2.1" fill="rgba(120,165,220,0.35)"/><circle cx="605.0" cy="580.9" r="2.1" fill="rgba(200,10,60,0.5)"/><circle cx="612.4" cy="585.7" r="2.1" fill="rgba(120,165,220,0.35)"/><circle cx="595.1" cy="589.8" r="2.1" fill="rgba(200,10,60,0.5)"/><circle cx="632.5" cy="590.0" r="2.1" fill="rgba(110,175,230,0.55)"/><circle cx="612.8" cy="607.8" r="2.1" fill="rgba(200,10,60,0.5)"/><circle cx="577.8" cy="566.4" r="2.1" fill="rgba(200,10,60,0.5)"/><circle cx="587.8" cy="593.8" r="2.1" fill="rgba(120,165,220,0.35)"/><circle cx="630.6" cy="575.2" r="2.1" fill="rgba(210,60,110,0.3)"/><circle cx="564.9" cy="588.9" r="2.1" fill="rgba(200,10,60,0.5)"/><circle cx="593.6" cy="583.3" r="2.1" fill="rgba(120,165,220,0.35)"/><circle cx="625.9" cy="603.8" r="2.1" fill="rgba(200,10,60,0.5)"/><circle cx="598.8" cy="584.0" r="2.1" fill="rgba(120,165,220,0.35)"/><circle cx="605.5" cy="581.4" r="2.1" fill="rgba(120,165,220,0.35)"/><circle cx="579.0" cy="600.9" r="2.1" fill="rgba(210,60,110,0.3)"/><circle cx="595.0" cy="590.5" r="2.1" fill="rgba(200,10,60,0.5)"/><circle cx="567.9" cy="565.2" r="2.1" fill="rgba(200,10,60,0.5)"/><circle cx="598.0" cy="594.6" r="2.1" fill="rgba(120,165,220,0.35)"/><circle cx="575.4" cy="568.4" r="2.1" fill="rgba(200,10,60,0.5)"/><circle cx="597.5" cy="598.0" r="2.1" fill="rgba(120,165,220,0.35)"/><circle cx="589.7" cy="592.1" r="2.1" fill="rgba(200,10,60,0.5)"/><circle cx="620.1" cy="593.7" r="2.1" fill="rgba(120,165,220,0.35)"/><circle cx="604.8" cy="585.7" r="2.1" fill="rgba(120,165,220,0.35)"/><circle cx="608.2" cy="615.9" r="2.1" fill="rgba(200,10,60,0.5)"/><circle cx="582.9" cy="569.8" r="2.1" fill="rgba(200,10,60,0.5)"/><circle cx="574.6" cy="565.6" r="2.1" fill="rgba(200,10,60,0.5)"/><circle cx="580.6" cy="598.2" r="2.1" fill="rgba(120,165,220,0.35)"/><circle cx="623.0" cy="615.2" r="2.1" fill="rgba(200,10,60,0.5)"/><circle cx="594.0" cy="587.8" r="2.1" fill="rgba(200,10,60,0.5)"/>
<text x="534.6" y="534.6" font-size="12.3" text-anchor="end" fill="#262626" >2</text>
<text x="534.6" y="594.1" font-size="12.3" text-anchor="end" fill="#262626" >0</text>
<text x="534.6" y="653.7" font-size="12.3" text-anchor="end" fill="#262626" >-2</text>
<text x="537.5" y="663.7" font-size="12.3" text-anchor="middle" fill="#262626" >-3</text>
<text x="594.6" y="663.7" font-size="12.3" text-anchor="middle" fill="#262626" >0</text>
<text x="651.6" y="663.7" font-size="12.3" text-anchor="middle" fill="#262626" >3</text>
<text transform="translate(516.2,593.1) rotate(-90)" font-size="11.65" text-anchor="middle" fill="#262626" xml:space="preserve"><tspan>S</tspan><tspan font-size="8.5" font-style="italic" dy="2.2">11</tspan><tspan dy="-2.2">  [MPa] @ </tspan><tspan font-style="italic">ε</tspan><tspan font-size="8.5" font-style="italic" dy="2.2">22</tspan><tspan dy="-2.2"> = 3%</tspan></text>
<text x="591.8" y="680.2" font-size="11.65" text-anchor="middle" fill="#262626" xml:space="preserve"><tspan font-style="italic">S</tspan><tspan font-size="8.5" font-style="italic" dy="2.2">11</tspan><tspan dy="-2.2">  [MPa] @ </tspan><tspan font-style="italic">ε</tspan><tspan font-size="8.5" font-style="italic" dy="2.2">11</tspan><tspan dy="-2.2"> = 3%</tspan></text>
</svg></body></html>
